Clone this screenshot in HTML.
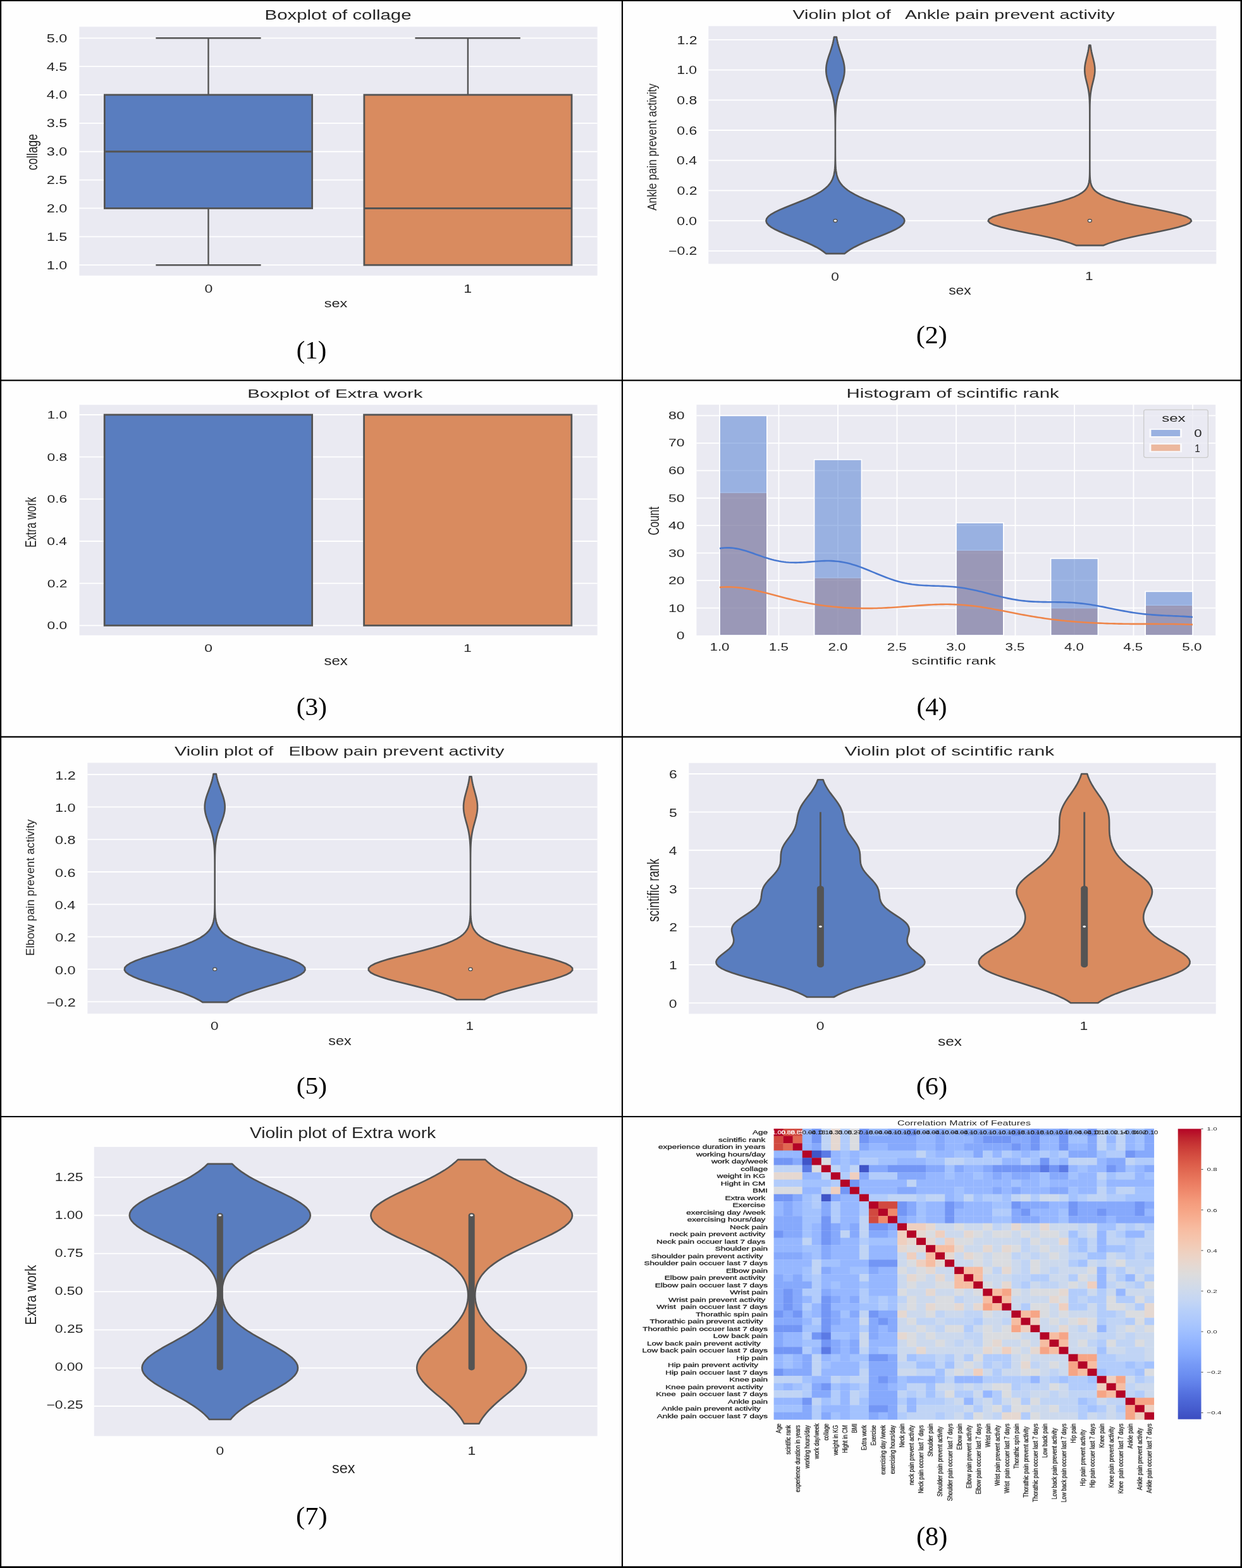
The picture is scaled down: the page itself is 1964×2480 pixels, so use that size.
<!DOCTYPE html>
<html><head><meta charset="utf-8"><title>Figures</title>
<style>html,body{margin:0;padding:0;background:#fff;overflow:hidden;width:1964px;height:2480px;}svg{display:block;}</style></head>
<body><svg width="1964" height="2480" viewBox="0 0 1964 2480">
<rect width="1964" height="2480" fill="#fefefe"/>
<rect x="125.40" y="42.30" width="819.20" height="393.60" fill="#eaeaf2" />
<line x1="125.40" y1="419.20" x2="944.60" y2="419.20" stroke="#fff" stroke-width="1.8"/>
<line x1="125.40" y1="374.34" x2="944.60" y2="374.34" stroke="#fff" stroke-width="1.8"/>
<line x1="125.40" y1="329.47" x2="944.60" y2="329.47" stroke="#fff" stroke-width="1.8"/>
<line x1="125.40" y1="284.61" x2="944.60" y2="284.61" stroke="#fff" stroke-width="1.8"/>
<line x1="125.40" y1="239.75" x2="944.60" y2="239.75" stroke="#fff" stroke-width="1.8"/>
<line x1="125.40" y1="194.89" x2="944.60" y2="194.89" stroke="#fff" stroke-width="1.8"/>
<line x1="125.40" y1="150.02" x2="944.60" y2="150.02" stroke="#fff" stroke-width="1.8"/>
<line x1="125.40" y1="105.16" x2="944.60" y2="105.16" stroke="#fff" stroke-width="1.8"/>
<line x1="125.40" y1="60.30" x2="944.60" y2="60.30" stroke="#fff" stroke-width="1.8"/>
<line x1="329.5" y1="150.02499999999998" x2="329.5" y2="60.3" stroke="#545454" stroke-width="2.4"/>
<line x1="246.4" y1="60.3" x2="412.6" y2="60.3" stroke="#545454" stroke-width="2.4"/>
<line x1="329.5" y1="329.47499999999997" x2="329.5" y2="419.2" stroke="#545454" stroke-width="2.4"/>
<line x1="246.4" y1="419.2" x2="412.6" y2="419.2" stroke="#545454" stroke-width="2.4"/>
<rect x="165.40" y="150.02" width="328.20" height="179.45" fill="#597dbf" stroke="#545454" stroke-width="2.8"/>
<line x1="165.4" y1="239.75" x2="493.6" y2="239.75" stroke="#545454" stroke-width="2.8"/>
<line x1="739.9" y1="150.02499999999998" x2="739.9" y2="60.3" stroke="#545454" stroke-width="2.4"/>
<line x1="656.4" y1="60.3" x2="822.8" y2="60.3" stroke="#545454" stroke-width="2.4"/>
<rect x="575.90" y="150.02" width="328.10" height="269.18" fill="#d98b5f" stroke="#545454" stroke-width="2.8"/>
<line x1="575.9" y1="329.47499999999997" x2="904.0" y2="329.47499999999997" stroke="#545454" stroke-width="2.8"/>
<rect x="125.50" y="640.30" width="819.10" height="364.50" fill="#eaeaf2" />
<line x1="125.50" y1="989.30" x2="944.60" y2="989.30" stroke="#fff" stroke-width="1.8"/>
<line x1="125.50" y1="922.64" x2="944.60" y2="922.64" stroke="#fff" stroke-width="1.8"/>
<line x1="125.50" y1="855.98" x2="944.60" y2="855.98" stroke="#fff" stroke-width="1.8"/>
<line x1="125.50" y1="789.32" x2="944.60" y2="789.32" stroke="#fff" stroke-width="1.8"/>
<line x1="125.50" y1="722.66" x2="944.60" y2="722.66" stroke="#fff" stroke-width="1.8"/>
<line x1="125.50" y1="656.00" x2="944.60" y2="656.00" stroke="#fff" stroke-width="1.8"/>
<rect x="165.20" y="656.00" width="328.40" height="333.30" fill="#597dbf" stroke="#545454" stroke-width="2.8"/>
<rect x="575.60" y="656.00" width="328.20" height="333.30" fill="#d98b5f" stroke="#545454" stroke-width="2.8"/>
<rect x="1120.30" y="41.30" width="803.00" height="376.00" fill="#eaeaf2" />
<line x1="1120.30" y1="396.80" x2="1923.30" y2="396.80" stroke="#fff" stroke-width="1.8"/>
<line x1="1120.30" y1="349.10" x2="1923.30" y2="349.10" stroke="#fff" stroke-width="1.8"/>
<line x1="1120.30" y1="301.40" x2="1923.30" y2="301.40" stroke="#fff" stroke-width="1.8"/>
<line x1="1120.30" y1="253.70" x2="1923.30" y2="253.70" stroke="#fff" stroke-width="1.8"/>
<line x1="1120.30" y1="206.00" x2="1923.30" y2="206.00" stroke="#fff" stroke-width="1.8"/>
<line x1="1120.30" y1="158.30" x2="1923.30" y2="158.30" stroke="#fff" stroke-width="1.8"/>
<line x1="1120.30" y1="110.60" x2="1923.30" y2="110.60" stroke="#fff" stroke-width="1.8"/>
<line x1="1120.30" y1="62.90" x2="1923.30" y2="62.90" stroke="#fff" stroke-width="1.8"/>
<path d="M1306.08,401.10 L1301.73,397.64 L1296.54,394.18 L1290.50,390.72 L1283.61,387.26 L1275.97,383.80 L1267.71,380.34 L1259.03,376.88 L1250.21,373.43 L1241.54,369.97 L1233.38,366.51 L1226.07,363.05 L1219.95,359.59 L1215.33,356.13 L1212.42,352.67 L1211.40,349.21 L1212.31,345.75 L1215.09,342.29 L1219.62,338.83 L1225.65,335.37 L1232.90,331.91 L1241.02,328.45 L1249.66,324.99 L1258.49,321.53 L1267.18,318.07 L1275.47,314.61 L1283.15,311.15 L1290.09,307.69 L1296.19,304.23 L1301.43,300.77 L1305.83,297.31 L1309.44,293.85 L1312.34,290.39 L1314.62,286.93 L1316.37,283.47 L1317.69,280.01 L1318.67,276.56 L1319.37,273.10 L1319.87,269.64 L1320.22,266.18 L1320.46,262.72 L1320.62,259.26 L1320.72,255.80 L1320.79,252.34 L1320.83,248.88 L1320.86,245.42 L1320.88,241.96 L1320.89,238.50 L1320.89,235.04 L1320.90,231.58 L1320.90,228.12 L1320.90,224.66 L1320.90,221.20 L1320.90,217.74 L1320.89,214.28 L1320.89,210.82 L1320.89,207.36 L1320.88,203.90 L1320.86,200.44 L1320.84,196.98 L1320.81,193.52 L1320.76,190.06 L1320.70,186.60 L1320.60,183.14 L1320.47,179.69 L1320.29,176.23 L1320.06,172.77 L1319.76,169.31 L1319.37,165.85 L1318.89,162.39 L1318.30,158.93 L1317.60,155.47 L1316.78,152.01 L1315.85,148.55 L1314.83,145.09 L1313.72,141.63 L1312.56,138.17 L1311.38,134.71 L1310.22,131.25 L1309.14,127.79 L1308.17,124.33 L1307.36,120.87 L1306.76,117.41 L1306.38,113.95 L1306.26,110.49 L1306.40,107.03 L1306.79,103.57 L1307.41,100.11 L1308.22,96.65 L1309.20,93.19 L1310.29,89.73 L1311.45,86.27 L1312.63,82.82 L1313.79,79.36 L1314.89,75.90 L1315.92,72.44 L1316.84,68.98 L1317.64,65.52 L1318.34,62.06 L1318.92,58.60 L1322.88,58.60 L1323.46,62.06 L1324.16,65.52 L1324.96,68.98 L1325.88,72.44 L1326.91,75.90 L1328.01,79.36 L1329.17,82.82 L1330.35,86.27 L1331.51,89.73 L1332.60,93.19 L1333.58,96.65 L1334.39,100.11 L1335.01,103.57 L1335.40,107.03 L1335.54,110.49 L1335.42,113.95 L1335.04,117.41 L1334.44,120.87 L1333.63,124.33 L1332.66,127.79 L1331.58,131.25 L1330.42,134.71 L1329.24,138.17 L1328.08,141.63 L1326.97,145.09 L1325.95,148.55 L1325.02,152.01 L1324.20,155.47 L1323.50,158.93 L1322.91,162.39 L1322.43,165.85 L1322.04,169.31 L1321.74,172.77 L1321.51,176.23 L1321.33,179.69 L1321.20,183.14 L1321.10,186.60 L1321.04,190.06 L1320.99,193.52 L1320.96,196.98 L1320.94,200.44 L1320.92,203.90 L1320.91,207.36 L1320.91,210.82 L1320.91,214.28 L1320.90,217.74 L1320.90,221.20 L1320.90,224.66 L1320.90,228.12 L1320.90,231.58 L1320.91,235.04 L1320.91,238.50 L1320.92,241.96 L1320.94,245.42 L1320.97,248.88 L1321.01,252.34 L1321.08,255.80 L1321.18,259.26 L1321.34,262.72 L1321.58,266.18 L1321.93,269.64 L1322.43,273.10 L1323.13,276.56 L1324.11,280.01 L1325.43,283.47 L1327.18,286.93 L1329.46,290.39 L1332.36,293.85 L1335.97,297.31 L1340.37,300.77 L1345.61,304.23 L1351.71,307.69 L1358.65,311.15 L1366.33,314.61 L1374.62,318.07 L1383.31,321.53 L1392.14,324.99 L1400.78,328.45 L1408.90,331.91 L1416.15,335.37 L1422.18,338.83 L1426.71,342.29 L1429.49,345.75 L1430.40,349.21 L1429.38,352.67 L1426.47,356.13 L1421.85,359.59 L1415.73,363.05 L1408.42,366.51 L1400.26,369.97 L1391.59,373.43 L1382.77,376.88 L1374.09,380.34 L1365.83,383.80 L1358.19,387.26 L1351.30,390.72 L1345.26,394.18 L1340.07,397.64 L1335.72,401.10 Z" fill="#597dbf" stroke="#545454" stroke-width="2.6" stroke-linejoin="round"/>
<ellipse cx="1320.9" cy="349.10" rx="3.0" ry="2.4" fill="#fff" stroke="#545454" stroke-width="1.4"/>
<path d="M1701.54,388.08 L1693.50,384.88 L1683.56,381.68 L1671.72,378.49 L1658.13,375.29 L1643.15,372.10 L1627.33,368.90 L1611.45,365.70 L1596.39,362.51 L1583.13,359.31 L1572.60,356.11 L1565.57,352.92 L1562.60,349.72 L1563.92,346.52 L1569.42,343.33 L1578.68,340.13 L1590.98,336.93 L1605.46,333.74 L1621.13,330.54 L1637.08,327.34 L1652.46,324.15 L1666.65,320.95 L1679.19,317.75 L1689.87,314.56 L1698.64,311.36 L1705.59,308.16 L1710.92,304.97 L1714.87,301.77 L1717.72,298.58 L1719.70,295.38 L1721.04,292.18 L1721.92,288.99 L1722.48,285.79 L1722.82,282.59 L1723.03,279.40 L1723.15,276.20 L1723.22,273.00 L1723.26,269.81 L1723.28,266.61 L1723.29,263.41 L1723.30,260.22 L1723.30,257.02 L1723.30,253.82 L1723.30,250.63 L1723.30,247.43 L1723.30,244.23 L1723.30,241.04 L1723.30,237.84 L1723.30,234.64 L1723.30,231.45 L1723.30,228.25 L1723.30,225.06 L1723.30,221.86 L1723.30,218.66 L1723.30,215.47 L1723.30,212.27 L1723.30,209.07 L1723.30,205.88 L1723.30,202.68 L1723.30,199.48 L1723.30,196.29 L1723.30,193.09 L1723.30,189.89 L1723.30,186.70 L1723.29,183.50 L1723.29,180.30 L1723.28,177.11 L1723.26,173.91 L1723.23,170.71 L1723.19,167.52 L1723.12,164.32 L1723.02,161.12 L1722.88,157.93 L1722.68,154.73 L1722.41,151.54 L1722.06,148.34 L1721.61,145.14 L1721.08,141.95 L1720.44,138.75 L1719.73,135.55 L1718.95,132.36 L1718.15,129.16 L1717.36,125.96 L1716.63,122.77 L1716.01,119.57 L1715.54,116.37 L1715.26,113.18 L1715.20,109.98 L1715.35,106.78 L1715.70,103.59 L1716.23,100.39 L1716.90,97.19 L1717.66,94.00 L1718.46,90.80 L1719.26,87.60 L1720.01,84.41 L1720.70,81.21 L1721.30,78.02 L1721.80,74.82 L1722.20,71.62 L1724.40,71.62 L1724.80,74.82 L1725.30,78.02 L1725.90,81.21 L1726.59,84.41 L1727.34,87.60 L1728.14,90.80 L1728.94,94.00 L1729.70,97.19 L1730.37,100.39 L1730.90,103.59 L1731.25,106.78 L1731.40,109.98 L1731.34,113.18 L1731.06,116.37 L1730.59,119.57 L1729.97,122.77 L1729.24,125.96 L1728.45,129.16 L1727.65,132.36 L1726.87,135.55 L1726.16,138.75 L1725.52,141.95 L1724.99,145.14 L1724.54,148.34 L1724.19,151.54 L1723.92,154.73 L1723.72,157.93 L1723.58,161.12 L1723.48,164.32 L1723.41,167.52 L1723.37,170.71 L1723.34,173.91 L1723.32,177.11 L1723.31,180.30 L1723.31,183.50 L1723.30,186.70 L1723.30,189.89 L1723.30,193.09 L1723.30,196.29 L1723.30,199.48 L1723.30,202.68 L1723.30,205.88 L1723.30,209.07 L1723.30,212.27 L1723.30,215.47 L1723.30,218.66 L1723.30,221.86 L1723.30,225.06 L1723.30,228.25 L1723.30,231.45 L1723.30,234.64 L1723.30,237.84 L1723.30,241.04 L1723.30,244.23 L1723.30,247.43 L1723.30,250.63 L1723.30,253.82 L1723.30,257.02 L1723.30,260.22 L1723.31,263.41 L1723.32,266.61 L1723.34,269.81 L1723.38,273.00 L1723.45,276.20 L1723.57,279.40 L1723.78,282.59 L1724.12,285.79 L1724.68,288.99 L1725.56,292.18 L1726.90,295.38 L1728.88,298.58 L1731.73,301.77 L1735.68,304.97 L1741.01,308.16 L1747.96,311.36 L1756.73,314.56 L1767.41,317.75 L1779.95,320.95 L1794.14,324.15 L1809.52,327.34 L1825.47,330.54 L1841.14,333.74 L1855.62,336.93 L1867.92,340.13 L1877.18,343.33 L1882.68,346.52 L1884.00,349.72 L1881.03,352.92 L1874.00,356.11 L1863.47,359.31 L1850.21,362.51 L1835.15,365.70 L1819.27,368.90 L1803.45,372.10 L1788.47,375.29 L1774.88,378.49 L1763.04,381.68 L1753.10,384.88 L1745.06,388.08 Z" fill="#d98b5f" stroke="#545454" stroke-width="2.6" stroke-linejoin="round"/>
<ellipse cx="1723.3" cy="349.10" rx="3.0" ry="2.4" fill="#fff" stroke="#545454" stroke-width="1.4"/>
<rect x="138.40" y="1206.50" width="806.20" height="396.80" fill="#eaeaf2" />
<line x1="138.40" y1="1584.30" x2="944.60" y2="1584.30" stroke="#fff" stroke-width="1.8"/>
<line x1="138.40" y1="1532.97" x2="944.60" y2="1532.97" stroke="#fff" stroke-width="1.8"/>
<line x1="138.40" y1="1481.64" x2="944.60" y2="1481.64" stroke="#fff" stroke-width="1.8"/>
<line x1="138.40" y1="1430.31" x2="944.60" y2="1430.31" stroke="#fff" stroke-width="1.8"/>
<line x1="138.40" y1="1378.99" x2="944.60" y2="1378.99" stroke="#fff" stroke-width="1.8"/>
<line x1="138.40" y1="1327.66" x2="944.60" y2="1327.66" stroke="#fff" stroke-width="1.8"/>
<line x1="138.40" y1="1276.33" x2="944.60" y2="1276.33" stroke="#fff" stroke-width="1.8"/>
<line x1="138.40" y1="1225.00" x2="944.60" y2="1225.00" stroke="#fff" stroke-width="1.8"/>
<path d="M320.35,1585.13 L314.35,1581.48 L307.14,1577.84 L298.69,1574.19 L289.05,1570.54 L278.34,1566.90 L266.82,1563.25 L254.81,1559.61 L242.73,1555.96 L231.08,1552.31 L220.38,1548.67 L211.17,1545.02 L203.93,1541.38 L199.05,1537.73 L196.82,1534.08 L197.36,1530.44 L200.65,1526.79 L206.49,1523.15 L214.55,1519.50 L224.41,1515.85 L235.54,1512.21 L247.42,1508.56 L259.53,1504.92 L271.39,1501.27 L282.63,1497.62 L292.94,1493.98 L302.13,1490.33 L310.10,1486.69 L316.83,1483.04 L322.37,1479.39 L326.82,1475.75 L330.32,1472.10 L333.00,1468.46 L335.00,1464.81 L336.47,1461.16 L337.53,1457.52 L338.26,1453.87 L338.77,1450.23 L339.11,1446.58 L339.33,1442.93 L339.47,1439.29 L339.56,1435.64 L339.62,1432.00 L339.65,1428.35 L339.67,1424.70 L339.69,1421.06 L339.69,1417.41 L339.70,1413.77 L339.70,1410.12 L339.70,1406.47 L339.70,1402.83 L339.70,1399.18 L339.70,1395.53 L339.70,1391.89 L339.70,1388.24 L339.70,1384.60 L339.69,1380.95 L339.69,1377.30 L339.68,1373.66 L339.67,1370.01 L339.66,1366.37 L339.63,1362.72 L339.60,1359.07 L339.54,1355.43 L339.46,1351.78 L339.34,1348.14 L339.18,1344.49 L338.95,1340.84 L338.65,1337.20 L338.26,1333.55 L337.77,1329.91 L337.15,1326.26 L336.40,1322.61 L335.51,1318.97 L334.48,1315.32 L333.33,1311.68 L332.07,1308.03 L330.75,1304.38 L329.40,1300.74 L328.07,1297.09 L326.83,1293.45 L325.73,1289.80 L324.83,1286.15 L324.17,1282.51 L323.81,1278.86 L323.75,1275.22 L324.00,1271.57 L324.54,1267.92 L325.35,1264.28 L326.38,1260.63 L327.57,1256.99 L328.87,1253.34 L330.22,1249.69 L331.56,1246.05 L332.85,1242.40 L334.04,1238.76 L335.12,1235.11 L336.06,1231.46 L336.87,1227.82 L337.54,1224.17 L341.86,1224.17 L342.53,1227.82 L343.34,1231.46 L344.28,1235.11 L345.36,1238.76 L346.55,1242.40 L347.84,1246.05 L349.18,1249.69 L350.53,1253.34 L351.83,1256.99 L353.02,1260.63 L354.05,1264.28 L354.86,1267.92 L355.40,1271.57 L355.65,1275.22 L355.59,1278.86 L355.23,1282.51 L354.57,1286.15 L353.67,1289.80 L352.57,1293.45 L351.33,1297.09 L350.00,1300.74 L348.65,1304.38 L347.33,1308.03 L346.07,1311.68 L344.92,1315.32 L343.89,1318.97 L343.00,1322.61 L342.25,1326.26 L341.63,1329.91 L341.14,1333.55 L340.75,1337.20 L340.45,1340.84 L340.22,1344.49 L340.06,1348.14 L339.94,1351.78 L339.86,1355.43 L339.80,1359.07 L339.77,1362.72 L339.74,1366.37 L339.73,1370.01 L339.72,1373.66 L339.71,1377.30 L339.71,1380.95 L339.70,1384.60 L339.70,1388.24 L339.70,1391.89 L339.70,1395.53 L339.70,1399.18 L339.70,1402.83 L339.70,1406.47 L339.70,1410.12 L339.70,1413.77 L339.71,1417.41 L339.71,1421.06 L339.73,1424.70 L339.75,1428.35 L339.78,1432.00 L339.84,1435.64 L339.93,1439.29 L340.07,1442.93 L340.29,1446.58 L340.63,1450.23 L341.14,1453.87 L341.87,1457.52 L342.93,1461.16 L344.40,1464.81 L346.40,1468.46 L349.08,1472.10 L352.58,1475.75 L357.03,1479.39 L362.57,1483.04 L369.30,1486.69 L377.27,1490.33 L386.46,1493.98 L396.77,1497.62 L408.01,1501.27 L419.87,1504.92 L431.98,1508.56 L443.86,1512.21 L454.99,1515.85 L464.85,1519.50 L472.91,1523.15 L478.75,1526.79 L482.04,1530.44 L482.58,1534.08 L480.35,1537.73 L475.47,1541.38 L468.23,1545.02 L459.02,1548.67 L448.32,1552.31 L436.67,1555.96 L424.59,1559.61 L412.58,1563.25 L401.06,1566.90 L390.35,1570.54 L380.71,1574.19 L372.26,1577.84 L365.05,1581.48 L359.05,1585.13 Z" fill="#597dbf" stroke="#545454" stroke-width="2.6" stroke-linejoin="round"/>
<ellipse cx="339.7" cy="1532.97" rx="3.0" ry="2.4" fill="#fff" stroke="#545454" stroke-width="1.4"/>
<path d="M722.13,1580.99 L714.89,1577.43 L706.11,1573.87 L695.75,1570.31 L683.90,1566.74 L670.76,1563.18 L656.70,1559.62 L642.20,1556.06 L627.88,1552.49 L614.42,1548.93 L602.56,1545.37 L592.97,1541.81 L586.24,1538.24 L582.80,1534.68 L582.87,1531.12 L586.45,1527.56 L593.30,1523.99 L602.99,1520.43 L614.93,1516.87 L628.44,1513.31 L642.78,1509.74 L657.27,1506.18 L671.31,1502.62 L684.40,1499.06 L696.20,1495.49 L706.49,1491.93 L715.21,1488.37 L722.39,1484.81 L728.13,1481.24 L732.59,1477.68 L735.98,1474.12 L738.49,1470.56 L740.29,1466.99 L741.56,1463.43 L742.43,1459.87 L743.01,1456.31 L743.39,1452.74 L743.63,1449.18 L743.78,1445.62 L743.88,1442.06 L743.93,1438.49 L743.96,1434.93 L743.98,1431.37 L743.99,1427.81 L743.99,1424.24 L744.00,1420.68 L744.00,1417.12 L744.00,1413.56 L744.00,1409.99 L744.00,1406.43 L744.00,1402.87 L744.00,1399.31 L744.00,1395.74 L744.00,1392.18 L744.00,1388.62 L744.00,1385.06 L744.00,1381.49 L744.00,1377.93 L744.00,1374.37 L744.00,1370.81 L743.99,1367.24 L743.99,1363.68 L743.97,1360.12 L743.96,1356.56 L743.93,1352.99 L743.89,1349.43 L743.83,1345.87 L743.75,1342.31 L743.62,1338.74 L743.45,1335.18 L743.22,1331.62 L742.91,1328.06 L742.52,1324.49 L742.03,1320.93 L741.44,1317.37 L740.73,1313.81 L739.92,1310.24 L739.03,1306.68 L738.07,1303.12 L737.08,1299.56 L736.10,1295.99 L735.17,1292.43 L734.36,1288.87 L733.70,1285.31 L733.23,1281.74 L732.98,1278.18 L732.98,1274.62 L733.21,1271.06 L733.67,1267.49 L734.33,1263.93 L735.14,1260.37 L736.06,1256.81 L737.04,1253.24 L738.03,1249.68 L738.99,1246.12 L739.89,1242.56 L740.70,1238.99 L741.41,1235.43 L742.01,1231.87 L742.50,1228.31 L745.50,1228.31 L745.99,1231.87 L746.59,1235.43 L747.30,1238.99 L748.11,1242.56 L749.01,1246.12 L749.97,1249.68 L750.96,1253.24 L751.94,1256.81 L752.86,1260.37 L753.67,1263.93 L754.33,1267.49 L754.79,1271.06 L755.02,1274.62 L755.02,1278.18 L754.77,1281.74 L754.30,1285.31 L753.64,1288.87 L752.83,1292.43 L751.90,1295.99 L750.92,1299.56 L749.93,1303.12 L748.97,1306.68 L748.08,1310.24 L747.27,1313.81 L746.56,1317.37 L745.97,1320.93 L745.48,1324.49 L745.09,1328.06 L744.78,1331.62 L744.55,1335.18 L744.38,1338.74 L744.25,1342.31 L744.17,1345.87 L744.11,1349.43 L744.07,1352.99 L744.04,1356.56 L744.03,1360.12 L744.01,1363.68 L744.01,1367.24 L744.00,1370.81 L744.00,1374.37 L744.00,1377.93 L744.00,1381.49 L744.00,1385.06 L744.00,1388.62 L744.00,1392.18 L744.00,1395.74 L744.00,1399.31 L744.00,1402.87 L744.00,1406.43 L744.00,1409.99 L744.00,1413.56 L744.00,1417.12 L744.00,1420.68 L744.01,1424.24 L744.01,1427.81 L744.02,1431.37 L744.04,1434.93 L744.07,1438.49 L744.12,1442.06 L744.22,1445.62 L744.37,1449.18 L744.61,1452.74 L744.99,1456.31 L745.57,1459.87 L746.44,1463.43 L747.71,1466.99 L749.51,1470.56 L752.02,1474.12 L755.41,1477.68 L759.87,1481.24 L765.61,1484.81 L772.79,1488.37 L781.51,1491.93 L791.80,1495.49 L803.60,1499.06 L816.69,1502.62 L830.73,1506.18 L845.22,1509.74 L859.56,1513.31 L873.07,1516.87 L885.01,1520.43 L894.70,1523.99 L901.55,1527.56 L905.13,1531.12 L905.20,1534.68 L901.76,1538.24 L895.03,1541.81 L885.44,1545.37 L873.58,1548.93 L860.12,1552.49 L845.80,1556.06 L831.30,1559.62 L817.24,1563.18 L804.10,1566.74 L792.25,1570.31 L781.89,1573.87 L773.11,1577.43 L765.87,1580.99 Z" fill="#d98b5f" stroke="#545454" stroke-width="2.6" stroke-linejoin="round"/>
<ellipse cx="744.0" cy="1532.97" rx="3.0" ry="2.4" fill="#fff" stroke="#545454" stroke-width="1.4"/>
<rect x="1089.30" y="1206.80" width="833.40" height="396.70" fill="#eaeaf2" />
<line x1="1089.30" y1="1586.30" x2="1922.70" y2="1586.30" stroke="#fff" stroke-width="1.8"/>
<line x1="1089.30" y1="1525.92" x2="1922.70" y2="1525.92" stroke="#fff" stroke-width="1.8"/>
<line x1="1089.30" y1="1465.53" x2="1922.70" y2="1465.53" stroke="#fff" stroke-width="1.8"/>
<line x1="1089.30" y1="1405.15" x2="1922.70" y2="1405.15" stroke="#fff" stroke-width="1.8"/>
<line x1="1089.30" y1="1344.77" x2="1922.70" y2="1344.77" stroke="#fff" stroke-width="1.8"/>
<line x1="1089.30" y1="1284.38" x2="1922.70" y2="1284.38" stroke="#fff" stroke-width="1.8"/>
<line x1="1089.30" y1="1224.00" x2="1922.70" y2="1224.00" stroke="#fff" stroke-width="1.8"/>
<path d="M1276.27,1577.00 L1269.92,1573.53 L1262.31,1570.06 L1253.41,1566.59 L1243.26,1563.11 L1231.98,1559.64 L1219.78,1556.17 L1206.95,1552.70 L1193.90,1549.23 L1181.06,1545.76 L1168.92,1542.28 L1157.96,1538.81 L1148.60,1535.34 L1141.21,1531.87 L1136.01,1528.40 L1133.07,1524.92 L1132.31,1521.45 L1133.50,1517.98 L1136.26,1514.51 L1140.12,1511.04 L1144.56,1507.57 L1149.05,1504.09 L1153.14,1500.62 L1156.46,1497.15 L1158.78,1493.68 L1160.04,1490.21 L1160.31,1486.74 L1159.81,1483.26 L1158.87,1479.79 L1157.84,1476.32 L1157.14,1472.85 L1157.08,1469.38 L1157.94,1465.91 L1159.87,1462.43 L1162.88,1458.96 L1166.86,1455.49 L1171.61,1452.02 L1176.82,1448.55 L1182.15,1445.07 L1187.29,1441.60 L1191.92,1438.13 L1195.84,1434.66 L1198.92,1431.19 L1201.15,1427.72 L1202.61,1424.24 L1203.48,1420.77 L1203.98,1417.30 L1204.38,1413.83 L1204.92,1410.36 L1205.80,1406.89 L1207.19,1403.41 L1209.13,1399.94 L1211.62,1396.47 L1214.56,1393.00 L1217.79,1389.53 L1221.12,1386.06 L1224.34,1382.58 L1227.26,1379.11 L1229.74,1375.64 L1231.68,1372.17 L1233.06,1368.70 L1233.92,1365.23 L1234.37,1361.75 L1234.56,1358.28 L1234.66,1354.81 L1234.84,1351.34 L1235.28,1347.87 L1236.07,1344.39 L1237.30,1340.92 L1238.97,1337.45 L1241.04,1333.98 L1243.42,1330.51 L1245.98,1327.04 L1248.58,1323.56 L1251.08,1320.09 L1253.36,1316.62 L1255.33,1313.15 L1256.95,1309.68 L1258.21,1306.21 L1259.15,1302.73 L1259.87,1299.26 L1260.45,1295.79 L1261.01,1292.32 L1261.68,1288.85 L1262.55,1285.38 L1263.69,1281.90 L1265.15,1278.43 L1266.93,1274.96 L1269.03,1271.49 L1271.38,1268.02 L1273.92,1264.54 L1276.56,1261.07 L1279.22,1257.60 L1281.82,1254.13 L1284.28,1250.66 L1286.55,1247.19 L1288.59,1243.71 L1290.37,1240.24 L1291.90,1236.77 L1293.17,1233.30 L1301.63,1233.30 L1302.90,1236.77 L1304.43,1240.24 L1306.21,1243.71 L1308.25,1247.19 L1310.52,1250.66 L1312.98,1254.13 L1315.58,1257.60 L1318.24,1261.07 L1320.88,1264.54 L1323.42,1268.02 L1325.77,1271.49 L1327.87,1274.96 L1329.65,1278.43 L1331.11,1281.90 L1332.25,1285.38 L1333.12,1288.85 L1333.79,1292.32 L1334.35,1295.79 L1334.93,1299.26 L1335.65,1302.73 L1336.59,1306.21 L1337.85,1309.68 L1339.47,1313.15 L1341.44,1316.62 L1343.72,1320.09 L1346.22,1323.56 L1348.82,1327.04 L1351.38,1330.51 L1353.76,1333.98 L1355.83,1337.45 L1357.50,1340.92 L1358.73,1344.39 L1359.52,1347.87 L1359.96,1351.34 L1360.14,1354.81 L1360.24,1358.28 L1360.43,1361.75 L1360.88,1365.23 L1361.74,1368.70 L1363.12,1372.17 L1365.06,1375.64 L1367.54,1379.11 L1370.46,1382.58 L1373.68,1386.06 L1377.01,1389.53 L1380.24,1393.00 L1383.18,1396.47 L1385.67,1399.94 L1387.61,1403.41 L1389.00,1406.89 L1389.88,1410.36 L1390.42,1413.83 L1390.82,1417.30 L1391.32,1420.77 L1392.19,1424.24 L1393.65,1427.72 L1395.88,1431.19 L1398.96,1434.66 L1402.88,1438.13 L1407.51,1441.60 L1412.65,1445.07 L1417.98,1448.55 L1423.19,1452.02 L1427.94,1455.49 L1431.92,1458.96 L1434.93,1462.43 L1436.86,1465.91 L1437.72,1469.38 L1437.66,1472.85 L1436.96,1476.32 L1435.93,1479.79 L1434.99,1483.26 L1434.49,1486.74 L1434.76,1490.21 L1436.02,1493.68 L1438.34,1497.15 L1441.66,1500.62 L1445.75,1504.09 L1450.24,1507.57 L1454.68,1511.04 L1458.54,1514.51 L1461.30,1517.98 L1462.49,1521.45 L1461.73,1524.92 L1458.79,1528.40 L1453.59,1531.87 L1446.20,1535.34 L1436.84,1538.81 L1425.88,1542.28 L1413.74,1545.76 L1400.90,1549.23 L1387.85,1552.70 L1375.02,1556.17 L1362.82,1559.64 L1351.54,1563.11 L1341.39,1566.59 L1332.49,1570.06 L1324.88,1573.53 L1318.53,1577.00 Z" fill="#597dbf" stroke="#545454" stroke-width="2.6" stroke-linejoin="round"/>
<line x1="1297.4" y1="1525.92" x2="1297.4" y2="1284.38" stroke="#545454" stroke-width="2.9"/>
<rect x="1291.90" y="1400.92" width="11.00" height="129.23" rx="5.50" ry="4.23" fill="#545454"/>
<ellipse cx="1297.4" cy="1465.53" rx="2.7" ry="1.8" fill="#fff" stroke="#545454" stroke-width="0.5"/>
<path d="M1693.40,1586.29 L1687.74,1582.63 L1681.08,1578.97 L1673.39,1575.31 L1664.66,1571.66 L1654.97,1568.00 L1644.43,1564.34 L1633.21,1560.68 L1621.56,1557.02 L1609.74,1553.36 L1598.09,1549.70 L1586.95,1546.04 L1576.68,1542.38 L1567.60,1538.72 L1560.01,1535.06 L1554.12,1531.40 L1550.11,1527.74 L1548.01,1524.08 L1547.80,1520.42 L1549.36,1516.76 L1552.48,1513.10 L1556.90,1509.44 L1562.32,1505.78 L1568.42,1502.13 L1574.88,1498.47 L1581.40,1494.81 L1587.75,1491.15 L1593.73,1487.49 L1599.20,1483.83 L1604.08,1480.17 L1608.31,1476.51 L1611.90,1472.85 L1614.86,1469.19 L1617.23,1465.53 L1619.03,1461.87 L1620.29,1458.21 L1621.03,1454.55 L1621.26,1450.89 L1621.01,1447.23 L1620.30,1443.57 L1619.16,1439.91 L1617.67,1436.26 L1615.90,1432.60 L1613.99,1428.94 L1612.06,1425.28 L1610.28,1421.62 L1608.81,1417.96 L1607.81,1414.30 L1607.42,1410.64 L1607.75,1406.98 L1608.86,1403.32 L1610.78,1399.66 L1613.47,1396.00 L1616.86,1392.34 L1620.84,1388.68 L1625.26,1385.02 L1629.97,1381.36 L1634.81,1377.70 L1639.62,1374.04 L1644.28,1370.39 L1648.68,1366.73 L1652.74,1363.07 L1656.42,1359.41 L1659.70,1355.75 L1662.59,1352.09 L1665.10,1348.43 L1667.25,1344.77 L1669.09,1341.11 L1670.65,1337.45 L1671.93,1333.79 L1672.98,1330.13 L1673.80,1326.47 L1674.42,1322.81 L1674.84,1319.15 L1675.10,1315.49 L1675.23,1311.83 L1675.27,1308.17 L1675.27,1304.52 L1675.30,1300.86 L1675.40,1297.20 L1675.66,1293.54 L1676.13,1289.88 L1676.84,1286.22 L1677.85,1282.56 L1679.17,1278.90 L1680.78,1275.24 L1682.69,1271.58 L1684.84,1267.92 L1687.20,1264.26 L1689.69,1260.60 L1692.25,1256.94 L1694.83,1253.28 L1697.35,1249.62 L1699.76,1245.96 L1702.01,1242.30 L1704.08,1238.64 L1705.94,1234.99 L1707.57,1231.33 L1708.99,1227.67 L1710.19,1224.01 L1719.21,1224.01 L1720.41,1227.67 L1721.83,1231.33 L1723.46,1234.99 L1725.32,1238.64 L1727.39,1242.30 L1729.64,1245.96 L1732.05,1249.62 L1734.57,1253.28 L1737.15,1256.94 L1739.71,1260.60 L1742.20,1264.26 L1744.56,1267.92 L1746.71,1271.58 L1748.62,1275.24 L1750.23,1278.90 L1751.55,1282.56 L1752.56,1286.22 L1753.27,1289.88 L1753.74,1293.54 L1754.00,1297.20 L1754.10,1300.86 L1754.13,1304.52 L1754.13,1308.17 L1754.17,1311.83 L1754.30,1315.49 L1754.56,1319.15 L1754.98,1322.81 L1755.60,1326.47 L1756.42,1330.13 L1757.47,1333.79 L1758.75,1337.45 L1760.31,1341.11 L1762.15,1344.77 L1764.30,1348.43 L1766.81,1352.09 L1769.70,1355.75 L1772.98,1359.41 L1776.66,1363.07 L1780.72,1366.73 L1785.12,1370.39 L1789.78,1374.04 L1794.59,1377.70 L1799.43,1381.36 L1804.14,1385.02 L1808.56,1388.68 L1812.54,1392.34 L1815.93,1396.00 L1818.62,1399.66 L1820.54,1403.32 L1821.65,1406.98 L1821.98,1410.64 L1821.59,1414.30 L1820.59,1417.96 L1819.12,1421.62 L1817.34,1425.28 L1815.41,1428.94 L1813.50,1432.60 L1811.73,1436.26 L1810.24,1439.91 L1809.10,1443.57 L1808.39,1447.23 L1808.14,1450.89 L1808.37,1454.55 L1809.11,1458.21 L1810.37,1461.87 L1812.17,1465.53 L1814.54,1469.19 L1817.50,1472.85 L1821.09,1476.51 L1825.32,1480.17 L1830.20,1483.83 L1835.67,1487.49 L1841.65,1491.15 L1848.00,1494.81 L1854.52,1498.47 L1860.98,1502.13 L1867.08,1505.78 L1872.50,1509.44 L1876.92,1513.10 L1880.04,1516.76 L1881.60,1520.42 L1881.39,1524.08 L1879.29,1527.74 L1875.28,1531.40 L1869.39,1535.06 L1861.80,1538.72 L1852.72,1542.38 L1842.45,1546.04 L1831.31,1549.70 L1819.66,1553.36 L1807.84,1557.02 L1796.19,1560.68 L1784.97,1564.34 L1774.43,1568.00 L1764.74,1571.66 L1756.01,1575.31 L1748.32,1578.97 L1741.66,1582.63 L1736.00,1586.29 Z" fill="#d98b5f" stroke="#545454" stroke-width="2.6" stroke-linejoin="round"/>
<line x1="1714.7" y1="1525.92" x2="1714.7" y2="1284.38" stroke="#545454" stroke-width="2.9"/>
<rect x="1709.20" y="1400.92" width="11.00" height="129.23" rx="5.50" ry="4.23" fill="#545454"/>
<ellipse cx="1714.7" cy="1465.53" rx="2.7" ry="1.8" fill="#fff" stroke="#545454" stroke-width="0.5"/>
<rect x="148.80" y="1814.00" width="795.80" height="457.30" fill="#eaeaf2" />
<line x1="148.80" y1="2224.00" x2="944.60" y2="2224.00" stroke="#fff" stroke-width="1.8"/>
<line x1="148.80" y1="2163.65" x2="944.60" y2="2163.65" stroke="#fff" stroke-width="1.8"/>
<line x1="148.80" y1="2103.30" x2="944.60" y2="2103.30" stroke="#fff" stroke-width="1.8"/>
<line x1="148.80" y1="2042.95" x2="944.60" y2="2042.95" stroke="#fff" stroke-width="1.8"/>
<line x1="148.80" y1="1982.60" x2="944.60" y2="1982.60" stroke="#fff" stroke-width="1.8"/>
<line x1="148.80" y1="1922.25" x2="944.60" y2="1922.25" stroke="#fff" stroke-width="1.8"/>
<line x1="148.80" y1="1861.90" x2="944.60" y2="1861.90" stroke="#fff" stroke-width="1.8"/>
<path d="M331.12,2245.03 L327.52,2240.95 L323.38,2236.87 L318.69,2232.78 L313.46,2228.70 L307.69,2224.62 L301.41,2220.54 L294.70,2216.45 L287.62,2212.37 L280.27,2208.29 L272.80,2204.21 L265.32,2200.12 L258.02,2196.04 L251.04,2191.96 L244.57,2187.88 L238.76,2183.79 L233.78,2179.71 L229.77,2175.63 L226.84,2171.55 L225.09,2167.46 L224.55,2163.38 L225.25,2159.30 L227.16,2155.22 L230.24,2151.13 L234.38,2147.05 L239.48,2142.97 L245.38,2138.89 L251.93,2134.80 L258.96,2130.72 L266.30,2126.64 L273.78,2122.56 L281.25,2118.48 L288.56,2114.39 L295.60,2110.31 L302.26,2106.23 L308.47,2102.15 L314.16,2098.06 L319.32,2093.98 L323.92,2089.90 L327.97,2085.82 L331.49,2081.73 L334.50,2077.65 L337.03,2073.57 L339.12,2069.49 L340.82,2065.40 L342.17,2061.32 L343.18,2057.24 L343.90,2053.16 L344.35,2049.07 L344.53,2044.99 L344.46,2040.91 L344.13,2036.83 L343.52,2032.74 L342.62,2028.66 L341.39,2024.58 L339.79,2020.50 L337.79,2016.41 L335.34,2012.33 L332.39,2008.25 L328.89,2004.17 L324.81,2000.08 L320.10,1996.00 L314.76,1991.92 L308.77,1987.84 L302.16,1983.75 L294.96,1979.67 L287.23,1975.59 L279.06,1971.51 L270.58,1967.42 L261.91,1963.34 L253.23,1959.26 L244.71,1955.18 L236.56,1951.10 L228.96,1947.01 L222.11,1942.93 L216.20,1938.85 L211.39,1934.77 L207.82,1930.68 L205.59,1926.60 L204.78,1922.52 L205.41,1918.44 L207.45,1914.35 L210.84,1910.27 L215.50,1906.19 L221.27,1902.11 L228.01,1898.02 L235.52,1893.94 L243.62,1889.86 L252.10,1885.78 L260.77,1881.69 L269.44,1877.61 L277.96,1873.53 L286.18,1869.45 L293.97,1865.36 L301.25,1861.28 L307.95,1857.20 L314.03,1853.12 L319.46,1849.03 L324.26,1844.95 L328.44,1840.87 L367.16,1840.87 L371.34,1844.95 L376.14,1849.03 L381.57,1853.12 L387.65,1857.20 L394.35,1861.28 L401.63,1865.36 L409.42,1869.45 L417.64,1873.53 L426.16,1877.61 L434.83,1881.69 L443.50,1885.78 L451.98,1889.86 L460.08,1893.94 L467.59,1898.02 L474.33,1902.11 L480.10,1906.19 L484.76,1910.27 L488.15,1914.35 L490.19,1918.44 L490.82,1922.52 L490.01,1926.60 L487.78,1930.68 L484.21,1934.77 L479.40,1938.85 L473.49,1942.93 L466.64,1947.01 L459.04,1951.10 L450.89,1955.18 L442.37,1959.26 L433.69,1963.34 L425.02,1967.42 L416.54,1971.51 L408.37,1975.59 L400.64,1979.67 L393.44,1983.75 L386.83,1987.84 L380.84,1991.92 L375.50,1996.00 L370.79,2000.08 L366.71,2004.17 L363.21,2008.25 L360.26,2012.33 L357.81,2016.41 L355.81,2020.50 L354.21,2024.58 L352.98,2028.66 L352.08,2032.74 L351.47,2036.83 L351.14,2040.91 L351.07,2044.99 L351.25,2049.07 L351.70,2053.16 L352.42,2057.24 L353.43,2061.32 L354.78,2065.40 L356.48,2069.49 L358.57,2073.57 L361.10,2077.65 L364.11,2081.73 L367.63,2085.82 L371.68,2089.90 L376.28,2093.98 L381.44,2098.06 L387.13,2102.15 L393.34,2106.23 L400.00,2110.31 L407.04,2114.39 L414.35,2118.48 L421.82,2122.56 L429.30,2126.64 L436.64,2130.72 L443.67,2134.80 L450.22,2138.89 L456.12,2142.97 L461.22,2147.05 L465.36,2151.13 L468.44,2155.22 L470.35,2159.30 L471.05,2163.38 L470.51,2167.46 L468.76,2171.55 L465.83,2175.63 L461.82,2179.71 L456.84,2183.79 L451.03,2187.88 L444.56,2191.96 L437.58,2196.04 L430.28,2200.12 L422.80,2204.21 L415.33,2208.29 L407.98,2212.37 L400.90,2216.45 L394.19,2220.54 L387.91,2224.62 L382.14,2228.70 L376.91,2232.78 L372.22,2236.87 L368.08,2240.95 L364.48,2245.03 Z" fill="#597dbf" stroke="#545454" stroke-width="2.6" stroke-linejoin="round"/>
<line x1="347.8" y1="2163.65" x2="347.8" y2="1922.25" stroke="#545454" stroke-width="2.9"/>
<rect x="342.80" y="1918.40" width="10.00" height="249.09" rx="5.00" ry="3.85" fill="#545454"/>
<ellipse cx="347.8" cy="1922.25" rx="2.7" ry="1.8" fill="#fff" stroke="#545454" stroke-width="0.5"/>
<path d="M733.99,2251.79 L731.58,2247.57 L728.84,2243.35 L725.74,2239.14 L722.29,2234.92 L718.50,2230.70 L714.38,2226.48 L709.96,2222.26 L705.29,2218.04 L700.43,2213.82 L695.45,2209.60 L690.43,2205.38 L685.46,2201.16 L680.65,2196.95 L676.09,2192.73 L671.89,2188.51 L668.15,2184.29 L664.96,2180.07 L662.42,2175.85 L660.57,2171.63 L659.48,2167.41 L659.17,2163.19 L659.65,2158.97 L660.91,2154.75 L662.91,2150.54 L665.60,2146.32 L668.91,2142.10 L672.76,2137.88 L677.05,2133.66 L681.67,2129.44 L686.53,2125.22 L691.51,2121.00 L696.53,2116.78 L701.48,2112.56 L706.30,2108.35 L710.91,2104.13 L715.25,2099.91 L719.28,2095.69 L722.97,2091.47 L726.30,2087.25 L729.26,2083.03 L731.84,2078.81 L734.06,2074.59 L735.92,2070.37 L737.44,2066.15 L738.62,2061.94 L739.47,2057.72 L740.00,2053.50 L740.21,2049.28 L740.10,2045.06 L739.65,2040.84 L738.85,2036.62 L737.66,2032.40 L736.07,2028.18 L734.02,2023.96 L731.49,2019.75 L728.43,2015.53 L724.80,2011.31 L720.56,2007.09 L715.69,2002.87 L710.17,1998.65 L703.98,1994.43 L697.15,1990.21 L689.70,1985.99 L681.69,1981.77 L673.20,1977.55 L664.32,1973.34 L655.19,1969.12 L645.95,1964.90 L636.77,1960.68 L627.83,1956.46 L619.32,1952.24 L611.43,1948.02 L604.35,1943.80 L598.25,1939.58 L593.29,1935.36 L589.60,1931.15 L587.29,1926.93 L586.40,1922.71 L586.97,1918.49 L588.98,1914.27 L592.38,1910.05 L597.07,1905.83 L602.94,1901.61 L609.82,1897.39 L617.55,1893.17 L625.94,1888.95 L634.81,1884.74 L643.95,1880.52 L653.20,1876.30 L662.37,1872.08 L671.31,1867.86 L679.90,1863.64 L688.03,1859.42 L695.62,1855.20 L702.61,1850.98 L708.96,1846.76 L714.65,1842.55 L719.71,1838.33 L724.14,1834.11 L767.26,1834.11 L771.69,1838.33 L776.75,1842.55 L782.44,1846.76 L788.79,1850.98 L795.78,1855.20 L803.37,1859.42 L811.50,1863.64 L820.09,1867.86 L829.03,1872.08 L838.20,1876.30 L847.45,1880.52 L856.59,1884.74 L865.46,1888.95 L873.85,1893.17 L881.58,1897.39 L888.46,1901.61 L894.33,1905.83 L899.02,1910.05 L902.42,1914.27 L904.43,1918.49 L905.00,1922.71 L904.11,1926.93 L901.80,1931.15 L898.11,1935.36 L893.15,1939.58 L887.05,1943.80 L879.97,1948.02 L872.08,1952.24 L863.57,1956.46 L854.63,1960.68 L845.45,1964.90 L836.21,1969.12 L827.08,1973.34 L818.20,1977.55 L809.71,1981.77 L801.70,1985.99 L794.25,1990.21 L787.42,1994.43 L781.23,1998.65 L775.71,2002.87 L770.84,2007.09 L766.60,2011.31 L762.97,2015.53 L759.91,2019.75 L757.38,2023.96 L755.33,2028.18 L753.74,2032.40 L752.55,2036.62 L751.75,2040.84 L751.30,2045.06 L751.19,2049.28 L751.40,2053.50 L751.93,2057.72 L752.78,2061.94 L753.96,2066.15 L755.48,2070.37 L757.34,2074.59 L759.56,2078.81 L762.14,2083.03 L765.10,2087.25 L768.43,2091.47 L772.12,2095.69 L776.15,2099.91 L780.49,2104.13 L785.10,2108.35 L789.92,2112.56 L794.87,2116.78 L799.89,2121.00 L804.87,2125.22 L809.73,2129.44 L814.35,2133.66 L818.64,2137.88 L822.49,2142.10 L825.80,2146.32 L828.49,2150.54 L830.49,2154.75 L831.75,2158.97 L832.23,2163.19 L831.92,2167.41 L830.83,2171.63 L828.98,2175.85 L826.44,2180.07 L823.25,2184.29 L819.51,2188.51 L815.31,2192.73 L810.75,2196.95 L805.94,2201.16 L800.97,2205.38 L795.95,2209.60 L790.97,2213.82 L786.11,2218.04 L781.44,2222.26 L777.02,2226.48 L772.90,2230.70 L769.11,2234.92 L765.66,2239.14 L762.56,2243.35 L759.82,2247.57 L757.41,2251.79 Z" fill="#d98b5f" stroke="#545454" stroke-width="2.6" stroke-linejoin="round"/>
<line x1="745.7" y1="2163.65" x2="745.7" y2="1922.25" stroke="#545454" stroke-width="2.9"/>
<rect x="740.70" y="1918.40" width="10.00" height="249.09" rx="5.00" ry="3.85" fill="#545454"/>
<ellipse cx="745.7" cy="1922.25" rx="2.7" ry="1.8" fill="#fff" stroke="#545454" stroke-width="0.5"/>
<rect x="1101.40" y="640.10" width="820.80" height="364.90" fill="#eaeaf2" />
<line x1="1101.40" y1="961.55" x2="1922.20" y2="961.55" stroke="#fff" stroke-width="1.8"/>
<line x1="1101.40" y1="918.10" x2="1922.20" y2="918.10" stroke="#fff" stroke-width="1.8"/>
<line x1="1101.40" y1="874.65" x2="1922.20" y2="874.65" stroke="#fff" stroke-width="1.8"/>
<line x1="1101.40" y1="831.20" x2="1922.20" y2="831.20" stroke="#fff" stroke-width="1.8"/>
<line x1="1101.40" y1="787.75" x2="1922.20" y2="787.75" stroke="#fff" stroke-width="1.8"/>
<line x1="1101.40" y1="744.30" x2="1922.20" y2="744.30" stroke="#fff" stroke-width="1.8"/>
<line x1="1101.40" y1="700.85" x2="1922.20" y2="700.85" stroke="#fff" stroke-width="1.8"/>
<line x1="1101.40" y1="657.40" x2="1922.20" y2="657.40" stroke="#fff" stroke-width="1.8"/>
<line x1="1138.00" y1="640.10" x2="1138.00" y2="1005.00" stroke="#fff" stroke-width="1.8"/>
<line x1="1231.50" y1="640.10" x2="1231.50" y2="1005.00" stroke="#fff" stroke-width="1.8"/>
<line x1="1325.00" y1="640.10" x2="1325.00" y2="1005.00" stroke="#fff" stroke-width="1.8"/>
<line x1="1418.50" y1="640.10" x2="1418.50" y2="1005.00" stroke="#fff" stroke-width="1.8"/>
<line x1="1512.00" y1="640.10" x2="1512.00" y2="1005.00" stroke="#fff" stroke-width="1.8"/>
<line x1="1605.50" y1="640.10" x2="1605.50" y2="1005.00" stroke="#fff" stroke-width="1.8"/>
<line x1="1699.00" y1="640.10" x2="1699.00" y2="1005.00" stroke="#fff" stroke-width="1.8"/>
<line x1="1792.50" y1="640.10" x2="1792.50" y2="1005.00" stroke="#fff" stroke-width="1.8"/>
<line x1="1886.00" y1="640.10" x2="1886.00" y2="1005.00" stroke="#fff" stroke-width="1.8"/>
<rect x="1138.00" y="779.06" width="74.80" height="225.94" fill="#ee854a" fill-opacity="0.5" stroke="#fff" stroke-width="1.6"/>
<rect x="1287.60" y="913.75" width="74.80" height="91.25" fill="#ee854a" fill-opacity="0.5" stroke="#fff" stroke-width="1.6"/>
<rect x="1512.00" y="870.31" width="74.80" height="134.69" fill="#ee854a" fill-opacity="0.5" stroke="#fff" stroke-width="1.6"/>
<rect x="1661.60" y="961.55" width="74.80" height="43.45" fill="#ee854a" fill-opacity="0.5" stroke="#fff" stroke-width="1.6"/>
<rect x="1811.20" y="957.21" width="74.80" height="47.79" fill="#ee854a" fill-opacity="0.5" stroke="#fff" stroke-width="1.6"/>
<rect x="1138.00" y="657.40" width="74.80" height="347.60" fill="#4878d0" fill-opacity="0.5" stroke="#fff" stroke-width="1.6"/>
<rect x="1287.60" y="726.92" width="74.80" height="278.08" fill="#4878d0" fill-opacity="0.5" stroke="#fff" stroke-width="1.6"/>
<rect x="1512.00" y="826.86" width="74.80" height="178.14" fill="#4878d0" fill-opacity="0.5" stroke="#fff" stroke-width="1.6"/>
<rect x="1661.60" y="883.34" width="74.80" height="121.66" fill="#4878d0" fill-opacity="0.5" stroke="#fff" stroke-width="1.6"/>
<rect x="1811.20" y="935.48" width="74.80" height="69.52" fill="#4878d0" fill-opacity="0.5" stroke="#fff" stroke-width="1.6"/>
<path d="M1138.00,928.93 L1141.76,928.66 L1145.52,928.48 L1149.28,928.40 L1153.04,928.42 L1156.79,928.52 L1160.55,928.71 L1164.31,928.99 L1168.07,929.35 L1171.83,929.79 L1175.59,930.29 L1179.35,930.87 L1183.11,931.51 L1186.86,932.21 L1190.62,932.96 L1194.38,933.77 L1198.14,934.61 L1201.90,935.49 L1205.66,936.40 L1209.42,937.34 L1213.18,938.30 L1216.93,939.28 L1220.69,940.27 L1224.45,941.26 L1228.21,942.25 L1231.97,943.25 L1235.73,944.23 L1239.49,945.21 L1243.25,946.17 L1247.01,947.12 L1250.76,948.04 L1254.52,948.94 L1258.28,949.82 L1262.04,950.67 L1265.80,951.49 L1269.56,952.29 L1273.32,953.05 L1277.08,953.78 L1280.83,954.48 L1284.59,955.15 L1288.35,955.78 L1292.11,956.38 L1295.87,956.95 L1299.63,957.49 L1303.39,957.99 L1307.15,958.47 L1310.90,958.91 L1314.66,959.32 L1318.42,959.70 L1322.18,960.05 L1325.94,960.38 L1329.70,960.67 L1333.46,960.94 L1337.22,961.18 L1340.97,961.39 L1344.73,961.58 L1348.49,961.74 L1352.25,961.87 L1356.01,961.97 L1359.77,962.06 L1363.53,962.11 L1367.29,962.14 L1371.05,962.15 L1374.80,962.13 L1378.56,962.09 L1382.32,962.02 L1386.08,961.93 L1389.84,961.82 L1393.60,961.68 L1397.36,961.53 L1401.12,961.35 L1404.87,961.16 L1408.63,960.94 L1412.39,960.71 L1416.15,960.47 L1419.91,960.21 L1423.67,959.94 L1427.43,959.66 L1431.19,959.37 L1434.94,959.08 L1438.70,958.78 L1442.46,958.49 L1446.22,958.19 L1449.98,957.91 L1453.74,957.62 L1457.50,957.35 L1461.26,957.10 L1465.02,956.85 L1468.77,956.63 L1472.53,956.43 L1476.29,956.25 L1480.05,956.10 L1483.81,955.98 L1487.57,955.89 L1491.33,955.83 L1495.09,955.80 L1498.84,955.81 L1502.60,955.86 L1506.36,955.95 L1510.12,956.08 L1513.88,956.25 L1517.64,956.46 L1521.40,956.71 L1525.16,957.00 L1528.91,957.33 L1532.67,957.70 L1536.43,958.11 L1540.19,958.56 L1543.95,959.04 L1547.71,959.55 L1551.47,960.10 L1555.23,960.68 L1558.98,961.28 L1562.74,961.91 L1566.50,962.56 L1570.26,963.24 L1574.02,963.93 L1577.78,964.63 L1581.54,965.35 L1585.30,966.07 L1589.06,966.80 L1592.81,967.54 L1596.57,968.28 L1600.33,969.02 L1604.09,969.75 L1607.85,970.48 L1611.61,971.20 L1615.37,971.91 L1619.13,972.61 L1622.88,973.29 L1626.64,973.96 L1630.40,974.62 L1634.16,975.26 L1637.92,975.88 L1641.68,976.48 L1645.44,977.07 L1649.20,977.63 L1652.95,978.17 L1656.71,978.70 L1660.47,979.20 L1664.23,979.68 L1667.99,980.15 L1671.75,980.59 L1675.51,981.01 L1679.27,981.42 L1683.03,981.80 L1686.78,982.17 L1690.54,982.52 L1694.30,982.85 L1698.06,983.17 L1701.82,983.46 L1705.58,983.75 L1709.34,984.02 L1713.10,984.27 L1716.85,984.51 L1720.61,984.74 L1724.37,984.95 L1728.13,985.15 L1731.89,985.34 L1735.65,985.51 L1739.41,985.67 L1743.17,985.82 L1746.92,985.96 L1750.68,986.09 L1754.44,986.21 L1758.20,986.32 L1761.96,986.41 L1765.72,986.50 L1769.48,986.58 L1773.24,986.64 L1776.99,986.70 L1780.75,986.75 L1784.51,986.79 L1788.27,986.83 L1792.03,986.86 L1795.79,986.88 L1799.55,986.89 L1803.31,986.91 L1807.07,986.91 L1810.82,986.92 L1814.58,986.92 L1818.34,986.92 L1822.10,986.92 L1825.86,986.92 L1829.62,986.92 L1833.38,986.93 L1837.14,986.93 L1840.89,986.95 L1844.65,986.97 L1848.41,987.00 L1852.17,987.03 L1855.93,987.07 L1859.69,987.13 L1863.45,987.19 L1867.21,987.27 L1870.96,987.36 L1874.72,987.46 L1878.48,987.58 L1882.24,987.71 L1886.00,987.85" fill="none" stroke="#ee854a" stroke-width="2.6"/>
<path d="M1138.00,867.45 L1141.76,866.84 L1145.52,866.46 L1149.28,866.30 L1153.04,866.34 L1156.79,866.58 L1160.55,867.00 L1164.31,867.60 L1168.07,868.34 L1171.83,869.23 L1175.59,870.24 L1179.35,871.35 L1183.11,872.54 L1186.86,873.80 L1190.62,875.10 L1194.38,876.43 L1198.14,877.77 L1201.90,879.09 L1205.66,880.39 L1209.42,881.65 L1213.18,882.85 L1216.93,883.97 L1220.69,885.02 L1224.45,885.98 L1228.21,886.83 L1231.97,887.59 L1235.73,888.23 L1239.49,888.76 L1243.25,889.18 L1247.01,889.50 L1250.76,889.71 L1254.52,889.82 L1258.28,889.84 L1262.04,889.77 L1265.80,889.64 L1269.56,889.44 L1273.32,889.19 L1277.08,888.91 L1280.83,888.61 L1284.59,888.30 L1288.35,888.00 L1292.11,887.72 L1295.87,887.47 L1299.63,887.27 L1303.39,887.12 L1307.15,887.05 L1310.90,887.06 L1314.66,887.17 L1318.42,887.36 L1322.18,887.67 L1325.94,888.08 L1329.70,888.60 L1333.46,889.24 L1337.22,889.99 L1340.97,890.85 L1344.73,891.81 L1348.49,892.88 L1352.25,894.04 L1356.01,895.30 L1359.77,896.63 L1363.53,898.03 L1367.29,899.48 L1371.05,900.99 L1374.80,902.53 L1378.56,904.09 L1382.32,905.66 L1386.08,907.23 L1389.84,908.79 L1393.60,910.32 L1397.36,911.81 L1401.12,913.25 L1404.87,914.64 L1408.63,915.97 L1412.39,917.22 L1416.15,918.39 L1419.91,919.48 L1423.67,920.49 L1427.43,921.40 L1431.19,922.23 L1434.94,922.97 L1438.70,923.62 L1442.46,924.19 L1446.22,924.67 L1449.98,925.09 L1453.74,925.44 L1457.50,925.73 L1461.26,925.97 L1465.02,926.16 L1468.77,926.32 L1472.53,926.46 L1476.29,926.58 L1480.05,926.69 L1483.81,926.81 L1487.57,926.93 L1491.33,927.08 L1495.09,927.26 L1498.84,927.47 L1502.60,927.72 L1506.36,928.02 L1510.12,928.37 L1513.88,928.78 L1517.64,929.24 L1521.40,929.76 L1525.16,930.34 L1528.91,930.98 L1532.67,931.68 L1536.43,932.42 L1540.19,933.22 L1543.95,934.06 L1547.71,934.94 L1551.47,935.85 L1555.23,936.80 L1558.98,937.76 L1562.74,938.73 L1566.50,939.71 L1570.26,940.69 L1574.02,941.66 L1577.78,942.61 L1581.54,943.53 L1585.30,944.43 L1589.06,945.29 L1592.81,946.11 L1596.57,946.89 L1600.33,947.61 L1604.09,948.28 L1607.85,948.89 L1611.61,949.44 L1615.37,949.94 L1619.13,950.38 L1622.88,950.76 L1626.64,951.09 L1630.40,951.36 L1634.16,951.59 L1637.92,951.77 L1641.68,951.91 L1645.44,952.02 L1649.20,952.10 L1652.95,952.16 L1656.71,952.20 L1660.47,952.23 L1664.23,952.26 L1667.99,952.29 L1671.75,952.33 L1675.51,952.38 L1679.27,952.46 L1683.03,952.56 L1686.78,952.69 L1690.54,952.86 L1694.30,953.07 L1698.06,953.32 L1701.82,953.61 L1705.58,953.95 L1709.34,954.34 L1713.10,954.77 L1716.85,955.24 L1720.61,955.76 L1724.37,956.32 L1728.13,956.93 L1731.89,957.56 L1735.65,958.23 L1739.41,958.93 L1743.17,959.65 L1746.92,960.39 L1750.68,961.15 L1754.44,961.91 L1758.20,962.67 L1761.96,963.44 L1765.72,964.20 L1769.48,964.94 L1773.24,965.67 L1776.99,966.38 L1780.75,967.06 L1784.51,967.72 L1788.27,968.35 L1792.03,968.94 L1795.79,969.50 L1799.55,970.02 L1803.31,970.50 L1807.07,970.94 L1810.82,971.35 L1814.58,971.73 L1818.34,972.07 L1822.10,972.37 L1825.86,972.65 L1829.62,972.90 L1833.38,973.12 L1837.14,973.33 L1840.89,973.51 L1844.65,973.69 L1848.41,973.86 L1852.17,974.02 L1855.93,974.18 L1859.69,974.35 L1863.45,974.53 L1867.21,974.72 L1870.96,974.92 L1874.72,975.15 L1878.48,975.39 L1882.24,975.67 L1886.00,975.97" fill="none" stroke="#4878d0" stroke-width="2.6"/>
<rect x="1808.7" y="648.2" width="101.6" height="75.4" rx="3" fill="#eaeaf2" fill-opacity="0.8" stroke="#cccccc" stroke-width="1.3"/>
<rect x="1820.3" y="679.8" width="45.9" height="10.3" fill="#4878d0" fill-opacity="0.5"/>
<path d="M1817.5,678.0h51.5v13.9h-51.5z M1820.3,679.8v10.3h45.9v-10.3z" fill="#fff" fill-opacity="0.75" fill-rule="evenodd"/>
<rect x="1820.3" y="703.1" width="45.9" height="10.3" fill="#ee854a" fill-opacity="0.5"/>
<path d="M1817.5,701.3000000000001h51.5v13.9h-51.5z M1820.3,703.1v10.3h45.9v-10.3z" fill="#fff" fill-opacity="0.75" fill-rule="evenodd"/>
<rect x="1223.60" y="1785.20" width="15.28" height="11.75" fill="#b40426"/>
<rect x="1238.63" y="1785.20" width="15.28" height="11.75" fill="#d1493f"/>
<rect x="1253.66" y="1785.20" width="15.28" height="11.75" fill="#d1493f"/>
<rect x="1268.69" y="1785.20" width="15.28" height="11.75" fill="#96b7ff"/>
<rect x="1283.72" y="1785.20" width="15.28" height="11.75" fill="#7396f5"/>
<rect x="1298.75" y="1785.20" width="15.28" height="11.75" fill="#c0d4f5"/>
<rect x="1313.78" y="1785.20" width="15.28" height="11.75" fill="#e5d8d1"/>
<rect x="1328.81" y="1785.20" width="15.28" height="11.75" fill="#b2ccfb"/>
<rect x="1343.84" y="1785.20" width="15.28" height="11.75" fill="#dadce0"/>
<rect x="1358.87" y="1785.20" width="15.28" height="11.75" fill="#7396f5"/>
<rect x="1373.90" y="1785.20" width="15.28" height="11.75" fill="#96b7ff"/>
<rect x="1388.93" y="1785.20" width="15.28" height="11.75" fill="#96b7ff"/>
<rect x="1403.96" y="1785.20" width="15.28" height="11.75" fill="#86a9fc"/>
<rect x="1418.99" y="1785.20" width="15.28" height="11.75" fill="#86a9fc"/>
<rect x="1434.02" y="1785.20" width="15.28" height="11.75" fill="#7396f5"/>
<rect x="1449.05" y="1785.20" width="15.28" height="11.75" fill="#96b7ff"/>
<rect x="1464.08" y="1785.20" width="15.28" height="11.75" fill="#96b7ff"/>
<rect x="1479.11" y="1785.20" width="15.28" height="11.75" fill="#86a9fc"/>
<rect x="1494.14" y="1785.20" width="15.28" height="11.75" fill="#96b7ff"/>
<rect x="1509.17" y="1785.20" width="15.28" height="11.75" fill="#96b7ff"/>
<rect x="1524.20" y="1785.20" width="15.28" height="11.75" fill="#86a9fc"/>
<rect x="1539.23" y="1785.20" width="15.28" height="11.75" fill="#86a9fc"/>
<rect x="1554.26" y="1785.20" width="15.28" height="11.75" fill="#86a9fc"/>
<rect x="1569.29" y="1785.20" width="15.28" height="11.75" fill="#86a9fc"/>
<rect x="1584.32" y="1785.20" width="15.28" height="11.75" fill="#86a9fc"/>
<rect x="1599.35" y="1785.20" width="15.28" height="11.75" fill="#7396f5"/>
<rect x="1614.38" y="1785.20" width="15.28" height="11.75" fill="#86a9fc"/>
<rect x="1629.41" y="1785.20" width="15.28" height="11.75" fill="#7396f5"/>
<rect x="1644.44" y="1785.20" width="15.28" height="11.75" fill="#86a9fc"/>
<rect x="1659.47" y="1785.20" width="15.28" height="11.75" fill="#86a9fc"/>
<rect x="1674.50" y="1785.20" width="15.28" height="11.75" fill="#7396f5"/>
<rect x="1689.53" y="1785.20" width="15.28" height="11.75" fill="#96b7ff"/>
<rect x="1704.56" y="1785.20" width="15.28" height="11.75" fill="#96b7ff"/>
<rect x="1719.59" y="1785.20" width="15.28" height="11.75" fill="#7396f5"/>
<rect x="1734.62" y="1785.20" width="15.28" height="11.75" fill="#c0d4f5"/>
<rect x="1749.65" y="1785.20" width="15.28" height="11.75" fill="#a3c2fe"/>
<rect x="1764.68" y="1785.20" width="15.28" height="11.75" fill="#c0d4f5"/>
<rect x="1779.71" y="1785.20" width="15.28" height="11.75" fill="#96b7ff"/>
<rect x="1794.74" y="1785.20" width="15.28" height="11.75" fill="#a3c2fe"/>
<rect x="1809.77" y="1785.20" width="15.28" height="11.75" fill="#86a9fc"/>
<rect x="1223.60" y="1796.70" width="15.28" height="11.75" fill="#d1493f"/>
<rect x="1238.63" y="1796.70" width="15.28" height="11.75" fill="#b40426"/>
<rect x="1253.66" y="1796.70" width="15.28" height="11.75" fill="#e16751"/>
<rect x="1268.69" y="1796.70" width="15.28" height="11.75" fill="#96b7ff"/>
<rect x="1283.72" y="1796.70" width="15.28" height="11.75" fill="#7396f5"/>
<rect x="1298.75" y="1796.70" width="15.28" height="11.75" fill="#c0d4f5"/>
<rect x="1313.78" y="1796.70" width="15.28" height="11.75" fill="#e5d8d1"/>
<rect x="1328.81" y="1796.70" width="15.28" height="11.75" fill="#b2ccfb"/>
<rect x="1343.84" y="1796.70" width="15.28" height="11.75" fill="#dadce0"/>
<rect x="1358.87" y="1796.70" width="15.28" height="11.75" fill="#7396f5"/>
<rect x="1373.90" y="1796.70" width="15.28" height="11.75" fill="#86a9fc"/>
<rect x="1388.93" y="1796.70" width="15.28" height="11.75" fill="#86a9fc"/>
<rect x="1403.96" y="1796.70" width="15.28" height="11.75" fill="#86a9fc"/>
<rect x="1418.99" y="1796.70" width="15.28" height="11.75" fill="#86a9fc"/>
<rect x="1434.02" y="1796.70" width="15.28" height="11.75" fill="#86a9fc"/>
<rect x="1449.05" y="1796.70" width="15.28" height="11.75" fill="#96b7ff"/>
<rect x="1464.08" y="1796.70" width="15.28" height="11.75" fill="#96b7ff"/>
<rect x="1479.11" y="1796.70" width="15.28" height="11.75" fill="#86a9fc"/>
<rect x="1494.14" y="1796.70" width="15.28" height="11.75" fill="#96b7ff"/>
<rect x="1509.17" y="1796.70" width="15.28" height="11.75" fill="#96b7ff"/>
<rect x="1524.20" y="1796.70" width="15.28" height="11.75" fill="#96b7ff"/>
<rect x="1539.23" y="1796.70" width="15.28" height="11.75" fill="#86a9fc"/>
<rect x="1554.26" y="1796.70" width="15.28" height="11.75" fill="#7396f5"/>
<rect x="1569.29" y="1796.70" width="15.28" height="11.75" fill="#7396f5"/>
<rect x="1584.32" y="1796.70" width="15.28" height="11.75" fill="#7396f5"/>
<rect x="1599.35" y="1796.70" width="15.28" height="11.75" fill="#86a9fc"/>
<rect x="1614.38" y="1796.70" width="15.28" height="11.75" fill="#86a9fc"/>
<rect x="1629.41" y="1796.70" width="15.28" height="11.75" fill="#7396f5"/>
<rect x="1644.44" y="1796.70" width="15.28" height="11.75" fill="#96b7ff"/>
<rect x="1659.47" y="1796.70" width="15.28" height="11.75" fill="#96b7ff"/>
<rect x="1674.50" y="1796.70" width="15.28" height="11.75" fill="#7396f5"/>
<rect x="1689.53" y="1796.70" width="15.28" height="11.75" fill="#a3c2fe"/>
<rect x="1704.56" y="1796.70" width="15.28" height="11.75" fill="#a3c2fe"/>
<rect x="1719.59" y="1796.70" width="15.28" height="11.75" fill="#86a9fc"/>
<rect x="1734.62" y="1796.70" width="15.28" height="11.75" fill="#c0d4f5"/>
<rect x="1749.65" y="1796.70" width="15.28" height="11.75" fill="#96b7ff"/>
<rect x="1764.68" y="1796.70" width="15.28" height="11.75" fill="#c0d4f5"/>
<rect x="1779.71" y="1796.70" width="15.28" height="11.75" fill="#96b7ff"/>
<rect x="1794.74" y="1796.70" width="15.28" height="11.75" fill="#a3c2fe"/>
<rect x="1809.77" y="1796.70" width="15.28" height="11.75" fill="#86a9fc"/>
<rect x="1223.60" y="1808.20" width="15.28" height="11.75" fill="#d1493f"/>
<rect x="1238.63" y="1808.20" width="15.28" height="11.75" fill="#e16751"/>
<rect x="1253.66" y="1808.20" width="15.28" height="11.75" fill="#b40426"/>
<rect x="1268.69" y="1808.20" width="15.28" height="11.75" fill="#96b7ff"/>
<rect x="1283.72" y="1808.20" width="15.28" height="11.75" fill="#86a9fc"/>
<rect x="1298.75" y="1808.20" width="15.28" height="11.75" fill="#c0d4f5"/>
<rect x="1313.78" y="1808.20" width="15.28" height="11.75" fill="#e5d8d1"/>
<rect x="1328.81" y="1808.20" width="15.28" height="11.75" fill="#b2ccfb"/>
<rect x="1343.84" y="1808.20" width="15.28" height="11.75" fill="#dadce0"/>
<rect x="1358.87" y="1808.20" width="15.28" height="11.75" fill="#86a9fc"/>
<rect x="1373.90" y="1808.20" width="15.28" height="11.75" fill="#96b7ff"/>
<rect x="1388.93" y="1808.20" width="15.28" height="11.75" fill="#96b7ff"/>
<rect x="1403.96" y="1808.20" width="15.28" height="11.75" fill="#86a9fc"/>
<rect x="1418.99" y="1808.20" width="15.28" height="11.75" fill="#86a9fc"/>
<rect x="1434.02" y="1808.20" width="15.28" height="11.75" fill="#86a9fc"/>
<rect x="1449.05" y="1808.20" width="15.28" height="11.75" fill="#96b7ff"/>
<rect x="1464.08" y="1808.20" width="15.28" height="11.75" fill="#96b7ff"/>
<rect x="1479.11" y="1808.20" width="15.28" height="11.75" fill="#86a9fc"/>
<rect x="1494.14" y="1808.20" width="15.28" height="11.75" fill="#96b7ff"/>
<rect x="1509.17" y="1808.20" width="15.28" height="11.75" fill="#96b7ff"/>
<rect x="1524.20" y="1808.20" width="15.28" height="11.75" fill="#86a9fc"/>
<rect x="1539.23" y="1808.20" width="15.28" height="11.75" fill="#86a9fc"/>
<rect x="1554.26" y="1808.20" width="15.28" height="11.75" fill="#86a9fc"/>
<rect x="1569.29" y="1808.20" width="15.28" height="11.75" fill="#86a9fc"/>
<rect x="1584.32" y="1808.20" width="15.28" height="11.75" fill="#86a9fc"/>
<rect x="1599.35" y="1808.20" width="15.28" height="11.75" fill="#7396f5"/>
<rect x="1614.38" y="1808.20" width="15.28" height="11.75" fill="#86a9fc"/>
<rect x="1629.41" y="1808.20" width="15.28" height="11.75" fill="#7396f5"/>
<rect x="1644.44" y="1808.20" width="15.28" height="11.75" fill="#96b7ff"/>
<rect x="1659.47" y="1808.20" width="15.28" height="11.75" fill="#96b7ff"/>
<rect x="1674.50" y="1808.20" width="15.28" height="11.75" fill="#7396f5"/>
<rect x="1689.53" y="1808.20" width="15.28" height="11.75" fill="#96b7ff"/>
<rect x="1704.56" y="1808.20" width="15.28" height="11.75" fill="#96b7ff"/>
<rect x="1719.59" y="1808.20" width="15.28" height="11.75" fill="#86a9fc"/>
<rect x="1734.62" y="1808.20" width="15.28" height="11.75" fill="#c0d4f5"/>
<rect x="1749.65" y="1808.20" width="15.28" height="11.75" fill="#a3c2fe"/>
<rect x="1764.68" y="1808.20" width="15.28" height="11.75" fill="#c0d4f5"/>
<rect x="1779.71" y="1808.20" width="15.28" height="11.75" fill="#96b7ff"/>
<rect x="1794.74" y="1808.20" width="15.28" height="11.75" fill="#a3c2fe"/>
<rect x="1809.77" y="1808.20" width="15.28" height="11.75" fill="#86a9fc"/>
<rect x="1223.60" y="1819.70" width="15.28" height="11.75" fill="#96b7ff"/>
<rect x="1238.63" y="1819.70" width="15.28" height="11.75" fill="#96b7ff"/>
<rect x="1253.66" y="1819.70" width="15.28" height="11.75" fill="#96b7ff"/>
<rect x="1268.69" y="1819.70" width="15.28" height="11.75" fill="#b40426"/>
<rect x="1283.72" y="1819.70" width="15.28" height="11.75" fill="#4055c8"/>
<rect x="1298.75" y="1819.70" width="15.28" height="11.75" fill="#5b7ae5"/>
<rect x="1313.78" y="1819.70" width="15.28" height="11.75" fill="#96b7ff"/>
<rect x="1328.81" y="1819.70" width="15.28" height="11.75" fill="#a3c2fe"/>
<rect x="1343.84" y="1819.70" width="15.28" height="11.75" fill="#96b7ff"/>
<rect x="1358.87" y="1819.70" width="15.28" height="11.75" fill="#a3c2fe"/>
<rect x="1373.90" y="1819.70" width="15.28" height="11.75" fill="#a3c2fe"/>
<rect x="1388.93" y="1819.70" width="15.28" height="11.75" fill="#a3c2fe"/>
<rect x="1403.96" y="1819.70" width="15.28" height="11.75" fill="#a3c2fe"/>
<rect x="1418.99" y="1819.70" width="15.28" height="11.75" fill="#a3c2fe"/>
<rect x="1434.02" y="1819.70" width="15.28" height="11.75" fill="#a3c2fe"/>
<rect x="1449.05" y="1819.70" width="15.28" height="11.75" fill="#c0d4f5"/>
<rect x="1464.08" y="1819.70" width="15.28" height="11.75" fill="#a3c2fe"/>
<rect x="1479.11" y="1819.70" width="15.28" height="11.75" fill="#96b7ff"/>
<rect x="1494.14" y="1819.70" width="15.28" height="11.75" fill="#96b7ff"/>
<rect x="1509.17" y="1819.70" width="15.28" height="11.75" fill="#a3c2fe"/>
<rect x="1524.20" y="1819.70" width="15.28" height="11.75" fill="#a3c2fe"/>
<rect x="1539.23" y="1819.70" width="15.28" height="11.75" fill="#86a9fc"/>
<rect x="1554.26" y="1819.70" width="15.28" height="11.75" fill="#b2ccfb"/>
<rect x="1569.29" y="1819.70" width="15.28" height="11.75" fill="#96b7ff"/>
<rect x="1584.32" y="1819.70" width="15.28" height="11.75" fill="#b2ccfb"/>
<rect x="1599.35" y="1819.70" width="15.28" height="11.75" fill="#a3c2fe"/>
<rect x="1614.38" y="1819.70" width="15.28" height="11.75" fill="#96b7ff"/>
<rect x="1629.41" y="1819.70" width="15.28" height="11.75" fill="#a3c2fe"/>
<rect x="1644.44" y="1819.70" width="15.28" height="11.75" fill="#b2ccfb"/>
<rect x="1659.47" y="1819.70" width="15.28" height="11.75" fill="#a3c2fe"/>
<rect x="1674.50" y="1819.70" width="15.28" height="11.75" fill="#b2ccfb"/>
<rect x="1689.53" y="1819.70" width="15.28" height="11.75" fill="#86a9fc"/>
<rect x="1704.56" y="1819.70" width="15.28" height="11.75" fill="#86a9fc"/>
<rect x="1719.59" y="1819.70" width="15.28" height="11.75" fill="#86a9fc"/>
<rect x="1734.62" y="1819.70" width="15.28" height="11.75" fill="#a3c2fe"/>
<rect x="1749.65" y="1819.70" width="15.28" height="11.75" fill="#b2ccfb"/>
<rect x="1764.68" y="1819.70" width="15.28" height="11.75" fill="#b2ccfb"/>
<rect x="1779.71" y="1819.70" width="15.28" height="11.75" fill="#7396f5"/>
<rect x="1794.74" y="1819.70" width="15.28" height="11.75" fill="#86a9fc"/>
<rect x="1809.77" y="1819.70" width="15.28" height="11.75" fill="#86a9fc"/>
<rect x="1223.60" y="1831.20" width="15.28" height="11.75" fill="#7396f5"/>
<rect x="1238.63" y="1831.20" width="15.28" height="11.75" fill="#7396f5"/>
<rect x="1253.66" y="1831.20" width="15.28" height="11.75" fill="#86a9fc"/>
<rect x="1268.69" y="1831.20" width="15.28" height="11.75" fill="#4055c8"/>
<rect x="1283.72" y="1831.20" width="15.28" height="11.75" fill="#b40426"/>
<rect x="1298.75" y="1831.20" width="15.28" height="11.75" fill="#dadce0"/>
<rect x="1313.78" y="1831.20" width="15.28" height="11.75" fill="#96b7ff"/>
<rect x="1328.81" y="1831.20" width="15.28" height="11.75" fill="#a3c2fe"/>
<rect x="1343.84" y="1831.20" width="15.28" height="11.75" fill="#96b7ff"/>
<rect x="1358.87" y="1831.20" width="15.28" height="11.75" fill="#b2ccfb"/>
<rect x="1373.90" y="1831.20" width="15.28" height="11.75" fill="#b2ccfb"/>
<rect x="1388.93" y="1831.20" width="15.28" height="11.75" fill="#a3c2fe"/>
<rect x="1403.96" y="1831.20" width="15.28" height="11.75" fill="#a3c2fe"/>
<rect x="1418.99" y="1831.20" width="15.28" height="11.75" fill="#96b7ff"/>
<rect x="1434.02" y="1831.20" width="15.28" height="11.75" fill="#96b7ff"/>
<rect x="1449.05" y="1831.20" width="15.28" height="11.75" fill="#96b7ff"/>
<rect x="1464.08" y="1831.20" width="15.28" height="11.75" fill="#a3c2fe"/>
<rect x="1479.11" y="1831.20" width="15.28" height="11.75" fill="#a3c2fe"/>
<rect x="1494.14" y="1831.20" width="15.28" height="11.75" fill="#c0d4f5"/>
<rect x="1509.17" y="1831.20" width="15.28" height="11.75" fill="#c0d4f5"/>
<rect x="1524.20" y="1831.20" width="15.28" height="11.75" fill="#b2ccfb"/>
<rect x="1539.23" y="1831.20" width="15.28" height="11.75" fill="#b2ccfb"/>
<rect x="1554.26" y="1831.20" width="15.28" height="11.75" fill="#b2ccfb"/>
<rect x="1569.29" y="1831.20" width="15.28" height="11.75" fill="#b2ccfb"/>
<rect x="1584.32" y="1831.20" width="15.28" height="11.75" fill="#96b7ff"/>
<rect x="1599.35" y="1831.20" width="15.28" height="11.75" fill="#96b7ff"/>
<rect x="1614.38" y="1831.20" width="15.28" height="11.75" fill="#b2ccfb"/>
<rect x="1629.41" y="1831.20" width="15.28" height="11.75" fill="#a3c2fe"/>
<rect x="1644.44" y="1831.20" width="15.28" height="11.75" fill="#7396f5"/>
<rect x="1659.47" y="1831.20" width="15.28" height="11.75" fill="#a3c2fe"/>
<rect x="1674.50" y="1831.20" width="15.28" height="11.75" fill="#96b7ff"/>
<rect x="1689.53" y="1831.20" width="15.28" height="11.75" fill="#c0d4f5"/>
<rect x="1704.56" y="1831.20" width="15.28" height="11.75" fill="#c0d4f5"/>
<rect x="1719.59" y="1831.20" width="15.28" height="11.75" fill="#c0d4f5"/>
<rect x="1734.62" y="1831.20" width="15.28" height="11.75" fill="#96b7ff"/>
<rect x="1749.65" y="1831.20" width="15.28" height="11.75" fill="#86a9fc"/>
<rect x="1764.68" y="1831.20" width="15.28" height="11.75" fill="#86a9fc"/>
<rect x="1779.71" y="1831.20" width="15.28" height="11.75" fill="#c0d4f5"/>
<rect x="1794.74" y="1831.20" width="15.28" height="11.75" fill="#b2ccfb"/>
<rect x="1809.77" y="1831.20" width="15.28" height="11.75" fill="#b2ccfb"/>
<rect x="1223.60" y="1842.70" width="15.28" height="11.75" fill="#c0d4f5"/>
<rect x="1238.63" y="1842.70" width="15.28" height="11.75" fill="#c0d4f5"/>
<rect x="1253.66" y="1842.70" width="15.28" height="11.75" fill="#c0d4f5"/>
<rect x="1268.69" y="1842.70" width="15.28" height="11.75" fill="#5b7ae5"/>
<rect x="1283.72" y="1842.70" width="15.28" height="11.75" fill="#dadce0"/>
<rect x="1298.75" y="1842.70" width="15.28" height="11.75" fill="#b40426"/>
<rect x="1313.78" y="1842.70" width="15.28" height="11.75" fill="#c0d4f5"/>
<rect x="1328.81" y="1842.70" width="15.28" height="11.75" fill="#a3c2fe"/>
<rect x="1343.84" y="1842.70" width="15.28" height="11.75" fill="#c0d4f5"/>
<rect x="1358.87" y="1842.70" width="15.28" height="11.75" fill="#4055c8"/>
<rect x="1373.90" y="1842.70" width="15.28" height="11.75" fill="#86a9fc"/>
<rect x="1388.93" y="1842.70" width="15.28" height="11.75" fill="#86a9fc"/>
<rect x="1403.96" y="1842.70" width="15.28" height="11.75" fill="#7396f5"/>
<rect x="1418.99" y="1842.70" width="15.28" height="11.75" fill="#7396f5"/>
<rect x="1434.02" y="1842.70" width="15.28" height="11.75" fill="#7396f5"/>
<rect x="1449.05" y="1842.70" width="15.28" height="11.75" fill="#7396f5"/>
<rect x="1464.08" y="1842.70" width="15.28" height="11.75" fill="#86a9fc"/>
<rect x="1479.11" y="1842.70" width="15.28" height="11.75" fill="#86a9fc"/>
<rect x="1494.14" y="1842.70" width="15.28" height="11.75" fill="#a3c2fe"/>
<rect x="1509.17" y="1842.70" width="15.28" height="11.75" fill="#86a9fc"/>
<rect x="1524.20" y="1842.70" width="15.28" height="11.75" fill="#96b7ff"/>
<rect x="1539.23" y="1842.70" width="15.28" height="11.75" fill="#96b7ff"/>
<rect x="1554.26" y="1842.70" width="15.28" height="11.75" fill="#86a9fc"/>
<rect x="1569.29" y="1842.70" width="15.28" height="11.75" fill="#7396f5"/>
<rect x="1584.32" y="1842.70" width="15.28" height="11.75" fill="#7396f5"/>
<rect x="1599.35" y="1842.70" width="15.28" height="11.75" fill="#7396f5"/>
<rect x="1614.38" y="1842.70" width="15.28" height="11.75" fill="#7396f5"/>
<rect x="1629.41" y="1842.70" width="15.28" height="11.75" fill="#7396f5"/>
<rect x="1644.44" y="1842.70" width="15.28" height="11.75" fill="#5b7ae5"/>
<rect x="1659.47" y="1842.70" width="15.28" height="11.75" fill="#7396f5"/>
<rect x="1674.50" y="1842.70" width="15.28" height="11.75" fill="#5b7ae5"/>
<rect x="1689.53" y="1842.70" width="15.28" height="11.75" fill="#96b7ff"/>
<rect x="1704.56" y="1842.70" width="15.28" height="11.75" fill="#a3c2fe"/>
<rect x="1719.59" y="1842.70" width="15.28" height="11.75" fill="#96b7ff"/>
<rect x="1734.62" y="1842.70" width="15.28" height="11.75" fill="#96b7ff"/>
<rect x="1749.65" y="1842.70" width="15.28" height="11.75" fill="#7396f5"/>
<rect x="1764.68" y="1842.70" width="15.28" height="11.75" fill="#86a9fc"/>
<rect x="1779.71" y="1842.70" width="15.28" height="11.75" fill="#a3c2fe"/>
<rect x="1794.74" y="1842.70" width="15.28" height="11.75" fill="#96b7ff"/>
<rect x="1809.77" y="1842.70" width="15.28" height="11.75" fill="#86a9fc"/>
<rect x="1223.60" y="1854.20" width="15.28" height="11.75" fill="#e5d8d1"/>
<rect x="1238.63" y="1854.20" width="15.28" height="11.75" fill="#e5d8d1"/>
<rect x="1253.66" y="1854.20" width="15.28" height="11.75" fill="#e5d8d1"/>
<rect x="1268.69" y="1854.20" width="15.28" height="11.75" fill="#96b7ff"/>
<rect x="1283.72" y="1854.20" width="15.28" height="11.75" fill="#96b7ff"/>
<rect x="1298.75" y="1854.20" width="15.28" height="11.75" fill="#c0d4f5"/>
<rect x="1313.78" y="1854.20" width="15.28" height="11.75" fill="#b40426"/>
<rect x="1328.81" y="1854.20" width="15.28" height="11.75" fill="#b2ccfb"/>
<rect x="1343.84" y="1854.20" width="15.28" height="11.75" fill="#efcfbf"/>
<rect x="1358.87" y="1854.20" width="15.28" height="11.75" fill="#86a9fc"/>
<rect x="1373.90" y="1854.20" width="15.28" height="11.75" fill="#b2ccfb"/>
<rect x="1388.93" y="1854.20" width="15.28" height="11.75" fill="#b2ccfb"/>
<rect x="1403.96" y="1854.20" width="15.28" height="11.75" fill="#b2ccfb"/>
<rect x="1418.99" y="1854.20" width="15.28" height="11.75" fill="#86a9fc"/>
<rect x="1434.02" y="1854.20" width="15.28" height="11.75" fill="#86a9fc"/>
<rect x="1449.05" y="1854.20" width="15.28" height="11.75" fill="#86a9fc"/>
<rect x="1464.08" y="1854.20" width="15.28" height="11.75" fill="#96b7ff"/>
<rect x="1479.11" y="1854.20" width="15.28" height="11.75" fill="#96b7ff"/>
<rect x="1494.14" y="1854.20" width="15.28" height="11.75" fill="#a3c2fe"/>
<rect x="1509.17" y="1854.20" width="15.28" height="11.75" fill="#96b7ff"/>
<rect x="1524.20" y="1854.20" width="15.28" height="11.75" fill="#96b7ff"/>
<rect x="1539.23" y="1854.20" width="15.28" height="11.75" fill="#a3c2fe"/>
<rect x="1554.26" y="1854.20" width="15.28" height="11.75" fill="#96b7ff"/>
<rect x="1569.29" y="1854.20" width="15.28" height="11.75" fill="#86a9fc"/>
<rect x="1584.32" y="1854.20" width="15.28" height="11.75" fill="#96b7ff"/>
<rect x="1599.35" y="1854.20" width="15.28" height="11.75" fill="#86a9fc"/>
<rect x="1614.38" y="1854.20" width="15.28" height="11.75" fill="#86a9fc"/>
<rect x="1629.41" y="1854.20" width="15.28" height="11.75" fill="#96b7ff"/>
<rect x="1644.44" y="1854.20" width="15.28" height="11.75" fill="#a3c2fe"/>
<rect x="1659.47" y="1854.20" width="15.28" height="11.75" fill="#86a9fc"/>
<rect x="1674.50" y="1854.20" width="15.28" height="11.75" fill="#86a9fc"/>
<rect x="1689.53" y="1854.20" width="15.28" height="11.75" fill="#a3c2fe"/>
<rect x="1704.56" y="1854.20" width="15.28" height="11.75" fill="#96b7ff"/>
<rect x="1719.59" y="1854.20" width="15.28" height="11.75" fill="#96b7ff"/>
<rect x="1734.62" y="1854.20" width="15.28" height="11.75" fill="#c0d4f5"/>
<rect x="1749.65" y="1854.20" width="15.28" height="11.75" fill="#a3c2fe"/>
<rect x="1764.68" y="1854.20" width="15.28" height="11.75" fill="#b2ccfb"/>
<rect x="1779.71" y="1854.20" width="15.28" height="11.75" fill="#b2ccfb"/>
<rect x="1794.74" y="1854.20" width="15.28" height="11.75" fill="#96b7ff"/>
<rect x="1809.77" y="1854.20" width="15.28" height="11.75" fill="#a3c2fe"/>
<rect x="1223.60" y="1865.70" width="15.28" height="11.75" fill="#b2ccfb"/>
<rect x="1238.63" y="1865.70" width="15.28" height="11.75" fill="#b2ccfb"/>
<rect x="1253.66" y="1865.70" width="15.28" height="11.75" fill="#b2ccfb"/>
<rect x="1268.69" y="1865.70" width="15.28" height="11.75" fill="#a3c2fe"/>
<rect x="1283.72" y="1865.70" width="15.28" height="11.75" fill="#a3c2fe"/>
<rect x="1298.75" y="1865.70" width="15.28" height="11.75" fill="#a3c2fe"/>
<rect x="1313.78" y="1865.70" width="15.28" height="11.75" fill="#b2ccfb"/>
<rect x="1328.81" y="1865.70" width="15.28" height="11.75" fill="#b40426"/>
<rect x="1343.84" y="1865.70" width="15.28" height="11.75" fill="#7396f5"/>
<rect x="1358.87" y="1865.70" width="15.28" height="11.75" fill="#96b7ff"/>
<rect x="1373.90" y="1865.70" width="15.28" height="11.75" fill="#96b7ff"/>
<rect x="1388.93" y="1865.70" width="15.28" height="11.75" fill="#96b7ff"/>
<rect x="1403.96" y="1865.70" width="15.28" height="11.75" fill="#96b7ff"/>
<rect x="1418.99" y="1865.70" width="15.28" height="11.75" fill="#96b7ff"/>
<rect x="1434.02" y="1865.70" width="15.28" height="11.75" fill="#c0d4f5"/>
<rect x="1449.05" y="1865.70" width="15.28" height="11.75" fill="#96b7ff"/>
<rect x="1464.08" y="1865.70" width="15.28" height="11.75" fill="#96b7ff"/>
<rect x="1479.11" y="1865.70" width="15.28" height="11.75" fill="#96b7ff"/>
<rect x="1494.14" y="1865.70" width="15.28" height="11.75" fill="#96b7ff"/>
<rect x="1509.17" y="1865.70" width="15.28" height="11.75" fill="#96b7ff"/>
<rect x="1524.20" y="1865.70" width="15.28" height="11.75" fill="#96b7ff"/>
<rect x="1539.23" y="1865.70" width="15.28" height="11.75" fill="#96b7ff"/>
<rect x="1554.26" y="1865.70" width="15.28" height="11.75" fill="#96b7ff"/>
<rect x="1569.29" y="1865.70" width="15.28" height="11.75" fill="#96b7ff"/>
<rect x="1584.32" y="1865.70" width="15.28" height="11.75" fill="#96b7ff"/>
<rect x="1599.35" y="1865.70" width="15.28" height="11.75" fill="#a3c2fe"/>
<rect x="1614.38" y="1865.70" width="15.28" height="11.75" fill="#96b7ff"/>
<rect x="1629.41" y="1865.70" width="15.28" height="11.75" fill="#96b7ff"/>
<rect x="1644.44" y="1865.70" width="15.28" height="11.75" fill="#a3c2fe"/>
<rect x="1659.47" y="1865.70" width="15.28" height="11.75" fill="#96b7ff"/>
<rect x="1674.50" y="1865.70" width="15.28" height="11.75" fill="#96b7ff"/>
<rect x="1689.53" y="1865.70" width="15.28" height="11.75" fill="#96b7ff"/>
<rect x="1704.56" y="1865.70" width="15.28" height="11.75" fill="#96b7ff"/>
<rect x="1719.59" y="1865.70" width="15.28" height="11.75" fill="#96b7ff"/>
<rect x="1734.62" y="1865.70" width="15.28" height="11.75" fill="#b2ccfb"/>
<rect x="1749.65" y="1865.70" width="15.28" height="11.75" fill="#96b7ff"/>
<rect x="1764.68" y="1865.70" width="15.28" height="11.75" fill="#96b7ff"/>
<rect x="1779.71" y="1865.70" width="15.28" height="11.75" fill="#96b7ff"/>
<rect x="1794.74" y="1865.70" width="15.28" height="11.75" fill="#96b7ff"/>
<rect x="1809.77" y="1865.70" width="15.28" height="11.75" fill="#96b7ff"/>
<rect x="1223.60" y="1877.20" width="15.28" height="11.75" fill="#dadce0"/>
<rect x="1238.63" y="1877.20" width="15.28" height="11.75" fill="#dadce0"/>
<rect x="1253.66" y="1877.20" width="15.28" height="11.75" fill="#dadce0"/>
<rect x="1268.69" y="1877.20" width="15.28" height="11.75" fill="#96b7ff"/>
<rect x="1283.72" y="1877.20" width="15.28" height="11.75" fill="#96b7ff"/>
<rect x="1298.75" y="1877.20" width="15.28" height="11.75" fill="#c0d4f5"/>
<rect x="1313.78" y="1877.20" width="15.28" height="11.75" fill="#efcfbf"/>
<rect x="1328.81" y="1877.20" width="15.28" height="11.75" fill="#7396f5"/>
<rect x="1343.84" y="1877.20" width="15.28" height="11.75" fill="#b40426"/>
<rect x="1358.87" y="1877.20" width="15.28" height="11.75" fill="#96b7ff"/>
<rect x="1373.90" y="1877.20" width="15.28" height="11.75" fill="#96b7ff"/>
<rect x="1388.93" y="1877.20" width="15.28" height="11.75" fill="#96b7ff"/>
<rect x="1403.96" y="1877.20" width="15.28" height="11.75" fill="#96b7ff"/>
<rect x="1418.99" y="1877.20" width="15.28" height="11.75" fill="#86a9fc"/>
<rect x="1434.02" y="1877.20" width="15.28" height="11.75" fill="#86a9fc"/>
<rect x="1449.05" y="1877.20" width="15.28" height="11.75" fill="#96b7ff"/>
<rect x="1464.08" y="1877.20" width="15.28" height="11.75" fill="#96b7ff"/>
<rect x="1479.11" y="1877.20" width="15.28" height="11.75" fill="#96b7ff"/>
<rect x="1494.14" y="1877.20" width="15.28" height="11.75" fill="#96b7ff"/>
<rect x="1509.17" y="1877.20" width="15.28" height="11.75" fill="#a3c2fe"/>
<rect x="1524.20" y="1877.20" width="15.28" height="11.75" fill="#96b7ff"/>
<rect x="1539.23" y="1877.20" width="15.28" height="11.75" fill="#96b7ff"/>
<rect x="1554.26" y="1877.20" width="15.28" height="11.75" fill="#96b7ff"/>
<rect x="1569.29" y="1877.20" width="15.28" height="11.75" fill="#86a9fc"/>
<rect x="1584.32" y="1877.20" width="15.28" height="11.75" fill="#96b7ff"/>
<rect x="1599.35" y="1877.20" width="15.28" height="11.75" fill="#86a9fc"/>
<rect x="1614.38" y="1877.20" width="15.28" height="11.75" fill="#96b7ff"/>
<rect x="1629.41" y="1877.20" width="15.28" height="11.75" fill="#96b7ff"/>
<rect x="1644.44" y="1877.20" width="15.28" height="11.75" fill="#96b7ff"/>
<rect x="1659.47" y="1877.20" width="15.28" height="11.75" fill="#86a9fc"/>
<rect x="1674.50" y="1877.20" width="15.28" height="11.75" fill="#86a9fc"/>
<rect x="1689.53" y="1877.20" width="15.28" height="11.75" fill="#a3c2fe"/>
<rect x="1704.56" y="1877.20" width="15.28" height="11.75" fill="#96b7ff"/>
<rect x="1719.59" y="1877.20" width="15.28" height="11.75" fill="#96b7ff"/>
<rect x="1734.62" y="1877.20" width="15.28" height="11.75" fill="#c0d4f5"/>
<rect x="1749.65" y="1877.20" width="15.28" height="11.75" fill="#a3c2fe"/>
<rect x="1764.68" y="1877.20" width="15.28" height="11.75" fill="#c0d4f5"/>
<rect x="1779.71" y="1877.20" width="15.28" height="11.75" fill="#c0d4f5"/>
<rect x="1794.74" y="1877.20" width="15.28" height="11.75" fill="#a3c2fe"/>
<rect x="1809.77" y="1877.20" width="15.28" height="11.75" fill="#a3c2fe"/>
<rect x="1223.60" y="1888.70" width="15.28" height="11.75" fill="#7396f5"/>
<rect x="1238.63" y="1888.70" width="15.28" height="11.75" fill="#7396f5"/>
<rect x="1253.66" y="1888.70" width="15.28" height="11.75" fill="#86a9fc"/>
<rect x="1268.69" y="1888.70" width="15.28" height="11.75" fill="#a3c2fe"/>
<rect x="1283.72" y="1888.70" width="15.28" height="11.75" fill="#b2ccfb"/>
<rect x="1298.75" y="1888.70" width="15.28" height="11.75" fill="#4055c8"/>
<rect x="1313.78" y="1888.70" width="15.28" height="11.75" fill="#86a9fc"/>
<rect x="1328.81" y="1888.70" width="15.28" height="11.75" fill="#96b7ff"/>
<rect x="1343.84" y="1888.70" width="15.28" height="11.75" fill="#96b7ff"/>
<rect x="1358.87" y="1888.70" width="15.28" height="11.75" fill="#b40426"/>
<rect x="1373.90" y="1888.70" width="15.28" height="11.75" fill="#b2ccfb"/>
<rect x="1388.93" y="1888.70" width="15.28" height="11.75" fill="#b2ccfb"/>
<rect x="1403.96" y="1888.70" width="15.28" height="11.75" fill="#c0d4f5"/>
<rect x="1418.99" y="1888.70" width="15.28" height="11.75" fill="#c0d4f5"/>
<rect x="1434.02" y="1888.70" width="15.28" height="11.75" fill="#c0d4f5"/>
<rect x="1449.05" y="1888.70" width="15.28" height="11.75" fill="#b2ccfb"/>
<rect x="1464.08" y="1888.70" width="15.28" height="11.75" fill="#c0d4f5"/>
<rect x="1479.11" y="1888.70" width="15.28" height="11.75" fill="#c0d4f5"/>
<rect x="1494.14" y="1888.70" width="15.28" height="11.75" fill="#96b7ff"/>
<rect x="1509.17" y="1888.70" width="15.28" height="11.75" fill="#a3c2fe"/>
<rect x="1524.20" y="1888.70" width="15.28" height="11.75" fill="#c0d4f5"/>
<rect x="1539.23" y="1888.70" width="15.28" height="11.75" fill="#a3c2fe"/>
<rect x="1554.26" y="1888.70" width="15.28" height="11.75" fill="#b2ccfb"/>
<rect x="1569.29" y="1888.70" width="15.28" height="11.75" fill="#b2ccfb"/>
<rect x="1584.32" y="1888.70" width="15.28" height="11.75" fill="#a3c2fe"/>
<rect x="1599.35" y="1888.70" width="15.28" height="11.75" fill="#c0d4f5"/>
<rect x="1614.38" y="1888.70" width="15.28" height="11.75" fill="#ccd9ed"/>
<rect x="1629.41" y="1888.70" width="15.28" height="11.75" fill="#b2ccfb"/>
<rect x="1644.44" y="1888.70" width="15.28" height="11.75" fill="#ccd9ed"/>
<rect x="1659.47" y="1888.70" width="15.28" height="11.75" fill="#ccd9ed"/>
<rect x="1674.50" y="1888.70" width="15.28" height="11.75" fill="#c0d4f5"/>
<rect x="1689.53" y="1888.70" width="15.28" height="11.75" fill="#a3c2fe"/>
<rect x="1704.56" y="1888.70" width="15.28" height="11.75" fill="#b2ccfb"/>
<rect x="1719.59" y="1888.70" width="15.28" height="11.75" fill="#c0d4f5"/>
<rect x="1734.62" y="1888.70" width="15.28" height="11.75" fill="#c0d4f5"/>
<rect x="1749.65" y="1888.70" width="15.28" height="11.75" fill="#b2ccfb"/>
<rect x="1764.68" y="1888.70" width="15.28" height="11.75" fill="#b2ccfb"/>
<rect x="1779.71" y="1888.70" width="15.28" height="11.75" fill="#a3c2fe"/>
<rect x="1794.74" y="1888.70" width="15.28" height="11.75" fill="#a3c2fe"/>
<rect x="1809.77" y="1888.70" width="15.28" height="11.75" fill="#a3c2fe"/>
<rect x="1223.60" y="1900.20" width="15.28" height="11.75" fill="#96b7ff"/>
<rect x="1238.63" y="1900.20" width="15.28" height="11.75" fill="#86a9fc"/>
<rect x="1253.66" y="1900.20" width="15.28" height="11.75" fill="#96b7ff"/>
<rect x="1268.69" y="1900.20" width="15.28" height="11.75" fill="#a3c2fe"/>
<rect x="1283.72" y="1900.20" width="15.28" height="11.75" fill="#b2ccfb"/>
<rect x="1298.75" y="1900.20" width="15.28" height="11.75" fill="#86a9fc"/>
<rect x="1313.78" y="1900.20" width="15.28" height="11.75" fill="#b2ccfb"/>
<rect x="1328.81" y="1900.20" width="15.28" height="11.75" fill="#96b7ff"/>
<rect x="1343.84" y="1900.20" width="15.28" height="11.75" fill="#96b7ff"/>
<rect x="1358.87" y="1900.20" width="15.28" height="11.75" fill="#b2ccfb"/>
<rect x="1373.90" y="1900.20" width="15.28" height="11.75" fill="#b40426"/>
<rect x="1388.93" y="1900.20" width="15.28" height="11.75" fill="#d1493f"/>
<rect x="1403.96" y="1900.20" width="15.28" height="11.75" fill="#d1493f"/>
<rect x="1418.99" y="1900.20" width="15.28" height="11.75" fill="#7396f5"/>
<rect x="1434.02" y="1900.20" width="15.28" height="11.75" fill="#86a9fc"/>
<rect x="1449.05" y="1900.20" width="15.28" height="11.75" fill="#a3c2fe"/>
<rect x="1464.08" y="1900.20" width="15.28" height="11.75" fill="#96b7ff"/>
<rect x="1479.11" y="1900.20" width="15.28" height="11.75" fill="#96b7ff"/>
<rect x="1494.14" y="1900.20" width="15.28" height="11.75" fill="#7396f5"/>
<rect x="1509.17" y="1900.20" width="15.28" height="11.75" fill="#86a9fc"/>
<rect x="1524.20" y="1900.20" width="15.28" height="11.75" fill="#96b7ff"/>
<rect x="1539.23" y="1900.20" width="15.28" height="11.75" fill="#96b7ff"/>
<rect x="1554.26" y="1900.20" width="15.28" height="11.75" fill="#96b7ff"/>
<rect x="1569.29" y="1900.20" width="15.28" height="11.75" fill="#a3c2fe"/>
<rect x="1584.32" y="1900.20" width="15.28" height="11.75" fill="#a3c2fe"/>
<rect x="1599.35" y="1900.20" width="15.28" height="11.75" fill="#7396f5"/>
<rect x="1614.38" y="1900.20" width="15.28" height="11.75" fill="#86a9fc"/>
<rect x="1629.41" y="1900.20" width="15.28" height="11.75" fill="#86a9fc"/>
<rect x="1644.44" y="1900.20" width="15.28" height="11.75" fill="#86a9fc"/>
<rect x="1659.47" y="1900.20" width="15.28" height="11.75" fill="#96b7ff"/>
<rect x="1674.50" y="1900.20" width="15.28" height="11.75" fill="#96b7ff"/>
<rect x="1689.53" y="1900.20" width="15.28" height="11.75" fill="#7396f5"/>
<rect x="1704.56" y="1900.20" width="15.28" height="11.75" fill="#86a9fc"/>
<rect x="1719.59" y="1900.20" width="15.28" height="11.75" fill="#86a9fc"/>
<rect x="1734.62" y="1900.20" width="15.28" height="11.75" fill="#86a9fc"/>
<rect x="1749.65" y="1900.20" width="15.28" height="11.75" fill="#86a9fc"/>
<rect x="1764.68" y="1900.20" width="15.28" height="11.75" fill="#86a9fc"/>
<rect x="1779.71" y="1900.20" width="15.28" height="11.75" fill="#86a9fc"/>
<rect x="1794.74" y="1900.20" width="15.28" height="11.75" fill="#7396f5"/>
<rect x="1809.77" y="1900.20" width="15.28" height="11.75" fill="#86a9fc"/>
<rect x="1223.60" y="1911.70" width="15.28" height="11.75" fill="#96b7ff"/>
<rect x="1238.63" y="1911.70" width="15.28" height="11.75" fill="#86a9fc"/>
<rect x="1253.66" y="1911.70" width="15.28" height="11.75" fill="#96b7ff"/>
<rect x="1268.69" y="1911.70" width="15.28" height="11.75" fill="#a3c2fe"/>
<rect x="1283.72" y="1911.70" width="15.28" height="11.75" fill="#a3c2fe"/>
<rect x="1298.75" y="1911.70" width="15.28" height="11.75" fill="#86a9fc"/>
<rect x="1313.78" y="1911.70" width="15.28" height="11.75" fill="#b2ccfb"/>
<rect x="1328.81" y="1911.70" width="15.28" height="11.75" fill="#96b7ff"/>
<rect x="1343.84" y="1911.70" width="15.28" height="11.75" fill="#96b7ff"/>
<rect x="1358.87" y="1911.70" width="15.28" height="11.75" fill="#b2ccfb"/>
<rect x="1373.90" y="1911.70" width="15.28" height="11.75" fill="#d1493f"/>
<rect x="1388.93" y="1911.70" width="15.28" height="11.75" fill="#b40426"/>
<rect x="1403.96" y="1911.70" width="15.28" height="11.75" fill="#ef886b"/>
<rect x="1418.99" y="1911.70" width="15.28" height="11.75" fill="#7396f5"/>
<rect x="1434.02" y="1911.70" width="15.28" height="11.75" fill="#86a9fc"/>
<rect x="1449.05" y="1911.70" width="15.28" height="11.75" fill="#a3c2fe"/>
<rect x="1464.08" y="1911.70" width="15.28" height="11.75" fill="#96b7ff"/>
<rect x="1479.11" y="1911.70" width="15.28" height="11.75" fill="#96b7ff"/>
<rect x="1494.14" y="1911.70" width="15.28" height="11.75" fill="#7396f5"/>
<rect x="1509.17" y="1911.70" width="15.28" height="11.75" fill="#96b7ff"/>
<rect x="1524.20" y="1911.70" width="15.28" height="11.75" fill="#96b7ff"/>
<rect x="1539.23" y="1911.70" width="15.28" height="11.75" fill="#96b7ff"/>
<rect x="1554.26" y="1911.70" width="15.28" height="11.75" fill="#96b7ff"/>
<rect x="1569.29" y="1911.70" width="15.28" height="11.75" fill="#b2ccfb"/>
<rect x="1584.32" y="1911.70" width="15.28" height="11.75" fill="#b2ccfb"/>
<rect x="1599.35" y="1911.70" width="15.28" height="11.75" fill="#86a9fc"/>
<rect x="1614.38" y="1911.70" width="15.28" height="11.75" fill="#7396f5"/>
<rect x="1629.41" y="1911.70" width="15.28" height="11.75" fill="#96b7ff"/>
<rect x="1644.44" y="1911.70" width="15.28" height="11.75" fill="#96b7ff"/>
<rect x="1659.47" y="1911.70" width="15.28" height="11.75" fill="#96b7ff"/>
<rect x="1674.50" y="1911.70" width="15.28" height="11.75" fill="#a3c2fe"/>
<rect x="1689.53" y="1911.70" width="15.28" height="11.75" fill="#7396f5"/>
<rect x="1704.56" y="1911.70" width="15.28" height="11.75" fill="#86a9fc"/>
<rect x="1719.59" y="1911.70" width="15.28" height="11.75" fill="#86a9fc"/>
<rect x="1734.62" y="1911.70" width="15.28" height="11.75" fill="#7396f5"/>
<rect x="1749.65" y="1911.70" width="15.28" height="11.75" fill="#86a9fc"/>
<rect x="1764.68" y="1911.70" width="15.28" height="11.75" fill="#86a9fc"/>
<rect x="1779.71" y="1911.70" width="15.28" height="11.75" fill="#86a9fc"/>
<rect x="1794.74" y="1911.70" width="15.28" height="11.75" fill="#7396f5"/>
<rect x="1809.77" y="1911.70" width="15.28" height="11.75" fill="#96b7ff"/>
<rect x="1223.60" y="1923.20" width="15.28" height="11.75" fill="#86a9fc"/>
<rect x="1238.63" y="1923.20" width="15.28" height="11.75" fill="#86a9fc"/>
<rect x="1253.66" y="1923.20" width="15.28" height="11.75" fill="#86a9fc"/>
<rect x="1268.69" y="1923.20" width="15.28" height="11.75" fill="#a3c2fe"/>
<rect x="1283.72" y="1923.20" width="15.28" height="11.75" fill="#a3c2fe"/>
<rect x="1298.75" y="1923.20" width="15.28" height="11.75" fill="#7396f5"/>
<rect x="1313.78" y="1923.20" width="15.28" height="11.75" fill="#b2ccfb"/>
<rect x="1328.81" y="1923.20" width="15.28" height="11.75" fill="#96b7ff"/>
<rect x="1343.84" y="1923.20" width="15.28" height="11.75" fill="#96b7ff"/>
<rect x="1358.87" y="1923.20" width="15.28" height="11.75" fill="#c0d4f5"/>
<rect x="1373.90" y="1923.20" width="15.28" height="11.75" fill="#d1493f"/>
<rect x="1388.93" y="1923.20" width="15.28" height="11.75" fill="#ef886b"/>
<rect x="1403.96" y="1923.20" width="15.28" height="11.75" fill="#b40426"/>
<rect x="1418.99" y="1923.20" width="15.28" height="11.75" fill="#86a9fc"/>
<rect x="1434.02" y="1923.20" width="15.28" height="11.75" fill="#96b7ff"/>
<rect x="1449.05" y="1923.20" width="15.28" height="11.75" fill="#a3c2fe"/>
<rect x="1464.08" y="1923.20" width="15.28" height="11.75" fill="#96b7ff"/>
<rect x="1479.11" y="1923.20" width="15.28" height="11.75" fill="#96b7ff"/>
<rect x="1494.14" y="1923.20" width="15.28" height="11.75" fill="#7396f5"/>
<rect x="1509.17" y="1923.20" width="15.28" height="11.75" fill="#96b7ff"/>
<rect x="1524.20" y="1923.20" width="15.28" height="11.75" fill="#96b7ff"/>
<rect x="1539.23" y="1923.20" width="15.28" height="11.75" fill="#96b7ff"/>
<rect x="1554.26" y="1923.20" width="15.28" height="11.75" fill="#96b7ff"/>
<rect x="1569.29" y="1923.20" width="15.28" height="11.75" fill="#a3c2fe"/>
<rect x="1584.32" y="1923.20" width="15.28" height="11.75" fill="#a3c2fe"/>
<rect x="1599.35" y="1923.20" width="15.28" height="11.75" fill="#86a9fc"/>
<rect x="1614.38" y="1923.20" width="15.28" height="11.75" fill="#86a9fc"/>
<rect x="1629.41" y="1923.20" width="15.28" height="11.75" fill="#86a9fc"/>
<rect x="1644.44" y="1923.20" width="15.28" height="11.75" fill="#96b7ff"/>
<rect x="1659.47" y="1923.20" width="15.28" height="11.75" fill="#96b7ff"/>
<rect x="1674.50" y="1923.20" width="15.28" height="11.75" fill="#a3c2fe"/>
<rect x="1689.53" y="1923.20" width="15.28" height="11.75" fill="#86a9fc"/>
<rect x="1704.56" y="1923.20" width="15.28" height="11.75" fill="#86a9fc"/>
<rect x="1719.59" y="1923.20" width="15.28" height="11.75" fill="#86a9fc"/>
<rect x="1734.62" y="1923.20" width="15.28" height="11.75" fill="#86a9fc"/>
<rect x="1749.65" y="1923.20" width="15.28" height="11.75" fill="#96b7ff"/>
<rect x="1764.68" y="1923.20" width="15.28" height="11.75" fill="#86a9fc"/>
<rect x="1779.71" y="1923.20" width="15.28" height="11.75" fill="#86a9fc"/>
<rect x="1794.74" y="1923.20" width="15.28" height="11.75" fill="#86a9fc"/>
<rect x="1809.77" y="1923.20" width="15.28" height="11.75" fill="#86a9fc"/>
<rect x="1223.60" y="1934.70" width="15.28" height="11.75" fill="#86a9fc"/>
<rect x="1238.63" y="1934.70" width="15.28" height="11.75" fill="#86a9fc"/>
<rect x="1253.66" y="1934.70" width="15.28" height="11.75" fill="#86a9fc"/>
<rect x="1268.69" y="1934.70" width="15.28" height="11.75" fill="#a3c2fe"/>
<rect x="1283.72" y="1934.70" width="15.28" height="11.75" fill="#96b7ff"/>
<rect x="1298.75" y="1934.70" width="15.28" height="11.75" fill="#7396f5"/>
<rect x="1313.78" y="1934.70" width="15.28" height="11.75" fill="#86a9fc"/>
<rect x="1328.81" y="1934.70" width="15.28" height="11.75" fill="#96b7ff"/>
<rect x="1343.84" y="1934.70" width="15.28" height="11.75" fill="#86a9fc"/>
<rect x="1358.87" y="1934.70" width="15.28" height="11.75" fill="#c0d4f5"/>
<rect x="1373.90" y="1934.70" width="15.28" height="11.75" fill="#7396f5"/>
<rect x="1388.93" y="1934.70" width="15.28" height="11.75" fill="#7396f5"/>
<rect x="1403.96" y="1934.70" width="15.28" height="11.75" fill="#86a9fc"/>
<rect x="1418.99" y="1934.70" width="15.28" height="11.75" fill="#b40426"/>
<rect x="1434.02" y="1934.70" width="15.28" height="11.75" fill="#efcfbf"/>
<rect x="1449.05" y="1934.70" width="15.28" height="11.75" fill="#efcfbf"/>
<rect x="1464.08" y="1934.70" width="15.28" height="11.75" fill="#e5d8d1"/>
<rect x="1479.11" y="1934.70" width="15.28" height="11.75" fill="#ccd9ed"/>
<rect x="1494.14" y="1934.70" width="15.28" height="11.75" fill="#ccd9ed"/>
<rect x="1509.17" y="1934.70" width="15.28" height="11.75" fill="#dadce0"/>
<rect x="1524.20" y="1934.70" width="15.28" height="11.75" fill="#ccd9ed"/>
<rect x="1539.23" y="1934.70" width="15.28" height="11.75" fill="#ccd9ed"/>
<rect x="1554.26" y="1934.70" width="15.28" height="11.75" fill="#dadce0"/>
<rect x="1569.29" y="1934.70" width="15.28" height="11.75" fill="#c0d4f5"/>
<rect x="1584.32" y="1934.70" width="15.28" height="11.75" fill="#ccd9ed"/>
<rect x="1599.35" y="1934.70" width="15.28" height="11.75" fill="#e5d8d1"/>
<rect x="1614.38" y="1934.70" width="15.28" height="11.75" fill="#ccd9ed"/>
<rect x="1629.41" y="1934.70" width="15.28" height="11.75" fill="#ccd9ed"/>
<rect x="1644.44" y="1934.70" width="15.28" height="11.75" fill="#e5d8d1"/>
<rect x="1659.47" y="1934.70" width="15.28" height="11.75" fill="#ccd9ed"/>
<rect x="1674.50" y="1934.70" width="15.28" height="11.75" fill="#ccd9ed"/>
<rect x="1689.53" y="1934.70" width="15.28" height="11.75" fill="#ccd9ed"/>
<rect x="1704.56" y="1934.70" width="15.28" height="11.75" fill="#c0d4f5"/>
<rect x="1719.59" y="1934.70" width="15.28" height="11.75" fill="#ccd9ed"/>
<rect x="1734.62" y="1934.70" width="15.28" height="11.75" fill="#a3c2fe"/>
<rect x="1749.65" y="1934.70" width="15.28" height="11.75" fill="#a3c2fe"/>
<rect x="1764.68" y="1934.70" width="15.28" height="11.75" fill="#c0d4f5"/>
<rect x="1779.71" y="1934.70" width="15.28" height="11.75" fill="#b2ccfb"/>
<rect x="1794.74" y="1934.70" width="15.28" height="11.75" fill="#c0d4f5"/>
<rect x="1809.77" y="1934.70" width="15.28" height="11.75" fill="#b2ccfb"/>
<rect x="1223.60" y="1946.20" width="15.28" height="11.75" fill="#7396f5"/>
<rect x="1238.63" y="1946.20" width="15.28" height="11.75" fill="#86a9fc"/>
<rect x="1253.66" y="1946.20" width="15.28" height="11.75" fill="#86a9fc"/>
<rect x="1268.69" y="1946.20" width="15.28" height="11.75" fill="#a3c2fe"/>
<rect x="1283.72" y="1946.20" width="15.28" height="11.75" fill="#96b7ff"/>
<rect x="1298.75" y="1946.20" width="15.28" height="11.75" fill="#7396f5"/>
<rect x="1313.78" y="1946.20" width="15.28" height="11.75" fill="#86a9fc"/>
<rect x="1328.81" y="1946.20" width="15.28" height="11.75" fill="#c0d4f5"/>
<rect x="1343.84" y="1946.20" width="15.28" height="11.75" fill="#86a9fc"/>
<rect x="1358.87" y="1946.20" width="15.28" height="11.75" fill="#c0d4f5"/>
<rect x="1373.90" y="1946.20" width="15.28" height="11.75" fill="#86a9fc"/>
<rect x="1388.93" y="1946.20" width="15.28" height="11.75" fill="#86a9fc"/>
<rect x="1403.96" y="1946.20" width="15.28" height="11.75" fill="#96b7ff"/>
<rect x="1418.99" y="1946.20" width="15.28" height="11.75" fill="#efcfbf"/>
<rect x="1434.02" y="1946.20" width="15.28" height="11.75" fill="#b40426"/>
<rect x="1449.05" y="1946.20" width="15.28" height="11.75" fill="#e5d8d1"/>
<rect x="1464.08" y="1946.20" width="15.28" height="11.75" fill="#dadce0"/>
<rect x="1479.11" y="1946.20" width="15.28" height="11.75" fill="#efcfbf"/>
<rect x="1494.14" y="1946.20" width="15.28" height="11.75" fill="#ccd9ed"/>
<rect x="1509.17" y="1946.20" width="15.28" height="11.75" fill="#ccd9ed"/>
<rect x="1524.20" y="1946.20" width="15.28" height="11.75" fill="#e5d8d1"/>
<rect x="1539.23" y="1946.20" width="15.28" height="11.75" fill="#dadce0"/>
<rect x="1554.26" y="1946.20" width="15.28" height="11.75" fill="#ccd9ed"/>
<rect x="1569.29" y="1946.20" width="15.28" height="11.75" fill="#dadce0"/>
<rect x="1584.32" y="1946.20" width="15.28" height="11.75" fill="#dadce0"/>
<rect x="1599.35" y="1946.20" width="15.28" height="11.75" fill="#ccd9ed"/>
<rect x="1614.38" y="1946.20" width="15.28" height="11.75" fill="#dadce0"/>
<rect x="1629.41" y="1946.20" width="15.28" height="11.75" fill="#ccd9ed"/>
<rect x="1644.44" y="1946.20" width="15.28" height="11.75" fill="#dadce0"/>
<rect x="1659.47" y="1946.20" width="15.28" height="11.75" fill="#dadce0"/>
<rect x="1674.50" y="1946.20" width="15.28" height="11.75" fill="#ccd9ed"/>
<rect x="1689.53" y="1946.20" width="15.28" height="11.75" fill="#a3c2fe"/>
<rect x="1704.56" y="1946.20" width="15.28" height="11.75" fill="#c0d4f5"/>
<rect x="1719.59" y="1946.20" width="15.28" height="11.75" fill="#ccd9ed"/>
<rect x="1734.62" y="1946.20" width="15.28" height="11.75" fill="#96b7ff"/>
<rect x="1749.65" y="1946.20" width="15.28" height="11.75" fill="#c0d4f5"/>
<rect x="1764.68" y="1946.20" width="15.28" height="11.75" fill="#b2ccfb"/>
<rect x="1779.71" y="1946.20" width="15.28" height="11.75" fill="#96b7ff"/>
<rect x="1794.74" y="1946.20" width="15.28" height="11.75" fill="#96b7ff"/>
<rect x="1809.77" y="1946.20" width="15.28" height="11.75" fill="#c0d4f5"/>
<rect x="1223.60" y="1957.70" width="15.28" height="11.75" fill="#96b7ff"/>
<rect x="1238.63" y="1957.70" width="15.28" height="11.75" fill="#96b7ff"/>
<rect x="1253.66" y="1957.70" width="15.28" height="11.75" fill="#96b7ff"/>
<rect x="1268.69" y="1957.70" width="15.28" height="11.75" fill="#c0d4f5"/>
<rect x="1283.72" y="1957.70" width="15.28" height="11.75" fill="#96b7ff"/>
<rect x="1298.75" y="1957.70" width="15.28" height="11.75" fill="#7396f5"/>
<rect x="1313.78" y="1957.70" width="15.28" height="11.75" fill="#86a9fc"/>
<rect x="1328.81" y="1957.70" width="15.28" height="11.75" fill="#96b7ff"/>
<rect x="1343.84" y="1957.70" width="15.28" height="11.75" fill="#96b7ff"/>
<rect x="1358.87" y="1957.70" width="15.28" height="11.75" fill="#b2ccfb"/>
<rect x="1373.90" y="1957.70" width="15.28" height="11.75" fill="#a3c2fe"/>
<rect x="1388.93" y="1957.70" width="15.28" height="11.75" fill="#a3c2fe"/>
<rect x="1403.96" y="1957.70" width="15.28" height="11.75" fill="#a3c2fe"/>
<rect x="1418.99" y="1957.70" width="15.28" height="11.75" fill="#efcfbf"/>
<rect x="1434.02" y="1957.70" width="15.28" height="11.75" fill="#e5d8d1"/>
<rect x="1449.05" y="1957.70" width="15.28" height="11.75" fill="#b40426"/>
<rect x="1464.08" y="1957.70" width="15.28" height="11.75" fill="#e5d8d1"/>
<rect x="1479.11" y="1957.70" width="15.28" height="11.75" fill="#ccd9ed"/>
<rect x="1494.14" y="1957.70" width="15.28" height="11.75" fill="#efcfbf"/>
<rect x="1509.17" y="1957.70" width="15.28" height="11.75" fill="#dadce0"/>
<rect x="1524.20" y="1957.70" width="15.28" height="11.75" fill="#dadce0"/>
<rect x="1539.23" y="1957.70" width="15.28" height="11.75" fill="#ccd9ed"/>
<rect x="1554.26" y="1957.70" width="15.28" height="11.75" fill="#ccd9ed"/>
<rect x="1569.29" y="1957.70" width="15.28" height="11.75" fill="#ccd9ed"/>
<rect x="1584.32" y="1957.70" width="15.28" height="11.75" fill="#ccd9ed"/>
<rect x="1599.35" y="1957.70" width="15.28" height="11.75" fill="#ccd9ed"/>
<rect x="1614.38" y="1957.70" width="15.28" height="11.75" fill="#c0d4f5"/>
<rect x="1629.41" y="1957.70" width="15.28" height="11.75" fill="#dadce0"/>
<rect x="1644.44" y="1957.70" width="15.28" height="11.75" fill="#ccd9ed"/>
<rect x="1659.47" y="1957.70" width="15.28" height="11.75" fill="#ccd9ed"/>
<rect x="1674.50" y="1957.70" width="15.28" height="11.75" fill="#e5d8d1"/>
<rect x="1689.53" y="1957.70" width="15.28" height="11.75" fill="#b2ccfb"/>
<rect x="1704.56" y="1957.70" width="15.28" height="11.75" fill="#a3c2fe"/>
<rect x="1719.59" y="1957.70" width="15.28" height="11.75" fill="#c0d4f5"/>
<rect x="1734.62" y="1957.70" width="15.28" height="11.75" fill="#96b7ff"/>
<rect x="1749.65" y="1957.70" width="15.28" height="11.75" fill="#c0d4f5"/>
<rect x="1764.68" y="1957.70" width="15.28" height="11.75" fill="#c0d4f5"/>
<rect x="1779.71" y="1957.70" width="15.28" height="11.75" fill="#b2ccfb"/>
<rect x="1794.74" y="1957.70" width="15.28" height="11.75" fill="#c0d4f5"/>
<rect x="1809.77" y="1957.70" width="15.28" height="11.75" fill="#c0d4f5"/>
<rect x="1223.60" y="1969.20" width="15.28" height="11.75" fill="#96b7ff"/>
<rect x="1238.63" y="1969.20" width="15.28" height="11.75" fill="#96b7ff"/>
<rect x="1253.66" y="1969.20" width="15.28" height="11.75" fill="#96b7ff"/>
<rect x="1268.69" y="1969.20" width="15.28" height="11.75" fill="#a3c2fe"/>
<rect x="1283.72" y="1969.20" width="15.28" height="11.75" fill="#a3c2fe"/>
<rect x="1298.75" y="1969.20" width="15.28" height="11.75" fill="#86a9fc"/>
<rect x="1313.78" y="1969.20" width="15.28" height="11.75" fill="#96b7ff"/>
<rect x="1328.81" y="1969.20" width="15.28" height="11.75" fill="#96b7ff"/>
<rect x="1343.84" y="1969.20" width="15.28" height="11.75" fill="#96b7ff"/>
<rect x="1358.87" y="1969.20" width="15.28" height="11.75" fill="#c0d4f5"/>
<rect x="1373.90" y="1969.20" width="15.28" height="11.75" fill="#96b7ff"/>
<rect x="1388.93" y="1969.20" width="15.28" height="11.75" fill="#96b7ff"/>
<rect x="1403.96" y="1969.20" width="15.28" height="11.75" fill="#96b7ff"/>
<rect x="1418.99" y="1969.20" width="15.28" height="11.75" fill="#e5d8d1"/>
<rect x="1434.02" y="1969.20" width="15.28" height="11.75" fill="#dadce0"/>
<rect x="1449.05" y="1969.20" width="15.28" height="11.75" fill="#e5d8d1"/>
<rect x="1464.08" y="1969.20" width="15.28" height="11.75" fill="#b40426"/>
<rect x="1479.11" y="1969.20" width="15.28" height="11.75" fill="#f6bda2"/>
<rect x="1494.14" y="1969.20" width="15.28" height="11.75" fill="#f6bda2"/>
<rect x="1509.17" y="1969.20" width="15.28" height="11.75" fill="#e5d8d1"/>
<rect x="1524.20" y="1969.20" width="15.28" height="11.75" fill="#ccd9ed"/>
<rect x="1539.23" y="1969.20" width="15.28" height="11.75" fill="#ccd9ed"/>
<rect x="1554.26" y="1969.20" width="15.28" height="11.75" fill="#e5d8d1"/>
<rect x="1569.29" y="1969.20" width="15.28" height="11.75" fill="#ccd9ed"/>
<rect x="1584.32" y="1969.20" width="15.28" height="11.75" fill="#e5d8d1"/>
<rect x="1599.35" y="1969.20" width="15.28" height="11.75" fill="#dadce0"/>
<rect x="1614.38" y="1969.20" width="15.28" height="11.75" fill="#c0d4f5"/>
<rect x="1629.41" y="1969.20" width="15.28" height="11.75" fill="#ccd9ed"/>
<rect x="1644.44" y="1969.20" width="15.28" height="11.75" fill="#dadce0"/>
<rect x="1659.47" y="1969.20" width="15.28" height="11.75" fill="#ccd9ed"/>
<rect x="1674.50" y="1969.20" width="15.28" height="11.75" fill="#ccd9ed"/>
<rect x="1689.53" y="1969.20" width="15.28" height="11.75" fill="#b2ccfb"/>
<rect x="1704.56" y="1969.20" width="15.28" height="11.75" fill="#a3c2fe"/>
<rect x="1719.59" y="1969.20" width="15.28" height="11.75" fill="#c0d4f5"/>
<rect x="1734.62" y="1969.20" width="15.28" height="11.75" fill="#96b7ff"/>
<rect x="1749.65" y="1969.20" width="15.28" height="11.75" fill="#a3c2fe"/>
<rect x="1764.68" y="1969.20" width="15.28" height="11.75" fill="#a3c2fe"/>
<rect x="1779.71" y="1969.20" width="15.28" height="11.75" fill="#b2ccfb"/>
<rect x="1794.74" y="1969.20" width="15.28" height="11.75" fill="#c0d4f5"/>
<rect x="1809.77" y="1969.20" width="15.28" height="11.75" fill="#c0d4f5"/>
<rect x="1223.60" y="1980.70" width="15.28" height="11.75" fill="#86a9fc"/>
<rect x="1238.63" y="1980.70" width="15.28" height="11.75" fill="#86a9fc"/>
<rect x="1253.66" y="1980.70" width="15.28" height="11.75" fill="#86a9fc"/>
<rect x="1268.69" y="1980.70" width="15.28" height="11.75" fill="#96b7ff"/>
<rect x="1283.72" y="1980.70" width="15.28" height="11.75" fill="#a3c2fe"/>
<rect x="1298.75" y="1980.70" width="15.28" height="11.75" fill="#86a9fc"/>
<rect x="1313.78" y="1980.70" width="15.28" height="11.75" fill="#96b7ff"/>
<rect x="1328.81" y="1980.70" width="15.28" height="11.75" fill="#96b7ff"/>
<rect x="1343.84" y="1980.70" width="15.28" height="11.75" fill="#96b7ff"/>
<rect x="1358.87" y="1980.70" width="15.28" height="11.75" fill="#c0d4f5"/>
<rect x="1373.90" y="1980.70" width="15.28" height="11.75" fill="#96b7ff"/>
<rect x="1388.93" y="1980.70" width="15.28" height="11.75" fill="#96b7ff"/>
<rect x="1403.96" y="1980.70" width="15.28" height="11.75" fill="#96b7ff"/>
<rect x="1418.99" y="1980.70" width="15.28" height="11.75" fill="#ccd9ed"/>
<rect x="1434.02" y="1980.70" width="15.28" height="11.75" fill="#efcfbf"/>
<rect x="1449.05" y="1980.70" width="15.28" height="11.75" fill="#ccd9ed"/>
<rect x="1464.08" y="1980.70" width="15.28" height="11.75" fill="#f6bda2"/>
<rect x="1479.11" y="1980.70" width="15.28" height="11.75" fill="#b40426"/>
<rect x="1494.14" y="1980.70" width="15.28" height="11.75" fill="#e5d8d1"/>
<rect x="1509.17" y="1980.70" width="15.28" height="11.75" fill="#ccd9ed"/>
<rect x="1524.20" y="1980.70" width="15.28" height="11.75" fill="#e5d8d1"/>
<rect x="1539.23" y="1980.70" width="15.28" height="11.75" fill="#dadce0"/>
<rect x="1554.26" y="1980.70" width="15.28" height="11.75" fill="#ccd9ed"/>
<rect x="1569.29" y="1980.70" width="15.28" height="11.75" fill="#dadce0"/>
<rect x="1584.32" y="1980.70" width="15.28" height="11.75" fill="#dadce0"/>
<rect x="1599.35" y="1980.70" width="15.28" height="11.75" fill="#c0d4f5"/>
<rect x="1614.38" y="1980.70" width="15.28" height="11.75" fill="#ccd9ed"/>
<rect x="1629.41" y="1980.70" width="15.28" height="11.75" fill="#c0d4f5"/>
<rect x="1644.44" y="1980.70" width="15.28" height="11.75" fill="#ccd9ed"/>
<rect x="1659.47" y="1980.70" width="15.28" height="11.75" fill="#dadce0"/>
<rect x="1674.50" y="1980.70" width="15.28" height="11.75" fill="#ccd9ed"/>
<rect x="1689.53" y="1980.70" width="15.28" height="11.75" fill="#c0d4f5"/>
<rect x="1704.56" y="1980.70" width="15.28" height="11.75" fill="#c0d4f5"/>
<rect x="1719.59" y="1980.70" width="15.28" height="11.75" fill="#a3c2fe"/>
<rect x="1734.62" y="1980.70" width="15.28" height="11.75" fill="#a3c2fe"/>
<rect x="1749.65" y="1980.70" width="15.28" height="11.75" fill="#ccd9ed"/>
<rect x="1764.68" y="1980.70" width="15.28" height="11.75" fill="#c0d4f5"/>
<rect x="1779.71" y="1980.70" width="15.28" height="11.75" fill="#b2ccfb"/>
<rect x="1794.74" y="1980.70" width="15.28" height="11.75" fill="#c0d4f5"/>
<rect x="1809.77" y="1980.70" width="15.28" height="11.75" fill="#b2ccfb"/>
<rect x="1223.60" y="1992.20" width="15.28" height="11.75" fill="#96b7ff"/>
<rect x="1238.63" y="1992.20" width="15.28" height="11.75" fill="#96b7ff"/>
<rect x="1253.66" y="1992.20" width="15.28" height="11.75" fill="#96b7ff"/>
<rect x="1268.69" y="1992.20" width="15.28" height="11.75" fill="#96b7ff"/>
<rect x="1283.72" y="1992.20" width="15.28" height="11.75" fill="#c0d4f5"/>
<rect x="1298.75" y="1992.20" width="15.28" height="11.75" fill="#a3c2fe"/>
<rect x="1313.78" y="1992.20" width="15.28" height="11.75" fill="#a3c2fe"/>
<rect x="1328.81" y="1992.20" width="15.28" height="11.75" fill="#96b7ff"/>
<rect x="1343.84" y="1992.20" width="15.28" height="11.75" fill="#96b7ff"/>
<rect x="1358.87" y="1992.20" width="15.28" height="11.75" fill="#96b7ff"/>
<rect x="1373.90" y="1992.20" width="15.28" height="11.75" fill="#7396f5"/>
<rect x="1388.93" y="1992.20" width="15.28" height="11.75" fill="#7396f5"/>
<rect x="1403.96" y="1992.20" width="15.28" height="11.75" fill="#7396f5"/>
<rect x="1418.99" y="1992.20" width="15.28" height="11.75" fill="#ccd9ed"/>
<rect x="1434.02" y="1992.20" width="15.28" height="11.75" fill="#dadce0"/>
<rect x="1449.05" y="1992.20" width="15.28" height="11.75" fill="#efcfbf"/>
<rect x="1464.08" y="1992.20" width="15.28" height="11.75" fill="#f6bda2"/>
<rect x="1479.11" y="1992.20" width="15.28" height="11.75" fill="#e5d8d1"/>
<rect x="1494.14" y="1992.20" width="15.28" height="11.75" fill="#b40426"/>
<rect x="1509.17" y="1992.20" width="15.28" height="11.75" fill="#ccd9ed"/>
<rect x="1524.20" y="1992.20" width="15.28" height="11.75" fill="#ccd9ed"/>
<rect x="1539.23" y="1992.20" width="15.28" height="11.75" fill="#dadce0"/>
<rect x="1554.26" y="1992.20" width="15.28" height="11.75" fill="#ccd9ed"/>
<rect x="1569.29" y="1992.20" width="15.28" height="11.75" fill="#dadce0"/>
<rect x="1584.32" y="1992.20" width="15.28" height="11.75" fill="#dadce0"/>
<rect x="1599.35" y="1992.20" width="15.28" height="11.75" fill="#ccd9ed"/>
<rect x="1614.38" y="1992.20" width="15.28" height="11.75" fill="#c0d4f5"/>
<rect x="1629.41" y="1992.20" width="15.28" height="11.75" fill="#dadce0"/>
<rect x="1644.44" y="1992.20" width="15.28" height="11.75" fill="#ccd9ed"/>
<rect x="1659.47" y="1992.20" width="15.28" height="11.75" fill="#ccd9ed"/>
<rect x="1674.50" y="1992.20" width="15.28" height="11.75" fill="#ccd9ed"/>
<rect x="1689.53" y="1992.20" width="15.28" height="11.75" fill="#b2ccfb"/>
<rect x="1704.56" y="1992.20" width="15.28" height="11.75" fill="#a3c2fe"/>
<rect x="1719.59" y="1992.20" width="15.28" height="11.75" fill="#ccd9ed"/>
<rect x="1734.62" y="1992.20" width="15.28" height="11.75" fill="#c0d4f5"/>
<rect x="1749.65" y="1992.20" width="15.28" height="11.75" fill="#ccd9ed"/>
<rect x="1764.68" y="1992.20" width="15.28" height="11.75" fill="#dadce0"/>
<rect x="1779.71" y="1992.20" width="15.28" height="11.75" fill="#c0d4f5"/>
<rect x="1794.74" y="1992.20" width="15.28" height="11.75" fill="#c0d4f5"/>
<rect x="1809.77" y="1992.20" width="15.28" height="11.75" fill="#c0d4f5"/>
<rect x="1223.60" y="2003.70" width="15.28" height="11.75" fill="#96b7ff"/>
<rect x="1238.63" y="2003.70" width="15.28" height="11.75" fill="#96b7ff"/>
<rect x="1253.66" y="2003.70" width="15.28" height="11.75" fill="#96b7ff"/>
<rect x="1268.69" y="2003.70" width="15.28" height="11.75" fill="#a3c2fe"/>
<rect x="1283.72" y="2003.70" width="15.28" height="11.75" fill="#c0d4f5"/>
<rect x="1298.75" y="2003.70" width="15.28" height="11.75" fill="#86a9fc"/>
<rect x="1313.78" y="2003.70" width="15.28" height="11.75" fill="#96b7ff"/>
<rect x="1328.81" y="2003.70" width="15.28" height="11.75" fill="#96b7ff"/>
<rect x="1343.84" y="2003.70" width="15.28" height="11.75" fill="#a3c2fe"/>
<rect x="1358.87" y="2003.70" width="15.28" height="11.75" fill="#a3c2fe"/>
<rect x="1373.90" y="2003.70" width="15.28" height="11.75" fill="#86a9fc"/>
<rect x="1388.93" y="2003.70" width="15.28" height="11.75" fill="#96b7ff"/>
<rect x="1403.96" y="2003.70" width="15.28" height="11.75" fill="#96b7ff"/>
<rect x="1418.99" y="2003.70" width="15.28" height="11.75" fill="#dadce0"/>
<rect x="1434.02" y="2003.70" width="15.28" height="11.75" fill="#ccd9ed"/>
<rect x="1449.05" y="2003.70" width="15.28" height="11.75" fill="#dadce0"/>
<rect x="1464.08" y="2003.70" width="15.28" height="11.75" fill="#e5d8d1"/>
<rect x="1479.11" y="2003.70" width="15.28" height="11.75" fill="#ccd9ed"/>
<rect x="1494.14" y="2003.70" width="15.28" height="11.75" fill="#ccd9ed"/>
<rect x="1509.17" y="2003.70" width="15.28" height="11.75" fill="#b40426"/>
<rect x="1524.20" y="2003.70" width="15.28" height="11.75" fill="#f6bda2"/>
<rect x="1539.23" y="2003.70" width="15.28" height="11.75" fill="#f6bda2"/>
<rect x="1554.26" y="2003.70" width="15.28" height="11.75" fill="#dadce0"/>
<rect x="1569.29" y="2003.70" width="15.28" height="11.75" fill="#c0d4f5"/>
<rect x="1584.32" y="2003.70" width="15.28" height="11.75" fill="#e5d8d1"/>
<rect x="1599.35" y="2003.70" width="15.28" height="11.75" fill="#ccd9ed"/>
<rect x="1614.38" y="2003.70" width="15.28" height="11.75" fill="#c0d4f5"/>
<rect x="1629.41" y="2003.70" width="15.28" height="11.75" fill="#dadce0"/>
<rect x="1644.44" y="2003.70" width="15.28" height="11.75" fill="#ccd9ed"/>
<rect x="1659.47" y="2003.70" width="15.28" height="11.75" fill="#c0d4f5"/>
<rect x="1674.50" y="2003.70" width="15.28" height="11.75" fill="#ccd9ed"/>
<rect x="1689.53" y="2003.70" width="15.28" height="11.75" fill="#ccd9ed"/>
<rect x="1704.56" y="2003.70" width="15.28" height="11.75" fill="#ccd9ed"/>
<rect x="1719.59" y="2003.70" width="15.28" height="11.75" fill="#dadce0"/>
<rect x="1734.62" y="2003.70" width="15.28" height="11.75" fill="#96b7ff"/>
<rect x="1749.65" y="2003.70" width="15.28" height="11.75" fill="#c0d4f5"/>
<rect x="1764.68" y="2003.70" width="15.28" height="11.75" fill="#b2ccfb"/>
<rect x="1779.71" y="2003.70" width="15.28" height="11.75" fill="#ccd9ed"/>
<rect x="1794.74" y="2003.70" width="15.28" height="11.75" fill="#c0d4f5"/>
<rect x="1809.77" y="2003.70" width="15.28" height="11.75" fill="#ccd9ed"/>
<rect x="1223.60" y="2015.20" width="15.28" height="11.75" fill="#86a9fc"/>
<rect x="1238.63" y="2015.20" width="15.28" height="11.75" fill="#96b7ff"/>
<rect x="1253.66" y="2015.20" width="15.28" height="11.75" fill="#86a9fc"/>
<rect x="1268.69" y="2015.20" width="15.28" height="11.75" fill="#a3c2fe"/>
<rect x="1283.72" y="2015.20" width="15.28" height="11.75" fill="#b2ccfb"/>
<rect x="1298.75" y="2015.20" width="15.28" height="11.75" fill="#96b7ff"/>
<rect x="1313.78" y="2015.20" width="15.28" height="11.75" fill="#96b7ff"/>
<rect x="1328.81" y="2015.20" width="15.28" height="11.75" fill="#96b7ff"/>
<rect x="1343.84" y="2015.20" width="15.28" height="11.75" fill="#96b7ff"/>
<rect x="1358.87" y="2015.20" width="15.28" height="11.75" fill="#c0d4f5"/>
<rect x="1373.90" y="2015.20" width="15.28" height="11.75" fill="#96b7ff"/>
<rect x="1388.93" y="2015.20" width="15.28" height="11.75" fill="#96b7ff"/>
<rect x="1403.96" y="2015.20" width="15.28" height="11.75" fill="#96b7ff"/>
<rect x="1418.99" y="2015.20" width="15.28" height="11.75" fill="#ccd9ed"/>
<rect x="1434.02" y="2015.20" width="15.28" height="11.75" fill="#e5d8d1"/>
<rect x="1449.05" y="2015.20" width="15.28" height="11.75" fill="#dadce0"/>
<rect x="1464.08" y="2015.20" width="15.28" height="11.75" fill="#ccd9ed"/>
<rect x="1479.11" y="2015.20" width="15.28" height="11.75" fill="#e5d8d1"/>
<rect x="1494.14" y="2015.20" width="15.28" height="11.75" fill="#ccd9ed"/>
<rect x="1509.17" y="2015.20" width="15.28" height="11.75" fill="#f6bda2"/>
<rect x="1524.20" y="2015.20" width="15.28" height="11.75" fill="#b40426"/>
<rect x="1539.23" y="2015.20" width="15.28" height="11.75" fill="#f6bda2"/>
<rect x="1554.26" y="2015.20" width="15.28" height="11.75" fill="#ccd9ed"/>
<rect x="1569.29" y="2015.20" width="15.28" height="11.75" fill="#ccd9ed"/>
<rect x="1584.32" y="2015.20" width="15.28" height="11.75" fill="#ccd9ed"/>
<rect x="1599.35" y="2015.20" width="15.28" height="11.75" fill="#c0d4f5"/>
<rect x="1614.38" y="2015.20" width="15.28" height="11.75" fill="#c0d4f5"/>
<rect x="1629.41" y="2015.20" width="15.28" height="11.75" fill="#b2ccfb"/>
<rect x="1644.44" y="2015.20" width="15.28" height="11.75" fill="#b2ccfb"/>
<rect x="1659.47" y="2015.20" width="15.28" height="11.75" fill="#ccd9ed"/>
<rect x="1674.50" y="2015.20" width="15.28" height="11.75" fill="#ccd9ed"/>
<rect x="1689.53" y="2015.20" width="15.28" height="11.75" fill="#b2ccfb"/>
<rect x="1704.56" y="2015.20" width="15.28" height="11.75" fill="#dadce0"/>
<rect x="1719.59" y="2015.20" width="15.28" height="11.75" fill="#ccd9ed"/>
<rect x="1734.62" y="2015.20" width="15.28" height="11.75" fill="#96b7ff"/>
<rect x="1749.65" y="2015.20" width="15.28" height="11.75" fill="#ccd9ed"/>
<rect x="1764.68" y="2015.20" width="15.28" height="11.75" fill="#b2ccfb"/>
<rect x="1779.71" y="2015.20" width="15.28" height="11.75" fill="#96b7ff"/>
<rect x="1794.74" y="2015.20" width="15.28" height="11.75" fill="#ccd9ed"/>
<rect x="1809.77" y="2015.20" width="15.28" height="11.75" fill="#b2ccfb"/>
<rect x="1223.60" y="2026.70" width="15.28" height="11.75" fill="#86a9fc"/>
<rect x="1238.63" y="2026.70" width="15.28" height="11.75" fill="#86a9fc"/>
<rect x="1253.66" y="2026.70" width="15.28" height="11.75" fill="#86a9fc"/>
<rect x="1268.69" y="2026.70" width="15.28" height="11.75" fill="#86a9fc"/>
<rect x="1283.72" y="2026.70" width="15.28" height="11.75" fill="#b2ccfb"/>
<rect x="1298.75" y="2026.70" width="15.28" height="11.75" fill="#96b7ff"/>
<rect x="1313.78" y="2026.70" width="15.28" height="11.75" fill="#a3c2fe"/>
<rect x="1328.81" y="2026.70" width="15.28" height="11.75" fill="#96b7ff"/>
<rect x="1343.84" y="2026.70" width="15.28" height="11.75" fill="#96b7ff"/>
<rect x="1358.87" y="2026.70" width="15.28" height="11.75" fill="#a3c2fe"/>
<rect x="1373.90" y="2026.70" width="15.28" height="11.75" fill="#96b7ff"/>
<rect x="1388.93" y="2026.70" width="15.28" height="11.75" fill="#96b7ff"/>
<rect x="1403.96" y="2026.70" width="15.28" height="11.75" fill="#96b7ff"/>
<rect x="1418.99" y="2026.70" width="15.28" height="11.75" fill="#ccd9ed"/>
<rect x="1434.02" y="2026.70" width="15.28" height="11.75" fill="#dadce0"/>
<rect x="1449.05" y="2026.70" width="15.28" height="11.75" fill="#ccd9ed"/>
<rect x="1464.08" y="2026.70" width="15.28" height="11.75" fill="#ccd9ed"/>
<rect x="1479.11" y="2026.70" width="15.28" height="11.75" fill="#dadce0"/>
<rect x="1494.14" y="2026.70" width="15.28" height="11.75" fill="#dadce0"/>
<rect x="1509.17" y="2026.70" width="15.28" height="11.75" fill="#f6bda2"/>
<rect x="1524.20" y="2026.70" width="15.28" height="11.75" fill="#f6bda2"/>
<rect x="1539.23" y="2026.70" width="15.28" height="11.75" fill="#b40426"/>
<rect x="1554.26" y="2026.70" width="15.28" height="11.75" fill="#dadce0"/>
<rect x="1569.29" y="2026.70" width="15.28" height="11.75" fill="#ccd9ed"/>
<rect x="1584.32" y="2026.70" width="15.28" height="11.75" fill="#e5d8d1"/>
<rect x="1599.35" y="2026.70" width="15.28" height="11.75" fill="#c0d4f5"/>
<rect x="1614.38" y="2026.70" width="15.28" height="11.75" fill="#b2ccfb"/>
<rect x="1629.41" y="2026.70" width="15.28" height="11.75" fill="#ccd9ed"/>
<rect x="1644.44" y="2026.70" width="15.28" height="11.75" fill="#c0d4f5"/>
<rect x="1659.47" y="2026.70" width="15.28" height="11.75" fill="#c0d4f5"/>
<rect x="1674.50" y="2026.70" width="15.28" height="11.75" fill="#ccd9ed"/>
<rect x="1689.53" y="2026.70" width="15.28" height="11.75" fill="#dadce0"/>
<rect x="1704.56" y="2026.70" width="15.28" height="11.75" fill="#ccd9ed"/>
<rect x="1719.59" y="2026.70" width="15.28" height="11.75" fill="#efcfbf"/>
<rect x="1734.62" y="2026.70" width="15.28" height="11.75" fill="#96b7ff"/>
<rect x="1749.65" y="2026.70" width="15.28" height="11.75" fill="#c0d4f5"/>
<rect x="1764.68" y="2026.70" width="15.28" height="11.75" fill="#ccd9ed"/>
<rect x="1779.71" y="2026.70" width="15.28" height="11.75" fill="#c0d4f5"/>
<rect x="1794.74" y="2026.70" width="15.28" height="11.75" fill="#b2ccfb"/>
<rect x="1809.77" y="2026.70" width="15.28" height="11.75" fill="#dadce0"/>
<rect x="1223.60" y="2038.20" width="15.28" height="11.75" fill="#86a9fc"/>
<rect x="1238.63" y="2038.20" width="15.28" height="11.75" fill="#7396f5"/>
<rect x="1253.66" y="2038.20" width="15.28" height="11.75" fill="#86a9fc"/>
<rect x="1268.69" y="2038.20" width="15.28" height="11.75" fill="#b2ccfb"/>
<rect x="1283.72" y="2038.20" width="15.28" height="11.75" fill="#b2ccfb"/>
<rect x="1298.75" y="2038.20" width="15.28" height="11.75" fill="#86a9fc"/>
<rect x="1313.78" y="2038.20" width="15.28" height="11.75" fill="#96b7ff"/>
<rect x="1328.81" y="2038.20" width="15.28" height="11.75" fill="#96b7ff"/>
<rect x="1343.84" y="2038.20" width="15.28" height="11.75" fill="#96b7ff"/>
<rect x="1358.87" y="2038.20" width="15.28" height="11.75" fill="#b2ccfb"/>
<rect x="1373.90" y="2038.20" width="15.28" height="11.75" fill="#96b7ff"/>
<rect x="1388.93" y="2038.20" width="15.28" height="11.75" fill="#96b7ff"/>
<rect x="1403.96" y="2038.20" width="15.28" height="11.75" fill="#96b7ff"/>
<rect x="1418.99" y="2038.20" width="15.28" height="11.75" fill="#dadce0"/>
<rect x="1434.02" y="2038.20" width="15.28" height="11.75" fill="#ccd9ed"/>
<rect x="1449.05" y="2038.20" width="15.28" height="11.75" fill="#ccd9ed"/>
<rect x="1464.08" y="2038.20" width="15.28" height="11.75" fill="#e5d8d1"/>
<rect x="1479.11" y="2038.20" width="15.28" height="11.75" fill="#ccd9ed"/>
<rect x="1494.14" y="2038.20" width="15.28" height="11.75" fill="#ccd9ed"/>
<rect x="1509.17" y="2038.20" width="15.28" height="11.75" fill="#dadce0"/>
<rect x="1524.20" y="2038.20" width="15.28" height="11.75" fill="#ccd9ed"/>
<rect x="1539.23" y="2038.20" width="15.28" height="11.75" fill="#dadce0"/>
<rect x="1554.26" y="2038.20" width="15.28" height="11.75" fill="#b40426"/>
<rect x="1569.29" y="2038.20" width="15.28" height="11.75" fill="#f6bda2"/>
<rect x="1584.32" y="2038.20" width="15.28" height="11.75" fill="#f6a586"/>
<rect x="1599.35" y="2038.20" width="15.28" height="11.75" fill="#dadce0"/>
<rect x="1614.38" y="2038.20" width="15.28" height="11.75" fill="#ccd9ed"/>
<rect x="1629.41" y="2038.20" width="15.28" height="11.75" fill="#dadce0"/>
<rect x="1644.44" y="2038.20" width="15.28" height="11.75" fill="#dadce0"/>
<rect x="1659.47" y="2038.20" width="15.28" height="11.75" fill="#dadce0"/>
<rect x="1674.50" y="2038.20" width="15.28" height="11.75" fill="#e5d8d1"/>
<rect x="1689.53" y="2038.20" width="15.28" height="11.75" fill="#b2ccfb"/>
<rect x="1704.56" y="2038.20" width="15.28" height="11.75" fill="#b2ccfb"/>
<rect x="1719.59" y="2038.20" width="15.28" height="11.75" fill="#ccd9ed"/>
<rect x="1734.62" y="2038.20" width="15.28" height="11.75" fill="#b2ccfb"/>
<rect x="1749.65" y="2038.20" width="15.28" height="11.75" fill="#ccd9ed"/>
<rect x="1764.68" y="2038.20" width="15.28" height="11.75" fill="#96b7ff"/>
<rect x="1779.71" y="2038.20" width="15.28" height="11.75" fill="#ccd9ed"/>
<rect x="1794.74" y="2038.20" width="15.28" height="11.75" fill="#ccd9ed"/>
<rect x="1809.77" y="2038.20" width="15.28" height="11.75" fill="#ccd9ed"/>
<rect x="1223.60" y="2049.70" width="15.28" height="11.75" fill="#86a9fc"/>
<rect x="1238.63" y="2049.70" width="15.28" height="11.75" fill="#7396f5"/>
<rect x="1253.66" y="2049.70" width="15.28" height="11.75" fill="#86a9fc"/>
<rect x="1268.69" y="2049.70" width="15.28" height="11.75" fill="#96b7ff"/>
<rect x="1283.72" y="2049.70" width="15.28" height="11.75" fill="#b2ccfb"/>
<rect x="1298.75" y="2049.70" width="15.28" height="11.75" fill="#7396f5"/>
<rect x="1313.78" y="2049.70" width="15.28" height="11.75" fill="#86a9fc"/>
<rect x="1328.81" y="2049.70" width="15.28" height="11.75" fill="#96b7ff"/>
<rect x="1343.84" y="2049.70" width="15.28" height="11.75" fill="#86a9fc"/>
<rect x="1358.87" y="2049.70" width="15.28" height="11.75" fill="#b2ccfb"/>
<rect x="1373.90" y="2049.70" width="15.28" height="11.75" fill="#a3c2fe"/>
<rect x="1388.93" y="2049.70" width="15.28" height="11.75" fill="#b2ccfb"/>
<rect x="1403.96" y="2049.70" width="15.28" height="11.75" fill="#a3c2fe"/>
<rect x="1418.99" y="2049.70" width="15.28" height="11.75" fill="#c0d4f5"/>
<rect x="1434.02" y="2049.70" width="15.28" height="11.75" fill="#dadce0"/>
<rect x="1449.05" y="2049.70" width="15.28" height="11.75" fill="#ccd9ed"/>
<rect x="1464.08" y="2049.70" width="15.28" height="11.75" fill="#ccd9ed"/>
<rect x="1479.11" y="2049.70" width="15.28" height="11.75" fill="#dadce0"/>
<rect x="1494.14" y="2049.70" width="15.28" height="11.75" fill="#dadce0"/>
<rect x="1509.17" y="2049.70" width="15.28" height="11.75" fill="#c0d4f5"/>
<rect x="1524.20" y="2049.70" width="15.28" height="11.75" fill="#ccd9ed"/>
<rect x="1539.23" y="2049.70" width="15.28" height="11.75" fill="#ccd9ed"/>
<rect x="1554.26" y="2049.70" width="15.28" height="11.75" fill="#f6bda2"/>
<rect x="1569.29" y="2049.70" width="15.28" height="11.75" fill="#b40426"/>
<rect x="1584.32" y="2049.70" width="15.28" height="11.75" fill="#f6bda2"/>
<rect x="1599.35" y="2049.70" width="15.28" height="11.75" fill="#ccd9ed"/>
<rect x="1614.38" y="2049.70" width="15.28" height="11.75" fill="#ccd9ed"/>
<rect x="1629.41" y="2049.70" width="15.28" height="11.75" fill="#ccd9ed"/>
<rect x="1644.44" y="2049.70" width="15.28" height="11.75" fill="#ccd9ed"/>
<rect x="1659.47" y="2049.70" width="15.28" height="11.75" fill="#e5d8d1"/>
<rect x="1674.50" y="2049.70" width="15.28" height="11.75" fill="#dadce0"/>
<rect x="1689.53" y="2049.70" width="15.28" height="11.75" fill="#b2ccfb"/>
<rect x="1704.56" y="2049.70" width="15.28" height="11.75" fill="#c0d4f5"/>
<rect x="1719.59" y="2049.70" width="15.28" height="11.75" fill="#b2ccfb"/>
<rect x="1734.62" y="2049.70" width="15.28" height="11.75" fill="#b2ccfb"/>
<rect x="1749.65" y="2049.70" width="15.28" height="11.75" fill="#dadce0"/>
<rect x="1764.68" y="2049.70" width="15.28" height="11.75" fill="#b2ccfb"/>
<rect x="1779.71" y="2049.70" width="15.28" height="11.75" fill="#b2ccfb"/>
<rect x="1794.74" y="2049.70" width="15.28" height="11.75" fill="#dadce0"/>
<rect x="1809.77" y="2049.70" width="15.28" height="11.75" fill="#c0d4f5"/>
<rect x="1223.60" y="2061.20" width="15.28" height="11.75" fill="#86a9fc"/>
<rect x="1238.63" y="2061.20" width="15.28" height="11.75" fill="#7396f5"/>
<rect x="1253.66" y="2061.20" width="15.28" height="11.75" fill="#86a9fc"/>
<rect x="1268.69" y="2061.20" width="15.28" height="11.75" fill="#b2ccfb"/>
<rect x="1283.72" y="2061.20" width="15.28" height="11.75" fill="#96b7ff"/>
<rect x="1298.75" y="2061.20" width="15.28" height="11.75" fill="#7396f5"/>
<rect x="1313.78" y="2061.20" width="15.28" height="11.75" fill="#96b7ff"/>
<rect x="1328.81" y="2061.20" width="15.28" height="11.75" fill="#96b7ff"/>
<rect x="1343.84" y="2061.20" width="15.28" height="11.75" fill="#96b7ff"/>
<rect x="1358.87" y="2061.20" width="15.28" height="11.75" fill="#a3c2fe"/>
<rect x="1373.90" y="2061.20" width="15.28" height="11.75" fill="#a3c2fe"/>
<rect x="1388.93" y="2061.20" width="15.28" height="11.75" fill="#b2ccfb"/>
<rect x="1403.96" y="2061.20" width="15.28" height="11.75" fill="#a3c2fe"/>
<rect x="1418.99" y="2061.20" width="15.28" height="11.75" fill="#ccd9ed"/>
<rect x="1434.02" y="2061.20" width="15.28" height="11.75" fill="#dadce0"/>
<rect x="1449.05" y="2061.20" width="15.28" height="11.75" fill="#ccd9ed"/>
<rect x="1464.08" y="2061.20" width="15.28" height="11.75" fill="#e5d8d1"/>
<rect x="1479.11" y="2061.20" width="15.28" height="11.75" fill="#dadce0"/>
<rect x="1494.14" y="2061.20" width="15.28" height="11.75" fill="#dadce0"/>
<rect x="1509.17" y="2061.20" width="15.28" height="11.75" fill="#e5d8d1"/>
<rect x="1524.20" y="2061.20" width="15.28" height="11.75" fill="#ccd9ed"/>
<rect x="1539.23" y="2061.20" width="15.28" height="11.75" fill="#e5d8d1"/>
<rect x="1554.26" y="2061.20" width="15.28" height="11.75" fill="#f6a586"/>
<rect x="1569.29" y="2061.20" width="15.28" height="11.75" fill="#f6bda2"/>
<rect x="1584.32" y="2061.20" width="15.28" height="11.75" fill="#b40426"/>
<rect x="1599.35" y="2061.20" width="15.28" height="11.75" fill="#ccd9ed"/>
<rect x="1614.38" y="2061.20" width="15.28" height="11.75" fill="#b2ccfb"/>
<rect x="1629.41" y="2061.20" width="15.28" height="11.75" fill="#dadce0"/>
<rect x="1644.44" y="2061.20" width="15.28" height="11.75" fill="#dadce0"/>
<rect x="1659.47" y="2061.20" width="15.28" height="11.75" fill="#ccd9ed"/>
<rect x="1674.50" y="2061.20" width="15.28" height="11.75" fill="#efcfbf"/>
<rect x="1689.53" y="2061.20" width="15.28" height="11.75" fill="#b2ccfb"/>
<rect x="1704.56" y="2061.20" width="15.28" height="11.75" fill="#b2ccfb"/>
<rect x="1719.59" y="2061.20" width="15.28" height="11.75" fill="#ccd9ed"/>
<rect x="1734.62" y="2061.20" width="15.28" height="11.75" fill="#b2ccfb"/>
<rect x="1749.65" y="2061.20" width="15.28" height="11.75" fill="#dadce0"/>
<rect x="1764.68" y="2061.20" width="15.28" height="11.75" fill="#dadce0"/>
<rect x="1779.71" y="2061.20" width="15.28" height="11.75" fill="#ccd9ed"/>
<rect x="1794.74" y="2061.20" width="15.28" height="11.75" fill="#b2ccfb"/>
<rect x="1809.77" y="2061.20" width="15.28" height="11.75" fill="#e5d8d1"/>
<rect x="1223.60" y="2072.70" width="15.28" height="11.75" fill="#7396f5"/>
<rect x="1238.63" y="2072.70" width="15.28" height="11.75" fill="#86a9fc"/>
<rect x="1253.66" y="2072.70" width="15.28" height="11.75" fill="#7396f5"/>
<rect x="1268.69" y="2072.70" width="15.28" height="11.75" fill="#a3c2fe"/>
<rect x="1283.72" y="2072.70" width="15.28" height="11.75" fill="#96b7ff"/>
<rect x="1298.75" y="2072.70" width="15.28" height="11.75" fill="#7396f5"/>
<rect x="1313.78" y="2072.70" width="15.28" height="11.75" fill="#86a9fc"/>
<rect x="1328.81" y="2072.70" width="15.28" height="11.75" fill="#a3c2fe"/>
<rect x="1343.84" y="2072.70" width="15.28" height="11.75" fill="#86a9fc"/>
<rect x="1358.87" y="2072.70" width="15.28" height="11.75" fill="#c0d4f5"/>
<rect x="1373.90" y="2072.70" width="15.28" height="11.75" fill="#7396f5"/>
<rect x="1388.93" y="2072.70" width="15.28" height="11.75" fill="#86a9fc"/>
<rect x="1403.96" y="2072.70" width="15.28" height="11.75" fill="#86a9fc"/>
<rect x="1418.99" y="2072.70" width="15.28" height="11.75" fill="#e5d8d1"/>
<rect x="1434.02" y="2072.70" width="15.28" height="11.75" fill="#ccd9ed"/>
<rect x="1449.05" y="2072.70" width="15.28" height="11.75" fill="#ccd9ed"/>
<rect x="1464.08" y="2072.70" width="15.28" height="11.75" fill="#dadce0"/>
<rect x="1479.11" y="2072.70" width="15.28" height="11.75" fill="#c0d4f5"/>
<rect x="1494.14" y="2072.70" width="15.28" height="11.75" fill="#ccd9ed"/>
<rect x="1509.17" y="2072.70" width="15.28" height="11.75" fill="#ccd9ed"/>
<rect x="1524.20" y="2072.70" width="15.28" height="11.75" fill="#c0d4f5"/>
<rect x="1539.23" y="2072.70" width="15.28" height="11.75" fill="#c0d4f5"/>
<rect x="1554.26" y="2072.70" width="15.28" height="11.75" fill="#dadce0"/>
<rect x="1569.29" y="2072.70" width="15.28" height="11.75" fill="#ccd9ed"/>
<rect x="1584.32" y="2072.70" width="15.28" height="11.75" fill="#ccd9ed"/>
<rect x="1599.35" y="2072.70" width="15.28" height="11.75" fill="#b40426"/>
<rect x="1614.38" y="2072.70" width="15.28" height="11.75" fill="#f6bda2"/>
<rect x="1629.41" y="2072.70" width="15.28" height="11.75" fill="#f6a586"/>
<rect x="1644.44" y="2072.70" width="15.28" height="11.75" fill="#dadce0"/>
<rect x="1659.47" y="2072.70" width="15.28" height="11.75" fill="#ccd9ed"/>
<rect x="1674.50" y="2072.70" width="15.28" height="11.75" fill="#dadce0"/>
<rect x="1689.53" y="2072.70" width="15.28" height="11.75" fill="#ccd9ed"/>
<rect x="1704.56" y="2072.70" width="15.28" height="11.75" fill="#ccd9ed"/>
<rect x="1719.59" y="2072.70" width="15.28" height="11.75" fill="#ccd9ed"/>
<rect x="1734.62" y="2072.70" width="15.28" height="11.75" fill="#b2ccfb"/>
<rect x="1749.65" y="2072.70" width="15.28" height="11.75" fill="#b2ccfb"/>
<rect x="1764.68" y="2072.70" width="15.28" height="11.75" fill="#c0d4f5"/>
<rect x="1779.71" y="2072.70" width="15.28" height="11.75" fill="#dadce0"/>
<rect x="1794.74" y="2072.70" width="15.28" height="11.75" fill="#dadce0"/>
<rect x="1809.77" y="2072.70" width="15.28" height="11.75" fill="#e5d8d1"/>
<rect x="1223.60" y="2084.20" width="15.28" height="11.75" fill="#86a9fc"/>
<rect x="1238.63" y="2084.20" width="15.28" height="11.75" fill="#86a9fc"/>
<rect x="1253.66" y="2084.20" width="15.28" height="11.75" fill="#86a9fc"/>
<rect x="1268.69" y="2084.20" width="15.28" height="11.75" fill="#96b7ff"/>
<rect x="1283.72" y="2084.20" width="15.28" height="11.75" fill="#b2ccfb"/>
<rect x="1298.75" y="2084.20" width="15.28" height="11.75" fill="#7396f5"/>
<rect x="1313.78" y="2084.20" width="15.28" height="11.75" fill="#86a9fc"/>
<rect x="1328.81" y="2084.20" width="15.28" height="11.75" fill="#96b7ff"/>
<rect x="1343.84" y="2084.20" width="15.28" height="11.75" fill="#96b7ff"/>
<rect x="1358.87" y="2084.20" width="15.28" height="11.75" fill="#ccd9ed"/>
<rect x="1373.90" y="2084.20" width="15.28" height="11.75" fill="#86a9fc"/>
<rect x="1388.93" y="2084.20" width="15.28" height="11.75" fill="#7396f5"/>
<rect x="1403.96" y="2084.20" width="15.28" height="11.75" fill="#86a9fc"/>
<rect x="1418.99" y="2084.20" width="15.28" height="11.75" fill="#ccd9ed"/>
<rect x="1434.02" y="2084.20" width="15.28" height="11.75" fill="#dadce0"/>
<rect x="1449.05" y="2084.20" width="15.28" height="11.75" fill="#c0d4f5"/>
<rect x="1464.08" y="2084.20" width="15.28" height="11.75" fill="#c0d4f5"/>
<rect x="1479.11" y="2084.20" width="15.28" height="11.75" fill="#ccd9ed"/>
<rect x="1494.14" y="2084.20" width="15.28" height="11.75" fill="#c0d4f5"/>
<rect x="1509.17" y="2084.20" width="15.28" height="11.75" fill="#c0d4f5"/>
<rect x="1524.20" y="2084.20" width="15.28" height="11.75" fill="#c0d4f5"/>
<rect x="1539.23" y="2084.20" width="15.28" height="11.75" fill="#b2ccfb"/>
<rect x="1554.26" y="2084.20" width="15.28" height="11.75" fill="#ccd9ed"/>
<rect x="1569.29" y="2084.20" width="15.28" height="11.75" fill="#ccd9ed"/>
<rect x="1584.32" y="2084.20" width="15.28" height="11.75" fill="#c0d4f5"/>
<rect x="1599.35" y="2084.20" width="15.28" height="11.75" fill="#f6bda2"/>
<rect x="1614.38" y="2084.20" width="15.28" height="11.75" fill="#b40426"/>
<rect x="1629.41" y="2084.20" width="15.28" height="11.75" fill="#efcfbf"/>
<rect x="1644.44" y="2084.20" width="15.28" height="11.75" fill="#ccd9ed"/>
<rect x="1659.47" y="2084.20" width="15.28" height="11.75" fill="#dadce0"/>
<rect x="1674.50" y="2084.20" width="15.28" height="11.75" fill="#ccd9ed"/>
<rect x="1689.53" y="2084.20" width="15.28" height="11.75" fill="#dadce0"/>
<rect x="1704.56" y="2084.20" width="15.28" height="11.75" fill="#e5d8d1"/>
<rect x="1719.59" y="2084.20" width="15.28" height="11.75" fill="#dadce0"/>
<rect x="1734.62" y="2084.20" width="15.28" height="11.75" fill="#b2ccfb"/>
<rect x="1749.65" y="2084.20" width="15.28" height="11.75" fill="#c0d4f5"/>
<rect x="1764.68" y="2084.20" width="15.28" height="11.75" fill="#c0d4f5"/>
<rect x="1779.71" y="2084.20" width="15.28" height="11.75" fill="#b2ccfb"/>
<rect x="1794.74" y="2084.20" width="15.28" height="11.75" fill="#dadce0"/>
<rect x="1809.77" y="2084.20" width="15.28" height="11.75" fill="#b2ccfb"/>
<rect x="1223.60" y="2095.70" width="15.28" height="11.75" fill="#7396f5"/>
<rect x="1238.63" y="2095.70" width="15.28" height="11.75" fill="#7396f5"/>
<rect x="1253.66" y="2095.70" width="15.28" height="11.75" fill="#7396f5"/>
<rect x="1268.69" y="2095.70" width="15.28" height="11.75" fill="#a3c2fe"/>
<rect x="1283.72" y="2095.70" width="15.28" height="11.75" fill="#a3c2fe"/>
<rect x="1298.75" y="2095.70" width="15.28" height="11.75" fill="#7396f5"/>
<rect x="1313.78" y="2095.70" width="15.28" height="11.75" fill="#96b7ff"/>
<rect x="1328.81" y="2095.70" width="15.28" height="11.75" fill="#96b7ff"/>
<rect x="1343.84" y="2095.70" width="15.28" height="11.75" fill="#96b7ff"/>
<rect x="1358.87" y="2095.70" width="15.28" height="11.75" fill="#b2ccfb"/>
<rect x="1373.90" y="2095.70" width="15.28" height="11.75" fill="#86a9fc"/>
<rect x="1388.93" y="2095.70" width="15.28" height="11.75" fill="#96b7ff"/>
<rect x="1403.96" y="2095.70" width="15.28" height="11.75" fill="#86a9fc"/>
<rect x="1418.99" y="2095.70" width="15.28" height="11.75" fill="#ccd9ed"/>
<rect x="1434.02" y="2095.70" width="15.28" height="11.75" fill="#ccd9ed"/>
<rect x="1449.05" y="2095.70" width="15.28" height="11.75" fill="#dadce0"/>
<rect x="1464.08" y="2095.70" width="15.28" height="11.75" fill="#ccd9ed"/>
<rect x="1479.11" y="2095.70" width="15.28" height="11.75" fill="#c0d4f5"/>
<rect x="1494.14" y="2095.70" width="15.28" height="11.75" fill="#dadce0"/>
<rect x="1509.17" y="2095.70" width="15.28" height="11.75" fill="#dadce0"/>
<rect x="1524.20" y="2095.70" width="15.28" height="11.75" fill="#b2ccfb"/>
<rect x="1539.23" y="2095.70" width="15.28" height="11.75" fill="#ccd9ed"/>
<rect x="1554.26" y="2095.70" width="15.28" height="11.75" fill="#dadce0"/>
<rect x="1569.29" y="2095.70" width="15.28" height="11.75" fill="#ccd9ed"/>
<rect x="1584.32" y="2095.70" width="15.28" height="11.75" fill="#dadce0"/>
<rect x="1599.35" y="2095.70" width="15.28" height="11.75" fill="#f6a586"/>
<rect x="1614.38" y="2095.70" width="15.28" height="11.75" fill="#efcfbf"/>
<rect x="1629.41" y="2095.70" width="15.28" height="11.75" fill="#b40426"/>
<rect x="1644.44" y="2095.70" width="15.28" height="11.75" fill="#ccd9ed"/>
<rect x="1659.47" y="2095.70" width="15.28" height="11.75" fill="#ccd9ed"/>
<rect x="1674.50" y="2095.70" width="15.28" height="11.75" fill="#e5d8d1"/>
<rect x="1689.53" y="2095.70" width="15.28" height="11.75" fill="#ccd9ed"/>
<rect x="1704.56" y="2095.70" width="15.28" height="11.75" fill="#c0d4f5"/>
<rect x="1719.59" y="2095.70" width="15.28" height="11.75" fill="#dadce0"/>
<rect x="1734.62" y="2095.70" width="15.28" height="11.75" fill="#96b7ff"/>
<rect x="1749.65" y="2095.70" width="15.28" height="11.75" fill="#c0d4f5"/>
<rect x="1764.68" y="2095.70" width="15.28" height="11.75" fill="#ccd9ed"/>
<rect x="1779.71" y="2095.70" width="15.28" height="11.75" fill="#dadce0"/>
<rect x="1794.74" y="2095.70" width="15.28" height="11.75" fill="#ccd9ed"/>
<rect x="1809.77" y="2095.70" width="15.28" height="11.75" fill="#dadce0"/>
<rect x="1223.60" y="2107.20" width="15.28" height="11.75" fill="#86a9fc"/>
<rect x="1238.63" y="2107.20" width="15.28" height="11.75" fill="#96b7ff"/>
<rect x="1253.66" y="2107.20" width="15.28" height="11.75" fill="#96b7ff"/>
<rect x="1268.69" y="2107.20" width="15.28" height="11.75" fill="#b2ccfb"/>
<rect x="1283.72" y="2107.20" width="15.28" height="11.75" fill="#7396f5"/>
<rect x="1298.75" y="2107.20" width="15.28" height="11.75" fill="#5b7ae5"/>
<rect x="1313.78" y="2107.20" width="15.28" height="11.75" fill="#a3c2fe"/>
<rect x="1328.81" y="2107.20" width="15.28" height="11.75" fill="#a3c2fe"/>
<rect x="1343.84" y="2107.20" width="15.28" height="11.75" fill="#96b7ff"/>
<rect x="1358.87" y="2107.20" width="15.28" height="11.75" fill="#ccd9ed"/>
<rect x="1373.90" y="2107.20" width="15.28" height="11.75" fill="#86a9fc"/>
<rect x="1388.93" y="2107.20" width="15.28" height="11.75" fill="#96b7ff"/>
<rect x="1403.96" y="2107.20" width="15.28" height="11.75" fill="#96b7ff"/>
<rect x="1418.99" y="2107.20" width="15.28" height="11.75" fill="#e5d8d1"/>
<rect x="1434.02" y="2107.20" width="15.28" height="11.75" fill="#dadce0"/>
<rect x="1449.05" y="2107.20" width="15.28" height="11.75" fill="#ccd9ed"/>
<rect x="1464.08" y="2107.20" width="15.28" height="11.75" fill="#dadce0"/>
<rect x="1479.11" y="2107.20" width="15.28" height="11.75" fill="#ccd9ed"/>
<rect x="1494.14" y="2107.20" width="15.28" height="11.75" fill="#ccd9ed"/>
<rect x="1509.17" y="2107.20" width="15.28" height="11.75" fill="#ccd9ed"/>
<rect x="1524.20" y="2107.20" width="15.28" height="11.75" fill="#c0d4f5"/>
<rect x="1539.23" y="2107.20" width="15.28" height="11.75" fill="#c0d4f5"/>
<rect x="1554.26" y="2107.20" width="15.28" height="11.75" fill="#dadce0"/>
<rect x="1569.29" y="2107.20" width="15.28" height="11.75" fill="#dadce0"/>
<rect x="1584.32" y="2107.20" width="15.28" height="11.75" fill="#dadce0"/>
<rect x="1599.35" y="2107.20" width="15.28" height="11.75" fill="#dadce0"/>
<rect x="1614.38" y="2107.20" width="15.28" height="11.75" fill="#ccd9ed"/>
<rect x="1629.41" y="2107.20" width="15.28" height="11.75" fill="#ccd9ed"/>
<rect x="1644.44" y="2107.20" width="15.28" height="11.75" fill="#b40426"/>
<rect x="1659.47" y="2107.20" width="15.28" height="11.75" fill="#f6bda2"/>
<rect x="1674.50" y="2107.20" width="15.28" height="11.75" fill="#f6a586"/>
<rect x="1689.53" y="2107.20" width="15.28" height="11.75" fill="#ccd9ed"/>
<rect x="1704.56" y="2107.20" width="15.28" height="11.75" fill="#ccd9ed"/>
<rect x="1719.59" y="2107.20" width="15.28" height="11.75" fill="#ccd9ed"/>
<rect x="1734.62" y="2107.20" width="15.28" height="11.75" fill="#c0d4f5"/>
<rect x="1749.65" y="2107.20" width="15.28" height="11.75" fill="#c0d4f5"/>
<rect x="1764.68" y="2107.20" width="15.28" height="11.75" fill="#ccd9ed"/>
<rect x="1779.71" y="2107.20" width="15.28" height="11.75" fill="#c0d4f5"/>
<rect x="1794.74" y="2107.20" width="15.28" height="11.75" fill="#ccd9ed"/>
<rect x="1809.77" y="2107.20" width="15.28" height="11.75" fill="#ccd9ed"/>
<rect x="1223.60" y="2118.70" width="15.28" height="11.75" fill="#86a9fc"/>
<rect x="1238.63" y="2118.70" width="15.28" height="11.75" fill="#96b7ff"/>
<rect x="1253.66" y="2118.70" width="15.28" height="11.75" fill="#96b7ff"/>
<rect x="1268.69" y="2118.70" width="15.28" height="11.75" fill="#a3c2fe"/>
<rect x="1283.72" y="2118.70" width="15.28" height="11.75" fill="#a3c2fe"/>
<rect x="1298.75" y="2118.70" width="15.28" height="11.75" fill="#7396f5"/>
<rect x="1313.78" y="2118.70" width="15.28" height="11.75" fill="#86a9fc"/>
<rect x="1328.81" y="2118.70" width="15.28" height="11.75" fill="#96b7ff"/>
<rect x="1343.84" y="2118.70" width="15.28" height="11.75" fill="#86a9fc"/>
<rect x="1358.87" y="2118.70" width="15.28" height="11.75" fill="#ccd9ed"/>
<rect x="1373.90" y="2118.70" width="15.28" height="11.75" fill="#96b7ff"/>
<rect x="1388.93" y="2118.70" width="15.28" height="11.75" fill="#96b7ff"/>
<rect x="1403.96" y="2118.70" width="15.28" height="11.75" fill="#96b7ff"/>
<rect x="1418.99" y="2118.70" width="15.28" height="11.75" fill="#ccd9ed"/>
<rect x="1434.02" y="2118.70" width="15.28" height="11.75" fill="#dadce0"/>
<rect x="1449.05" y="2118.70" width="15.28" height="11.75" fill="#ccd9ed"/>
<rect x="1464.08" y="2118.70" width="15.28" height="11.75" fill="#ccd9ed"/>
<rect x="1479.11" y="2118.70" width="15.28" height="11.75" fill="#dadce0"/>
<rect x="1494.14" y="2118.70" width="15.28" height="11.75" fill="#ccd9ed"/>
<rect x="1509.17" y="2118.70" width="15.28" height="11.75" fill="#c0d4f5"/>
<rect x="1524.20" y="2118.70" width="15.28" height="11.75" fill="#ccd9ed"/>
<rect x="1539.23" y="2118.70" width="15.28" height="11.75" fill="#c0d4f5"/>
<rect x="1554.26" y="2118.70" width="15.28" height="11.75" fill="#dadce0"/>
<rect x="1569.29" y="2118.70" width="15.28" height="11.75" fill="#e5d8d1"/>
<rect x="1584.32" y="2118.70" width="15.28" height="11.75" fill="#ccd9ed"/>
<rect x="1599.35" y="2118.70" width="15.28" height="11.75" fill="#ccd9ed"/>
<rect x="1614.38" y="2118.70" width="15.28" height="11.75" fill="#dadce0"/>
<rect x="1629.41" y="2118.70" width="15.28" height="11.75" fill="#ccd9ed"/>
<rect x="1644.44" y="2118.70" width="15.28" height="11.75" fill="#f6bda2"/>
<rect x="1659.47" y="2118.70" width="15.28" height="11.75" fill="#b40426"/>
<rect x="1674.50" y="2118.70" width="15.28" height="11.75" fill="#f6bda2"/>
<rect x="1689.53" y="2118.70" width="15.28" height="11.75" fill="#ccd9ed"/>
<rect x="1704.56" y="2118.70" width="15.28" height="11.75" fill="#dadce0"/>
<rect x="1719.59" y="2118.70" width="15.28" height="11.75" fill="#c0d4f5"/>
<rect x="1734.62" y="2118.70" width="15.28" height="11.75" fill="#b2ccfb"/>
<rect x="1749.65" y="2118.70" width="15.28" height="11.75" fill="#dadce0"/>
<rect x="1764.68" y="2118.70" width="15.28" height="11.75" fill="#c0d4f5"/>
<rect x="1779.71" y="2118.70" width="15.28" height="11.75" fill="#c0d4f5"/>
<rect x="1794.74" y="2118.70" width="15.28" height="11.75" fill="#dadce0"/>
<rect x="1809.77" y="2118.70" width="15.28" height="11.75" fill="#ccd9ed"/>
<rect x="1223.60" y="2130.20" width="15.28" height="11.75" fill="#7396f5"/>
<rect x="1238.63" y="2130.20" width="15.28" height="11.75" fill="#7396f5"/>
<rect x="1253.66" y="2130.20" width="15.28" height="11.75" fill="#7396f5"/>
<rect x="1268.69" y="2130.20" width="15.28" height="11.75" fill="#b2ccfb"/>
<rect x="1283.72" y="2130.20" width="15.28" height="11.75" fill="#96b7ff"/>
<rect x="1298.75" y="2130.20" width="15.28" height="11.75" fill="#5b7ae5"/>
<rect x="1313.78" y="2130.20" width="15.28" height="11.75" fill="#86a9fc"/>
<rect x="1328.81" y="2130.20" width="15.28" height="11.75" fill="#96b7ff"/>
<rect x="1343.84" y="2130.20" width="15.28" height="11.75" fill="#86a9fc"/>
<rect x="1358.87" y="2130.20" width="15.28" height="11.75" fill="#c0d4f5"/>
<rect x="1373.90" y="2130.20" width="15.28" height="11.75" fill="#96b7ff"/>
<rect x="1388.93" y="2130.20" width="15.28" height="11.75" fill="#a3c2fe"/>
<rect x="1403.96" y="2130.20" width="15.28" height="11.75" fill="#a3c2fe"/>
<rect x="1418.99" y="2130.20" width="15.28" height="11.75" fill="#ccd9ed"/>
<rect x="1434.02" y="2130.20" width="15.28" height="11.75" fill="#ccd9ed"/>
<rect x="1449.05" y="2130.20" width="15.28" height="11.75" fill="#e5d8d1"/>
<rect x="1464.08" y="2130.20" width="15.28" height="11.75" fill="#ccd9ed"/>
<rect x="1479.11" y="2130.20" width="15.28" height="11.75" fill="#ccd9ed"/>
<rect x="1494.14" y="2130.20" width="15.28" height="11.75" fill="#ccd9ed"/>
<rect x="1509.17" y="2130.20" width="15.28" height="11.75" fill="#ccd9ed"/>
<rect x="1524.20" y="2130.20" width="15.28" height="11.75" fill="#ccd9ed"/>
<rect x="1539.23" y="2130.20" width="15.28" height="11.75" fill="#ccd9ed"/>
<rect x="1554.26" y="2130.20" width="15.28" height="11.75" fill="#e5d8d1"/>
<rect x="1569.29" y="2130.20" width="15.28" height="11.75" fill="#dadce0"/>
<rect x="1584.32" y="2130.20" width="15.28" height="11.75" fill="#efcfbf"/>
<rect x="1599.35" y="2130.20" width="15.28" height="11.75" fill="#dadce0"/>
<rect x="1614.38" y="2130.20" width="15.28" height="11.75" fill="#ccd9ed"/>
<rect x="1629.41" y="2130.20" width="15.28" height="11.75" fill="#e5d8d1"/>
<rect x="1644.44" y="2130.20" width="15.28" height="11.75" fill="#f6a586"/>
<rect x="1659.47" y="2130.20" width="15.28" height="11.75" fill="#f6bda2"/>
<rect x="1674.50" y="2130.20" width="15.28" height="11.75" fill="#b40426"/>
<rect x="1689.53" y="2130.20" width="15.28" height="11.75" fill="#ccd9ed"/>
<rect x="1704.56" y="2130.20" width="15.28" height="11.75" fill="#ccd9ed"/>
<rect x="1719.59" y="2130.20" width="15.28" height="11.75" fill="#ccd9ed"/>
<rect x="1734.62" y="2130.20" width="15.28" height="11.75" fill="#a3c2fe"/>
<rect x="1749.65" y="2130.20" width="15.28" height="11.75" fill="#ccd9ed"/>
<rect x="1764.68" y="2130.20" width="15.28" height="11.75" fill="#ccd9ed"/>
<rect x="1779.71" y="2130.20" width="15.28" height="11.75" fill="#c0d4f5"/>
<rect x="1794.74" y="2130.20" width="15.28" height="11.75" fill="#c0d4f5"/>
<rect x="1809.77" y="2130.20" width="15.28" height="11.75" fill="#ccd9ed"/>
<rect x="1223.60" y="2141.70" width="15.28" height="11.75" fill="#96b7ff"/>
<rect x="1238.63" y="2141.70" width="15.28" height="11.75" fill="#a3c2fe"/>
<rect x="1253.66" y="2141.70" width="15.28" height="11.75" fill="#96b7ff"/>
<rect x="1268.69" y="2141.70" width="15.28" height="11.75" fill="#86a9fc"/>
<rect x="1283.72" y="2141.70" width="15.28" height="11.75" fill="#c0d4f5"/>
<rect x="1298.75" y="2141.70" width="15.28" height="11.75" fill="#96b7ff"/>
<rect x="1313.78" y="2141.70" width="15.28" height="11.75" fill="#a3c2fe"/>
<rect x="1328.81" y="2141.70" width="15.28" height="11.75" fill="#96b7ff"/>
<rect x="1343.84" y="2141.70" width="15.28" height="11.75" fill="#a3c2fe"/>
<rect x="1358.87" y="2141.70" width="15.28" height="11.75" fill="#a3c2fe"/>
<rect x="1373.90" y="2141.70" width="15.28" height="11.75" fill="#7396f5"/>
<rect x="1388.93" y="2141.70" width="15.28" height="11.75" fill="#7396f5"/>
<rect x="1403.96" y="2141.70" width="15.28" height="11.75" fill="#86a9fc"/>
<rect x="1418.99" y="2141.70" width="15.28" height="11.75" fill="#ccd9ed"/>
<rect x="1434.02" y="2141.70" width="15.28" height="11.75" fill="#a3c2fe"/>
<rect x="1449.05" y="2141.70" width="15.28" height="11.75" fill="#b2ccfb"/>
<rect x="1464.08" y="2141.70" width="15.28" height="11.75" fill="#b2ccfb"/>
<rect x="1479.11" y="2141.70" width="15.28" height="11.75" fill="#c0d4f5"/>
<rect x="1494.14" y="2141.70" width="15.28" height="11.75" fill="#b2ccfb"/>
<rect x="1509.17" y="2141.70" width="15.28" height="11.75" fill="#ccd9ed"/>
<rect x="1524.20" y="2141.70" width="15.28" height="11.75" fill="#b2ccfb"/>
<rect x="1539.23" y="2141.70" width="15.28" height="11.75" fill="#dadce0"/>
<rect x="1554.26" y="2141.70" width="15.28" height="11.75" fill="#b2ccfb"/>
<rect x="1569.29" y="2141.70" width="15.28" height="11.75" fill="#b2ccfb"/>
<rect x="1584.32" y="2141.70" width="15.28" height="11.75" fill="#b2ccfb"/>
<rect x="1599.35" y="2141.70" width="15.28" height="11.75" fill="#ccd9ed"/>
<rect x="1614.38" y="2141.70" width="15.28" height="11.75" fill="#dadce0"/>
<rect x="1629.41" y="2141.70" width="15.28" height="11.75" fill="#ccd9ed"/>
<rect x="1644.44" y="2141.70" width="15.28" height="11.75" fill="#ccd9ed"/>
<rect x="1659.47" y="2141.70" width="15.28" height="11.75" fill="#ccd9ed"/>
<rect x="1674.50" y="2141.70" width="15.28" height="11.75" fill="#ccd9ed"/>
<rect x="1689.53" y="2141.70" width="15.28" height="11.75" fill="#b40426"/>
<rect x="1704.56" y="2141.70" width="15.28" height="11.75" fill="#f6a586"/>
<rect x="1719.59" y="2141.70" width="15.28" height="11.75" fill="#f6a586"/>
<rect x="1734.62" y="2141.70" width="15.28" height="11.75" fill="#b2ccfb"/>
<rect x="1749.65" y="2141.70" width="15.28" height="11.75" fill="#b2ccfb"/>
<rect x="1764.68" y="2141.70" width="15.28" height="11.75" fill="#c0d4f5"/>
<rect x="1779.71" y="2141.70" width="15.28" height="11.75" fill="#c0d4f5"/>
<rect x="1794.74" y="2141.70" width="15.28" height="11.75" fill="#c0d4f5"/>
<rect x="1809.77" y="2141.70" width="15.28" height="11.75" fill="#ccd9ed"/>
<rect x="1223.60" y="2153.20" width="15.28" height="11.75" fill="#96b7ff"/>
<rect x="1238.63" y="2153.20" width="15.28" height="11.75" fill="#a3c2fe"/>
<rect x="1253.66" y="2153.20" width="15.28" height="11.75" fill="#96b7ff"/>
<rect x="1268.69" y="2153.20" width="15.28" height="11.75" fill="#86a9fc"/>
<rect x="1283.72" y="2153.20" width="15.28" height="11.75" fill="#c0d4f5"/>
<rect x="1298.75" y="2153.20" width="15.28" height="11.75" fill="#a3c2fe"/>
<rect x="1313.78" y="2153.20" width="15.28" height="11.75" fill="#96b7ff"/>
<rect x="1328.81" y="2153.20" width="15.28" height="11.75" fill="#96b7ff"/>
<rect x="1343.84" y="2153.20" width="15.28" height="11.75" fill="#96b7ff"/>
<rect x="1358.87" y="2153.20" width="15.28" height="11.75" fill="#b2ccfb"/>
<rect x="1373.90" y="2153.20" width="15.28" height="11.75" fill="#86a9fc"/>
<rect x="1388.93" y="2153.20" width="15.28" height="11.75" fill="#86a9fc"/>
<rect x="1403.96" y="2153.20" width="15.28" height="11.75" fill="#86a9fc"/>
<rect x="1418.99" y="2153.20" width="15.28" height="11.75" fill="#c0d4f5"/>
<rect x="1434.02" y="2153.20" width="15.28" height="11.75" fill="#c0d4f5"/>
<rect x="1449.05" y="2153.20" width="15.28" height="11.75" fill="#a3c2fe"/>
<rect x="1464.08" y="2153.20" width="15.28" height="11.75" fill="#a3c2fe"/>
<rect x="1479.11" y="2153.20" width="15.28" height="11.75" fill="#c0d4f5"/>
<rect x="1494.14" y="2153.20" width="15.28" height="11.75" fill="#a3c2fe"/>
<rect x="1509.17" y="2153.20" width="15.28" height="11.75" fill="#ccd9ed"/>
<rect x="1524.20" y="2153.20" width="15.28" height="11.75" fill="#dadce0"/>
<rect x="1539.23" y="2153.20" width="15.28" height="11.75" fill="#ccd9ed"/>
<rect x="1554.26" y="2153.20" width="15.28" height="11.75" fill="#b2ccfb"/>
<rect x="1569.29" y="2153.20" width="15.28" height="11.75" fill="#c0d4f5"/>
<rect x="1584.32" y="2153.20" width="15.28" height="11.75" fill="#b2ccfb"/>
<rect x="1599.35" y="2153.20" width="15.28" height="11.75" fill="#ccd9ed"/>
<rect x="1614.38" y="2153.20" width="15.28" height="11.75" fill="#e5d8d1"/>
<rect x="1629.41" y="2153.20" width="15.28" height="11.75" fill="#c0d4f5"/>
<rect x="1644.44" y="2153.20" width="15.28" height="11.75" fill="#ccd9ed"/>
<rect x="1659.47" y="2153.20" width="15.28" height="11.75" fill="#dadce0"/>
<rect x="1674.50" y="2153.20" width="15.28" height="11.75" fill="#ccd9ed"/>
<rect x="1689.53" y="2153.20" width="15.28" height="11.75" fill="#f6a586"/>
<rect x="1704.56" y="2153.20" width="15.28" height="11.75" fill="#b40426"/>
<rect x="1719.59" y="2153.20" width="15.28" height="11.75" fill="#f6bda2"/>
<rect x="1734.62" y="2153.20" width="15.28" height="11.75" fill="#b2ccfb"/>
<rect x="1749.65" y="2153.20" width="15.28" height="11.75" fill="#b2ccfb"/>
<rect x="1764.68" y="2153.20" width="15.28" height="11.75" fill="#b2ccfb"/>
<rect x="1779.71" y="2153.20" width="15.28" height="11.75" fill="#a3c2fe"/>
<rect x="1794.74" y="2153.20" width="15.28" height="11.75" fill="#b2ccfb"/>
<rect x="1809.77" y="2153.20" width="15.28" height="11.75" fill="#a3c2fe"/>
<rect x="1223.60" y="2164.70" width="15.28" height="11.75" fill="#7396f5"/>
<rect x="1238.63" y="2164.70" width="15.28" height="11.75" fill="#86a9fc"/>
<rect x="1253.66" y="2164.70" width="15.28" height="11.75" fill="#86a9fc"/>
<rect x="1268.69" y="2164.70" width="15.28" height="11.75" fill="#86a9fc"/>
<rect x="1283.72" y="2164.70" width="15.28" height="11.75" fill="#c0d4f5"/>
<rect x="1298.75" y="2164.70" width="15.28" height="11.75" fill="#96b7ff"/>
<rect x="1313.78" y="2164.70" width="15.28" height="11.75" fill="#96b7ff"/>
<rect x="1328.81" y="2164.70" width="15.28" height="11.75" fill="#96b7ff"/>
<rect x="1343.84" y="2164.70" width="15.28" height="11.75" fill="#96b7ff"/>
<rect x="1358.87" y="2164.70" width="15.28" height="11.75" fill="#c0d4f5"/>
<rect x="1373.90" y="2164.70" width="15.28" height="11.75" fill="#86a9fc"/>
<rect x="1388.93" y="2164.70" width="15.28" height="11.75" fill="#86a9fc"/>
<rect x="1403.96" y="2164.70" width="15.28" height="11.75" fill="#86a9fc"/>
<rect x="1418.99" y="2164.70" width="15.28" height="11.75" fill="#ccd9ed"/>
<rect x="1434.02" y="2164.70" width="15.28" height="11.75" fill="#ccd9ed"/>
<rect x="1449.05" y="2164.70" width="15.28" height="11.75" fill="#c0d4f5"/>
<rect x="1464.08" y="2164.70" width="15.28" height="11.75" fill="#c0d4f5"/>
<rect x="1479.11" y="2164.70" width="15.28" height="11.75" fill="#a3c2fe"/>
<rect x="1494.14" y="2164.70" width="15.28" height="11.75" fill="#ccd9ed"/>
<rect x="1509.17" y="2164.70" width="15.28" height="11.75" fill="#dadce0"/>
<rect x="1524.20" y="2164.70" width="15.28" height="11.75" fill="#ccd9ed"/>
<rect x="1539.23" y="2164.70" width="15.28" height="11.75" fill="#efcfbf"/>
<rect x="1554.26" y="2164.70" width="15.28" height="11.75" fill="#ccd9ed"/>
<rect x="1569.29" y="2164.70" width="15.28" height="11.75" fill="#b2ccfb"/>
<rect x="1584.32" y="2164.70" width="15.28" height="11.75" fill="#ccd9ed"/>
<rect x="1599.35" y="2164.70" width="15.28" height="11.75" fill="#ccd9ed"/>
<rect x="1614.38" y="2164.70" width="15.28" height="11.75" fill="#dadce0"/>
<rect x="1629.41" y="2164.70" width="15.28" height="11.75" fill="#dadce0"/>
<rect x="1644.44" y="2164.70" width="15.28" height="11.75" fill="#ccd9ed"/>
<rect x="1659.47" y="2164.70" width="15.28" height="11.75" fill="#c0d4f5"/>
<rect x="1674.50" y="2164.70" width="15.28" height="11.75" fill="#ccd9ed"/>
<rect x="1689.53" y="2164.70" width="15.28" height="11.75" fill="#f6a586"/>
<rect x="1704.56" y="2164.70" width="15.28" height="11.75" fill="#f6bda2"/>
<rect x="1719.59" y="2164.70" width="15.28" height="11.75" fill="#b40426"/>
<rect x="1734.62" y="2164.70" width="15.28" height="11.75" fill="#a3c2fe"/>
<rect x="1749.65" y="2164.70" width="15.28" height="11.75" fill="#b2ccfb"/>
<rect x="1764.68" y="2164.70" width="15.28" height="11.75" fill="#b2ccfb"/>
<rect x="1779.71" y="2164.70" width="15.28" height="11.75" fill="#b2ccfb"/>
<rect x="1794.74" y="2164.70" width="15.28" height="11.75" fill="#a3c2fe"/>
<rect x="1809.77" y="2164.70" width="15.28" height="11.75" fill="#dadce0"/>
<rect x="1223.60" y="2176.20" width="15.28" height="11.75" fill="#c0d4f5"/>
<rect x="1238.63" y="2176.20" width="15.28" height="11.75" fill="#c0d4f5"/>
<rect x="1253.66" y="2176.20" width="15.28" height="11.75" fill="#c0d4f5"/>
<rect x="1268.69" y="2176.20" width="15.28" height="11.75" fill="#a3c2fe"/>
<rect x="1283.72" y="2176.20" width="15.28" height="11.75" fill="#96b7ff"/>
<rect x="1298.75" y="2176.20" width="15.28" height="11.75" fill="#96b7ff"/>
<rect x="1313.78" y="2176.20" width="15.28" height="11.75" fill="#c0d4f5"/>
<rect x="1328.81" y="2176.20" width="15.28" height="11.75" fill="#b2ccfb"/>
<rect x="1343.84" y="2176.20" width="15.28" height="11.75" fill="#c0d4f5"/>
<rect x="1358.87" y="2176.20" width="15.28" height="11.75" fill="#c0d4f5"/>
<rect x="1373.90" y="2176.20" width="15.28" height="11.75" fill="#86a9fc"/>
<rect x="1388.93" y="2176.20" width="15.28" height="11.75" fill="#7396f5"/>
<rect x="1403.96" y="2176.20" width="15.28" height="11.75" fill="#86a9fc"/>
<rect x="1418.99" y="2176.20" width="15.28" height="11.75" fill="#a3c2fe"/>
<rect x="1434.02" y="2176.20" width="15.28" height="11.75" fill="#96b7ff"/>
<rect x="1449.05" y="2176.20" width="15.28" height="11.75" fill="#96b7ff"/>
<rect x="1464.08" y="2176.20" width="15.28" height="11.75" fill="#96b7ff"/>
<rect x="1479.11" y="2176.20" width="15.28" height="11.75" fill="#a3c2fe"/>
<rect x="1494.14" y="2176.20" width="15.28" height="11.75" fill="#c0d4f5"/>
<rect x="1509.17" y="2176.20" width="15.28" height="11.75" fill="#96b7ff"/>
<rect x="1524.20" y="2176.20" width="15.28" height="11.75" fill="#96b7ff"/>
<rect x="1539.23" y="2176.20" width="15.28" height="11.75" fill="#96b7ff"/>
<rect x="1554.26" y="2176.20" width="15.28" height="11.75" fill="#b2ccfb"/>
<rect x="1569.29" y="2176.20" width="15.28" height="11.75" fill="#b2ccfb"/>
<rect x="1584.32" y="2176.20" width="15.28" height="11.75" fill="#b2ccfb"/>
<rect x="1599.35" y="2176.20" width="15.28" height="11.75" fill="#b2ccfb"/>
<rect x="1614.38" y="2176.20" width="15.28" height="11.75" fill="#b2ccfb"/>
<rect x="1629.41" y="2176.20" width="15.28" height="11.75" fill="#96b7ff"/>
<rect x="1644.44" y="2176.20" width="15.28" height="11.75" fill="#c0d4f5"/>
<rect x="1659.47" y="2176.20" width="15.28" height="11.75" fill="#b2ccfb"/>
<rect x="1674.50" y="2176.20" width="15.28" height="11.75" fill="#a3c2fe"/>
<rect x="1689.53" y="2176.20" width="15.28" height="11.75" fill="#b2ccfb"/>
<rect x="1704.56" y="2176.20" width="15.28" height="11.75" fill="#b2ccfb"/>
<rect x="1719.59" y="2176.20" width="15.28" height="11.75" fill="#a3c2fe"/>
<rect x="1734.62" y="2176.20" width="15.28" height="11.75" fill="#b40426"/>
<rect x="1749.65" y="2176.20" width="15.28" height="11.75" fill="#efcfbf"/>
<rect x="1764.68" y="2176.20" width="15.28" height="11.75" fill="#f6a586"/>
<rect x="1779.71" y="2176.20" width="15.28" height="11.75" fill="#ccd9ed"/>
<rect x="1794.74" y="2176.20" width="15.28" height="11.75" fill="#b2ccfb"/>
<rect x="1809.77" y="2176.20" width="15.28" height="11.75" fill="#c0d4f5"/>
<rect x="1223.60" y="2187.70" width="15.28" height="11.75" fill="#a3c2fe"/>
<rect x="1238.63" y="2187.70" width="15.28" height="11.75" fill="#96b7ff"/>
<rect x="1253.66" y="2187.70" width="15.28" height="11.75" fill="#a3c2fe"/>
<rect x="1268.69" y="2187.70" width="15.28" height="11.75" fill="#b2ccfb"/>
<rect x="1283.72" y="2187.70" width="15.28" height="11.75" fill="#86a9fc"/>
<rect x="1298.75" y="2187.70" width="15.28" height="11.75" fill="#7396f5"/>
<rect x="1313.78" y="2187.70" width="15.28" height="11.75" fill="#a3c2fe"/>
<rect x="1328.81" y="2187.70" width="15.28" height="11.75" fill="#96b7ff"/>
<rect x="1343.84" y="2187.70" width="15.28" height="11.75" fill="#a3c2fe"/>
<rect x="1358.87" y="2187.70" width="15.28" height="11.75" fill="#b2ccfb"/>
<rect x="1373.90" y="2187.70" width="15.28" height="11.75" fill="#86a9fc"/>
<rect x="1388.93" y="2187.70" width="15.28" height="11.75" fill="#86a9fc"/>
<rect x="1403.96" y="2187.70" width="15.28" height="11.75" fill="#96b7ff"/>
<rect x="1418.99" y="2187.70" width="15.28" height="11.75" fill="#a3c2fe"/>
<rect x="1434.02" y="2187.70" width="15.28" height="11.75" fill="#c0d4f5"/>
<rect x="1449.05" y="2187.70" width="15.28" height="11.75" fill="#c0d4f5"/>
<rect x="1464.08" y="2187.70" width="15.28" height="11.75" fill="#a3c2fe"/>
<rect x="1479.11" y="2187.70" width="15.28" height="11.75" fill="#ccd9ed"/>
<rect x="1494.14" y="2187.70" width="15.28" height="11.75" fill="#ccd9ed"/>
<rect x="1509.17" y="2187.70" width="15.28" height="11.75" fill="#c0d4f5"/>
<rect x="1524.20" y="2187.70" width="15.28" height="11.75" fill="#ccd9ed"/>
<rect x="1539.23" y="2187.70" width="15.28" height="11.75" fill="#c0d4f5"/>
<rect x="1554.26" y="2187.70" width="15.28" height="11.75" fill="#ccd9ed"/>
<rect x="1569.29" y="2187.70" width="15.28" height="11.75" fill="#dadce0"/>
<rect x="1584.32" y="2187.70" width="15.28" height="11.75" fill="#dadce0"/>
<rect x="1599.35" y="2187.70" width="15.28" height="11.75" fill="#b2ccfb"/>
<rect x="1614.38" y="2187.70" width="15.28" height="11.75" fill="#c0d4f5"/>
<rect x="1629.41" y="2187.70" width="15.28" height="11.75" fill="#c0d4f5"/>
<rect x="1644.44" y="2187.70" width="15.28" height="11.75" fill="#c0d4f5"/>
<rect x="1659.47" y="2187.70" width="15.28" height="11.75" fill="#dadce0"/>
<rect x="1674.50" y="2187.70" width="15.28" height="11.75" fill="#ccd9ed"/>
<rect x="1689.53" y="2187.70" width="15.28" height="11.75" fill="#b2ccfb"/>
<rect x="1704.56" y="2187.70" width="15.28" height="11.75" fill="#b2ccfb"/>
<rect x="1719.59" y="2187.70" width="15.28" height="11.75" fill="#b2ccfb"/>
<rect x="1734.62" y="2187.70" width="15.28" height="11.75" fill="#efcfbf"/>
<rect x="1749.65" y="2187.70" width="15.28" height="11.75" fill="#b40426"/>
<rect x="1764.68" y="2187.70" width="15.28" height="11.75" fill="#f6bda2"/>
<rect x="1779.71" y="2187.70" width="15.28" height="11.75" fill="#c0d4f5"/>
<rect x="1794.74" y="2187.70" width="15.28" height="11.75" fill="#ccd9ed"/>
<rect x="1809.77" y="2187.70" width="15.28" height="11.75" fill="#ccd9ed"/>
<rect x="1223.60" y="2199.20" width="15.28" height="11.75" fill="#c0d4f5"/>
<rect x="1238.63" y="2199.20" width="15.28" height="11.75" fill="#c0d4f5"/>
<rect x="1253.66" y="2199.20" width="15.28" height="11.75" fill="#c0d4f5"/>
<rect x="1268.69" y="2199.20" width="15.28" height="11.75" fill="#b2ccfb"/>
<rect x="1283.72" y="2199.20" width="15.28" height="11.75" fill="#86a9fc"/>
<rect x="1298.75" y="2199.20" width="15.28" height="11.75" fill="#86a9fc"/>
<rect x="1313.78" y="2199.20" width="15.28" height="11.75" fill="#b2ccfb"/>
<rect x="1328.81" y="2199.20" width="15.28" height="11.75" fill="#96b7ff"/>
<rect x="1343.84" y="2199.20" width="15.28" height="11.75" fill="#c0d4f5"/>
<rect x="1358.87" y="2199.20" width="15.28" height="11.75" fill="#b2ccfb"/>
<rect x="1373.90" y="2199.20" width="15.28" height="11.75" fill="#86a9fc"/>
<rect x="1388.93" y="2199.20" width="15.28" height="11.75" fill="#86a9fc"/>
<rect x="1403.96" y="2199.20" width="15.28" height="11.75" fill="#86a9fc"/>
<rect x="1418.99" y="2199.20" width="15.28" height="11.75" fill="#c0d4f5"/>
<rect x="1434.02" y="2199.20" width="15.28" height="11.75" fill="#b2ccfb"/>
<rect x="1449.05" y="2199.20" width="15.28" height="11.75" fill="#c0d4f5"/>
<rect x="1464.08" y="2199.20" width="15.28" height="11.75" fill="#a3c2fe"/>
<rect x="1479.11" y="2199.20" width="15.28" height="11.75" fill="#c0d4f5"/>
<rect x="1494.14" y="2199.20" width="15.28" height="11.75" fill="#dadce0"/>
<rect x="1509.17" y="2199.20" width="15.28" height="11.75" fill="#b2ccfb"/>
<rect x="1524.20" y="2199.20" width="15.28" height="11.75" fill="#b2ccfb"/>
<rect x="1539.23" y="2199.20" width="15.28" height="11.75" fill="#ccd9ed"/>
<rect x="1554.26" y="2199.20" width="15.28" height="11.75" fill="#96b7ff"/>
<rect x="1569.29" y="2199.20" width="15.28" height="11.75" fill="#b2ccfb"/>
<rect x="1584.32" y="2199.20" width="15.28" height="11.75" fill="#dadce0"/>
<rect x="1599.35" y="2199.20" width="15.28" height="11.75" fill="#c0d4f5"/>
<rect x="1614.38" y="2199.20" width="15.28" height="11.75" fill="#c0d4f5"/>
<rect x="1629.41" y="2199.20" width="15.28" height="11.75" fill="#ccd9ed"/>
<rect x="1644.44" y="2199.20" width="15.28" height="11.75" fill="#ccd9ed"/>
<rect x="1659.47" y="2199.20" width="15.28" height="11.75" fill="#c0d4f5"/>
<rect x="1674.50" y="2199.20" width="15.28" height="11.75" fill="#ccd9ed"/>
<rect x="1689.53" y="2199.20" width="15.28" height="11.75" fill="#c0d4f5"/>
<rect x="1704.56" y="2199.20" width="15.28" height="11.75" fill="#c0d4f5"/>
<rect x="1719.59" y="2199.20" width="15.28" height="11.75" fill="#c0d4f5"/>
<rect x="1734.62" y="2199.20" width="15.28" height="11.75" fill="#f6a586"/>
<rect x="1749.65" y="2199.20" width="15.28" height="11.75" fill="#f6bda2"/>
<rect x="1764.68" y="2199.20" width="15.28" height="11.75" fill="#b40426"/>
<rect x="1779.71" y="2199.20" width="15.28" height="11.75" fill="#c0d4f5"/>
<rect x="1794.74" y="2199.20" width="15.28" height="11.75" fill="#b2ccfb"/>
<rect x="1809.77" y="2199.20" width="15.28" height="11.75" fill="#ccd9ed"/>
<rect x="1223.60" y="2210.70" width="15.28" height="11.75" fill="#96b7ff"/>
<rect x="1238.63" y="2210.70" width="15.28" height="11.75" fill="#96b7ff"/>
<rect x="1253.66" y="2210.70" width="15.28" height="11.75" fill="#96b7ff"/>
<rect x="1268.69" y="2210.70" width="15.28" height="11.75" fill="#7396f5"/>
<rect x="1283.72" y="2210.70" width="15.28" height="11.75" fill="#c0d4f5"/>
<rect x="1298.75" y="2210.70" width="15.28" height="11.75" fill="#a3c2fe"/>
<rect x="1313.78" y="2210.70" width="15.28" height="11.75" fill="#b2ccfb"/>
<rect x="1328.81" y="2210.70" width="15.28" height="11.75" fill="#96b7ff"/>
<rect x="1343.84" y="2210.70" width="15.28" height="11.75" fill="#c0d4f5"/>
<rect x="1358.87" y="2210.70" width="15.28" height="11.75" fill="#a3c2fe"/>
<rect x="1373.90" y="2210.70" width="15.28" height="11.75" fill="#86a9fc"/>
<rect x="1388.93" y="2210.70" width="15.28" height="11.75" fill="#86a9fc"/>
<rect x="1403.96" y="2210.70" width="15.28" height="11.75" fill="#86a9fc"/>
<rect x="1418.99" y="2210.70" width="15.28" height="11.75" fill="#b2ccfb"/>
<rect x="1434.02" y="2210.70" width="15.28" height="11.75" fill="#96b7ff"/>
<rect x="1449.05" y="2210.70" width="15.28" height="11.75" fill="#b2ccfb"/>
<rect x="1464.08" y="2210.70" width="15.28" height="11.75" fill="#b2ccfb"/>
<rect x="1479.11" y="2210.70" width="15.28" height="11.75" fill="#b2ccfb"/>
<rect x="1494.14" y="2210.70" width="15.28" height="11.75" fill="#c0d4f5"/>
<rect x="1509.17" y="2210.70" width="15.28" height="11.75" fill="#ccd9ed"/>
<rect x="1524.20" y="2210.70" width="15.28" height="11.75" fill="#96b7ff"/>
<rect x="1539.23" y="2210.70" width="15.28" height="11.75" fill="#c0d4f5"/>
<rect x="1554.26" y="2210.70" width="15.28" height="11.75" fill="#ccd9ed"/>
<rect x="1569.29" y="2210.70" width="15.28" height="11.75" fill="#b2ccfb"/>
<rect x="1584.32" y="2210.70" width="15.28" height="11.75" fill="#ccd9ed"/>
<rect x="1599.35" y="2210.70" width="15.28" height="11.75" fill="#dadce0"/>
<rect x="1614.38" y="2210.70" width="15.28" height="11.75" fill="#b2ccfb"/>
<rect x="1629.41" y="2210.70" width="15.28" height="11.75" fill="#dadce0"/>
<rect x="1644.44" y="2210.70" width="15.28" height="11.75" fill="#c0d4f5"/>
<rect x="1659.47" y="2210.70" width="15.28" height="11.75" fill="#c0d4f5"/>
<rect x="1674.50" y="2210.70" width="15.28" height="11.75" fill="#c0d4f5"/>
<rect x="1689.53" y="2210.70" width="15.28" height="11.75" fill="#c0d4f5"/>
<rect x="1704.56" y="2210.70" width="15.28" height="11.75" fill="#a3c2fe"/>
<rect x="1719.59" y="2210.70" width="15.28" height="11.75" fill="#b2ccfb"/>
<rect x="1734.62" y="2210.70" width="15.28" height="11.75" fill="#ccd9ed"/>
<rect x="1749.65" y="2210.70" width="15.28" height="11.75" fill="#c0d4f5"/>
<rect x="1764.68" y="2210.70" width="15.28" height="11.75" fill="#c0d4f5"/>
<rect x="1779.71" y="2210.70" width="15.28" height="11.75" fill="#b40426"/>
<rect x="1794.74" y="2210.70" width="15.28" height="11.75" fill="#f6a586"/>
<rect x="1809.77" y="2210.70" width="15.28" height="11.75" fill="#f6a586"/>
<rect x="1223.60" y="2222.20" width="15.28" height="11.75" fill="#a3c2fe"/>
<rect x="1238.63" y="2222.20" width="15.28" height="11.75" fill="#a3c2fe"/>
<rect x="1253.66" y="2222.20" width="15.28" height="11.75" fill="#a3c2fe"/>
<rect x="1268.69" y="2222.20" width="15.28" height="11.75" fill="#86a9fc"/>
<rect x="1283.72" y="2222.20" width="15.28" height="11.75" fill="#b2ccfb"/>
<rect x="1298.75" y="2222.20" width="15.28" height="11.75" fill="#96b7ff"/>
<rect x="1313.78" y="2222.20" width="15.28" height="11.75" fill="#96b7ff"/>
<rect x="1328.81" y="2222.20" width="15.28" height="11.75" fill="#96b7ff"/>
<rect x="1343.84" y="2222.20" width="15.28" height="11.75" fill="#a3c2fe"/>
<rect x="1358.87" y="2222.20" width="15.28" height="11.75" fill="#a3c2fe"/>
<rect x="1373.90" y="2222.20" width="15.28" height="11.75" fill="#7396f5"/>
<rect x="1388.93" y="2222.20" width="15.28" height="11.75" fill="#7396f5"/>
<rect x="1403.96" y="2222.20" width="15.28" height="11.75" fill="#86a9fc"/>
<rect x="1418.99" y="2222.20" width="15.28" height="11.75" fill="#c0d4f5"/>
<rect x="1434.02" y="2222.20" width="15.28" height="11.75" fill="#96b7ff"/>
<rect x="1449.05" y="2222.20" width="15.28" height="11.75" fill="#c0d4f5"/>
<rect x="1464.08" y="2222.20" width="15.28" height="11.75" fill="#c0d4f5"/>
<rect x="1479.11" y="2222.20" width="15.28" height="11.75" fill="#c0d4f5"/>
<rect x="1494.14" y="2222.20" width="15.28" height="11.75" fill="#c0d4f5"/>
<rect x="1509.17" y="2222.20" width="15.28" height="11.75" fill="#c0d4f5"/>
<rect x="1524.20" y="2222.20" width="15.28" height="11.75" fill="#ccd9ed"/>
<rect x="1539.23" y="2222.20" width="15.28" height="11.75" fill="#b2ccfb"/>
<rect x="1554.26" y="2222.20" width="15.28" height="11.75" fill="#ccd9ed"/>
<rect x="1569.29" y="2222.20" width="15.28" height="11.75" fill="#dadce0"/>
<rect x="1584.32" y="2222.20" width="15.28" height="11.75" fill="#b2ccfb"/>
<rect x="1599.35" y="2222.20" width="15.28" height="11.75" fill="#dadce0"/>
<rect x="1614.38" y="2222.20" width="15.28" height="11.75" fill="#dadce0"/>
<rect x="1629.41" y="2222.20" width="15.28" height="11.75" fill="#ccd9ed"/>
<rect x="1644.44" y="2222.20" width="15.28" height="11.75" fill="#ccd9ed"/>
<rect x="1659.47" y="2222.20" width="15.28" height="11.75" fill="#dadce0"/>
<rect x="1674.50" y="2222.20" width="15.28" height="11.75" fill="#c0d4f5"/>
<rect x="1689.53" y="2222.20" width="15.28" height="11.75" fill="#c0d4f5"/>
<rect x="1704.56" y="2222.20" width="15.28" height="11.75" fill="#b2ccfb"/>
<rect x="1719.59" y="2222.20" width="15.28" height="11.75" fill="#a3c2fe"/>
<rect x="1734.62" y="2222.20" width="15.28" height="11.75" fill="#b2ccfb"/>
<rect x="1749.65" y="2222.20" width="15.28" height="11.75" fill="#ccd9ed"/>
<rect x="1764.68" y="2222.20" width="15.28" height="11.75" fill="#b2ccfb"/>
<rect x="1779.71" y="2222.20" width="15.28" height="11.75" fill="#f6a586"/>
<rect x="1794.74" y="2222.20" width="15.28" height="11.75" fill="#b40426"/>
<rect x="1809.77" y="2222.20" width="15.28" height="11.75" fill="#efcfbf"/>
<rect x="1223.60" y="2233.70" width="15.28" height="11.75" fill="#86a9fc"/>
<rect x="1238.63" y="2233.70" width="15.28" height="11.75" fill="#86a9fc"/>
<rect x="1253.66" y="2233.70" width="15.28" height="11.75" fill="#86a9fc"/>
<rect x="1268.69" y="2233.70" width="15.28" height="11.75" fill="#86a9fc"/>
<rect x="1283.72" y="2233.70" width="15.28" height="11.75" fill="#b2ccfb"/>
<rect x="1298.75" y="2233.70" width="15.28" height="11.75" fill="#86a9fc"/>
<rect x="1313.78" y="2233.70" width="15.28" height="11.75" fill="#a3c2fe"/>
<rect x="1328.81" y="2233.70" width="15.28" height="11.75" fill="#96b7ff"/>
<rect x="1343.84" y="2233.70" width="15.28" height="11.75" fill="#a3c2fe"/>
<rect x="1358.87" y="2233.70" width="15.28" height="11.75" fill="#a3c2fe"/>
<rect x="1373.90" y="2233.70" width="15.28" height="11.75" fill="#86a9fc"/>
<rect x="1388.93" y="2233.70" width="15.28" height="11.75" fill="#96b7ff"/>
<rect x="1403.96" y="2233.70" width="15.28" height="11.75" fill="#86a9fc"/>
<rect x="1418.99" y="2233.70" width="15.28" height="11.75" fill="#b2ccfb"/>
<rect x="1434.02" y="2233.70" width="15.28" height="11.75" fill="#c0d4f5"/>
<rect x="1449.05" y="2233.70" width="15.28" height="11.75" fill="#c0d4f5"/>
<rect x="1464.08" y="2233.70" width="15.28" height="11.75" fill="#c0d4f5"/>
<rect x="1479.11" y="2233.70" width="15.28" height="11.75" fill="#b2ccfb"/>
<rect x="1494.14" y="2233.70" width="15.28" height="11.75" fill="#c0d4f5"/>
<rect x="1509.17" y="2233.70" width="15.28" height="11.75" fill="#ccd9ed"/>
<rect x="1524.20" y="2233.70" width="15.28" height="11.75" fill="#b2ccfb"/>
<rect x="1539.23" y="2233.70" width="15.28" height="11.75" fill="#dadce0"/>
<rect x="1554.26" y="2233.70" width="15.28" height="11.75" fill="#ccd9ed"/>
<rect x="1569.29" y="2233.70" width="15.28" height="11.75" fill="#c0d4f5"/>
<rect x="1584.32" y="2233.70" width="15.28" height="11.75" fill="#e5d8d1"/>
<rect x="1599.35" y="2233.70" width="15.28" height="11.75" fill="#e5d8d1"/>
<rect x="1614.38" y="2233.70" width="15.28" height="11.75" fill="#b2ccfb"/>
<rect x="1629.41" y="2233.70" width="15.28" height="11.75" fill="#dadce0"/>
<rect x="1644.44" y="2233.70" width="15.28" height="11.75" fill="#ccd9ed"/>
<rect x="1659.47" y="2233.70" width="15.28" height="11.75" fill="#ccd9ed"/>
<rect x="1674.50" y="2233.70" width="15.28" height="11.75" fill="#ccd9ed"/>
<rect x="1689.53" y="2233.70" width="15.28" height="11.75" fill="#ccd9ed"/>
<rect x="1704.56" y="2233.70" width="15.28" height="11.75" fill="#b2ccfb"/>
<rect x="1719.59" y="2233.70" width="15.28" height="11.75" fill="#ccd9ed"/>
<rect x="1734.62" y="2233.70" width="15.28" height="11.75" fill="#c0d4f5"/>
<rect x="1749.65" y="2233.70" width="15.28" height="11.75" fill="#ccd9ed"/>
<rect x="1764.68" y="2233.70" width="15.28" height="11.75" fill="#c0d4f5"/>
<rect x="1779.71" y="2233.70" width="15.28" height="11.75" fill="#f6a586"/>
<rect x="1794.74" y="2233.70" width="15.28" height="11.75" fill="#efcfbf"/>
<rect x="1809.77" y="2233.70" width="15.28" height="11.75" fill="#b40426"/>
<defs><linearGradient id="cb" x1="0" y1="1" x2="0" y2="0"><stop offset="0.000" stop-color="#3b4cc0"/><stop offset="0.031" stop-color="#445acc"/><stop offset="0.062" stop-color="#4c66d6"/><stop offset="0.094" stop-color="#5673e0"/><stop offset="0.125" stop-color="#6282ea"/><stop offset="0.156" stop-color="#6c8ff1"/><stop offset="0.188" stop-color="#7699f6"/><stop offset="0.219" stop-color="#82a6fb"/><stop offset="0.250" stop-color="#8db0fe"/><stop offset="0.281" stop-color="#98b9ff"/><stop offset="0.312" stop-color="#a3c2fe"/><stop offset="0.344" stop-color="#aec9fc"/><stop offset="0.375" stop-color="#b7cff9"/><stop offset="0.406" stop-color="#c3d5f4"/><stop offset="0.438" stop-color="#ccd9ed"/><stop offset="0.469" stop-color="#d5dbe5"/><stop offset="0.500" stop-color="#dddcdc"/><stop offset="0.531" stop-color="#e5d8d1"/><stop offset="0.562" stop-color="#ecd3c5"/><stop offset="0.594" stop-color="#f1ccb8"/><stop offset="0.625" stop-color="#f5c4ac"/><stop offset="0.656" stop-color="#f7bca1"/><stop offset="0.688" stop-color="#f7b093"/><stop offset="0.719" stop-color="#f6a586"/><stop offset="0.750" stop-color="#f49a7b"/><stop offset="0.781" stop-color="#f08b6e"/><stop offset="0.812" stop-color="#eb7d62"/><stop offset="0.844" stop-color="#e46e56"/><stop offset="0.875" stop-color="#dd5f4b"/><stop offset="0.906" stop-color="#d44e41"/><stop offset="0.938" stop-color="#ca3b37"/><stop offset="0.969" stop-color="#be242e"/><stop offset="1.000" stop-color="#b40426"/></linearGradient></defs>
<rect x="1862.7" y="1785.4" width="36.80" height="459.30" fill="url(#cb)"/>
<line x1="1899.5" y1="1785.40" x2="1902.50" y2="1785.40" stroke="#333" stroke-width="0.9"/>
<text transform="translate(1908.6,1788.30) scale(1.45,1)" font-family="'Liberation Sans', Arial, sans-serif" font-size="8.0" fill="#262626">1.0</text>
<line x1="1899.5" y1="1849.55" x2="1902.50" y2="1849.55" stroke="#333" stroke-width="0.9"/>
<text transform="translate(1908.6,1852.45) scale(1.45,1)" font-family="'Liberation Sans', Arial, sans-serif" font-size="8.0" fill="#262626">0.8</text>
<line x1="1899.5" y1="1913.70" x2="1902.50" y2="1913.70" stroke="#333" stroke-width="0.9"/>
<text transform="translate(1908.6,1916.60) scale(1.45,1)" font-family="'Liberation Sans', Arial, sans-serif" font-size="8.0" fill="#262626">0.6</text>
<line x1="1899.5" y1="1977.85" x2="1902.50" y2="1977.85" stroke="#333" stroke-width="0.9"/>
<text transform="translate(1908.6,1980.75) scale(1.45,1)" font-family="'Liberation Sans', Arial, sans-serif" font-size="8.0" fill="#262626">0.4</text>
<line x1="1899.5" y1="2042.00" x2="1902.50" y2="2042.00" stroke="#333" stroke-width="0.9"/>
<text transform="translate(1908.6,2044.90) scale(1.45,1)" font-family="'Liberation Sans', Arial, sans-serif" font-size="8.0" fill="#262626">0.2</text>
<line x1="1899.5" y1="2106.15" x2="1902.50" y2="2106.15" stroke="#333" stroke-width="0.9"/>
<text transform="translate(1908.6,2109.05) scale(1.45,1)" font-family="'Liberation Sans', Arial, sans-serif" font-size="8.0" fill="#262626">0.0</text>
<line x1="1899.5" y1="2170.30" x2="1902.50" y2="2170.30" stroke="#333" stroke-width="0.9"/>
<text transform="translate(1908.6,2173.20) scale(1.45,1)" font-family="'Liberation Sans', Arial, sans-serif" font-size="8.0" fill="#262626">−0.2</text>
<line x1="1899.5" y1="2234.45" x2="1902.50" y2="2234.45" stroke="#333" stroke-width="0.9"/>
<text transform="translate(1908.6,2237.35) scale(1.45,1)" font-family="'Liberation Sans', Arial, sans-serif" font-size="8.0" fill="#262626">−0.4</text>
<text transform="translate(1524.4,1780.2) scale(1.55,1)" font-family="'Liberation Sans', Arial, sans-serif" font-size="10.3" fill="#262626" text-anchor="middle">Correlation Matrix of Features</text>
<text transform="translate(1214.0,1794.05) scale(1.57,1)" font-family="'Liberation Sans', Arial, sans-serif" font-size="8.6" fill="#1a1a1a" stroke="#1a1a1a" stroke-width="0.25" text-anchor="end" style="white-space:pre">Age</text>
<text transform="translate(1214.0,1805.55) scale(1.57,1)" font-family="'Liberation Sans', Arial, sans-serif" font-size="8.6" fill="#1a1a1a" stroke="#1a1a1a" stroke-width="0.25" text-anchor="end" style="white-space:pre">scintific rank </text>
<text transform="translate(1214.0,1817.05) scale(1.57,1)" font-family="'Liberation Sans', Arial, sans-serif" font-size="8.6" fill="#1a1a1a" stroke="#1a1a1a" stroke-width="0.25" text-anchor="end" style="white-space:pre">experience duration in years </text>
<text transform="translate(1214.0,1828.55) scale(1.57,1)" font-family="'Liberation Sans', Arial, sans-serif" font-size="8.6" fill="#1a1a1a" stroke="#1a1a1a" stroke-width="0.25" text-anchor="end" style="white-space:pre">working hours/day </text>
<text transform="translate(1214.0,1840.05) scale(1.57,1)" font-family="'Liberation Sans', Arial, sans-serif" font-size="8.6" fill="#1a1a1a" stroke="#1a1a1a" stroke-width="0.25" text-anchor="end" style="white-space:pre">work day/week</text>
<text transform="translate(1214.0,1851.55) scale(1.57,1)" font-family="'Liberation Sans', Arial, sans-serif" font-size="8.6" fill="#1a1a1a" stroke="#1a1a1a" stroke-width="0.25" text-anchor="end" style="white-space:pre">collage</text>
<text transform="translate(1214.0,1863.05) scale(1.57,1)" font-family="'Liberation Sans', Arial, sans-serif" font-size="8.6" fill="#1a1a1a" stroke="#1a1a1a" stroke-width="0.25" text-anchor="end" style="white-space:pre">weight in KG </text>
<text transform="translate(1214.0,1874.55) scale(1.57,1)" font-family="'Liberation Sans', Arial, sans-serif" font-size="8.6" fill="#1a1a1a" stroke="#1a1a1a" stroke-width="0.25" text-anchor="end" style="white-space:pre">Hight in CM </text>
<text transform="translate(1214.0,1886.05) scale(1.57,1)" font-family="'Liberation Sans', Arial, sans-serif" font-size="8.6" fill="#1a1a1a" stroke="#1a1a1a" stroke-width="0.25" text-anchor="end" style="white-space:pre">BMI</text>
<text transform="translate(1214.0,1897.55) scale(1.57,1)" font-family="'Liberation Sans', Arial, sans-serif" font-size="8.6" fill="#1a1a1a" stroke="#1a1a1a" stroke-width="0.25" text-anchor="end" style="white-space:pre">Extra work </text>
<text transform="translate(1214.0,1909.05) scale(1.57,1)" font-family="'Liberation Sans', Arial, sans-serif" font-size="8.6" fill="#1a1a1a" stroke="#1a1a1a" stroke-width="0.25" text-anchor="end" style="white-space:pre">Exercise </text>
<text transform="translate(1214.0,1920.55) scale(1.57,1)" font-family="'Liberation Sans', Arial, sans-serif" font-size="8.6" fill="#1a1a1a" stroke="#1a1a1a" stroke-width="0.25" text-anchor="end" style="white-space:pre">exercising day /week </text>
<text transform="translate(1214.0,1932.05) scale(1.57,1)" font-family="'Liberation Sans', Arial, sans-serif" font-size="8.6" fill="#1a1a1a" stroke="#1a1a1a" stroke-width="0.25" text-anchor="end" style="white-space:pre">exercising hours/day </text>
<text transform="translate(1214.0,1943.55) scale(1.57,1)" font-family="'Liberation Sans', Arial, sans-serif" font-size="8.6" fill="#1a1a1a" stroke="#1a1a1a" stroke-width="0.25" text-anchor="end" style="white-space:pre">Neck pain</text>
<text transform="translate(1214.0,1955.05) scale(1.57,1)" font-family="'Liberation Sans', Arial, sans-serif" font-size="8.6" fill="#1a1a1a" stroke="#1a1a1a" stroke-width="0.25" text-anchor="end" style="white-space:pre">neck pain prevent activity </text>
<text transform="translate(1214.0,1966.55) scale(1.57,1)" font-family="'Liberation Sans', Arial, sans-serif" font-size="8.6" fill="#1a1a1a" stroke="#1a1a1a" stroke-width="0.25" text-anchor="end" style="white-space:pre">Neck pain occuer last 7 days </text>
<text transform="translate(1214.0,1978.05) scale(1.57,1)" font-family="'Liberation Sans', Arial, sans-serif" font-size="8.6" fill="#1a1a1a" stroke="#1a1a1a" stroke-width="0.25" text-anchor="end" style="white-space:pre">Shoulder pain</text>
<text transform="translate(1214.0,1989.55) scale(1.57,1)" font-family="'Liberation Sans', Arial, sans-serif" font-size="8.6" fill="#1a1a1a" stroke="#1a1a1a" stroke-width="0.25" text-anchor="end" style="white-space:pre">Shoulder pain prevent activity  </text>
<text transform="translate(1214.0,2001.05) scale(1.57,1)" font-family="'Liberation Sans', Arial, sans-serif" font-size="8.6" fill="#1a1a1a" stroke="#1a1a1a" stroke-width="0.25" text-anchor="end" style="white-space:pre">Shoulder pain occuer last 7 days</text>
<text transform="translate(1214.0,2012.55) scale(1.57,1)" font-family="'Liberation Sans', Arial, sans-serif" font-size="8.6" fill="#1a1a1a" stroke="#1a1a1a" stroke-width="0.25" text-anchor="end" style="white-space:pre">Elbow pain</text>
<text transform="translate(1214.0,2024.05) scale(1.57,1)" font-family="'Liberation Sans', Arial, sans-serif" font-size="8.6" fill="#1a1a1a" stroke="#1a1a1a" stroke-width="0.25" text-anchor="end" style="white-space:pre">Elbow pain prevent activity </text>
<text transform="translate(1214.0,2035.55) scale(1.57,1)" font-family="'Liberation Sans', Arial, sans-serif" font-size="8.6" fill="#1a1a1a" stroke="#1a1a1a" stroke-width="0.25" text-anchor="end" style="white-space:pre">Elbow pain occuer last 7 days</text>
<text transform="translate(1214.0,2047.05) scale(1.57,1)" font-family="'Liberation Sans', Arial, sans-serif" font-size="8.6" fill="#1a1a1a" stroke="#1a1a1a" stroke-width="0.25" text-anchor="end" style="white-space:pre">Wrist pain</text>
<text transform="translate(1214.0,2058.55) scale(1.57,1)" font-family="'Liberation Sans', Arial, sans-serif" font-size="8.6" fill="#1a1a1a" stroke="#1a1a1a" stroke-width="0.25" text-anchor="end" style="white-space:pre">Wrist pain prevent activity </text>
<text transform="translate(1214.0,2070.05) scale(1.57,1)" font-family="'Liberation Sans', Arial, sans-serif" font-size="8.6" fill="#1a1a1a" stroke="#1a1a1a" stroke-width="0.25" text-anchor="end" style="white-space:pre">Wrist  pain occuer last 7 days</text>
<text transform="translate(1214.0,2081.55) scale(1.57,1)" font-family="'Liberation Sans', Arial, sans-serif" font-size="8.6" fill="#1a1a1a" stroke="#1a1a1a" stroke-width="0.25" text-anchor="end" style="white-space:pre">Thorathic spin pain</text>
<text transform="translate(1214.0,2093.05) scale(1.57,1)" font-family="'Liberation Sans', Arial, sans-serif" font-size="8.6" fill="#1a1a1a" stroke="#1a1a1a" stroke-width="0.25" text-anchor="end" style="white-space:pre">Thorathic pain prevent activity  </text>
<text transform="translate(1214.0,2104.55) scale(1.57,1)" font-family="'Liberation Sans', Arial, sans-serif" font-size="8.6" fill="#1a1a1a" stroke="#1a1a1a" stroke-width="0.25" text-anchor="end" style="white-space:pre">Thorathic pain occuer last 7 days</text>
<text transform="translate(1214.0,2116.05) scale(1.57,1)" font-family="'Liberation Sans', Arial, sans-serif" font-size="8.6" fill="#1a1a1a" stroke="#1a1a1a" stroke-width="0.25" text-anchor="end" style="white-space:pre">Low back pain</text>
<text transform="translate(1214.0,2127.55) scale(1.57,1)" font-family="'Liberation Sans', Arial, sans-serif" font-size="8.6" fill="#1a1a1a" stroke="#1a1a1a" stroke-width="0.25" text-anchor="end" style="white-space:pre">Low back pain prevent activity   </text>
<text transform="translate(1214.0,2139.05) scale(1.57,1)" font-family="'Liberation Sans', Arial, sans-serif" font-size="8.6" fill="#1a1a1a" stroke="#1a1a1a" stroke-width="0.25" text-anchor="end" style="white-space:pre">Low back pain occuer last 7 days</text>
<text transform="translate(1214.0,2150.55) scale(1.57,1)" font-family="'Liberation Sans', Arial, sans-serif" font-size="8.6" fill="#1a1a1a" stroke="#1a1a1a" stroke-width="0.25" text-anchor="end" style="white-space:pre">Hip pain</text>
<text transform="translate(1214.0,2162.05) scale(1.57,1)" font-family="'Liberation Sans', Arial, sans-serif" font-size="8.6" fill="#1a1a1a" stroke="#1a1a1a" stroke-width="0.25" text-anchor="end" style="white-space:pre">Hip pain prevent activity    </text>
<text transform="translate(1214.0,2173.55) scale(1.57,1)" font-family="'Liberation Sans', Arial, sans-serif" font-size="8.6" fill="#1a1a1a" stroke="#1a1a1a" stroke-width="0.25" text-anchor="end" style="white-space:pre">Hip pain occuer last 7 days</text>
<text transform="translate(1214.0,2185.05) scale(1.57,1)" font-family="'Liberation Sans', Arial, sans-serif" font-size="8.6" fill="#1a1a1a" stroke="#1a1a1a" stroke-width="0.25" text-anchor="end" style="white-space:pre">Knee pain</text>
<text transform="translate(1214.0,2196.55) scale(1.57,1)" font-family="'Liberation Sans', Arial, sans-serif" font-size="8.6" fill="#1a1a1a" stroke="#1a1a1a" stroke-width="0.25" text-anchor="end" style="white-space:pre">Knee pain prevent activity  </text>
<text transform="translate(1214.0,2208.05) scale(1.57,1)" font-family="'Liberation Sans', Arial, sans-serif" font-size="8.6" fill="#1a1a1a" stroke="#1a1a1a" stroke-width="0.25" text-anchor="end" style="white-space:pre">Knee  pain occuer last 7 days</text>
<text transform="translate(1214.0,2219.55) scale(1.57,1)" font-family="'Liberation Sans', Arial, sans-serif" font-size="8.6" fill="#1a1a1a" stroke="#1a1a1a" stroke-width="0.25" text-anchor="end" style="white-space:pre">Ankle pain</text>
<text transform="translate(1214.0,2231.05) scale(1.57,1)" font-family="'Liberation Sans', Arial, sans-serif" font-size="8.6" fill="#1a1a1a" stroke="#1a1a1a" stroke-width="0.25" text-anchor="end" style="white-space:pre">Ankle pain prevent activity   </text>
<text transform="translate(1214.0,2242.55) scale(1.57,1)" font-family="'Liberation Sans', Arial, sans-serif" font-size="8.6" fill="#1a1a1a" stroke="#1a1a1a" stroke-width="0.25" text-anchor="end" style="white-space:pre">Ankle pain occuer last 7 days</text>
<text transform="translate(1234.96,2251.6) scale(1.38,1) rotate(-90)" font-family="'Liberation Sans', Arial, sans-serif" font-size="8.45" fill="#1a1a1a" stroke="#1a1a1a" stroke-width="0.2" text-anchor="end" style="white-space:pre">Age</text>
<text transform="translate(1249.99,2251.6) scale(1.38,1) rotate(-90)" font-family="'Liberation Sans', Arial, sans-serif" font-size="8.45" fill="#1a1a1a" stroke="#1a1a1a" stroke-width="0.2" text-anchor="end" style="white-space:pre">scintific rank </text>
<text transform="translate(1265.02,2251.6) scale(1.38,1) rotate(-90)" font-family="'Liberation Sans', Arial, sans-serif" font-size="8.45" fill="#1a1a1a" stroke="#1a1a1a" stroke-width="0.2" text-anchor="end" style="white-space:pre">experience duration in years </text>
<text transform="translate(1280.05,2251.6) scale(1.38,1) rotate(-90)" font-family="'Liberation Sans', Arial, sans-serif" font-size="8.45" fill="#1a1a1a" stroke="#1a1a1a" stroke-width="0.2" text-anchor="end" style="white-space:pre">working hours/day </text>
<text transform="translate(1295.08,2251.6) scale(1.38,1) rotate(-90)" font-family="'Liberation Sans', Arial, sans-serif" font-size="8.45" fill="#1a1a1a" stroke="#1a1a1a" stroke-width="0.2" text-anchor="end" style="white-space:pre">work day/week</text>
<text transform="translate(1310.11,2251.6) scale(1.38,1) rotate(-90)" font-family="'Liberation Sans', Arial, sans-serif" font-size="8.45" fill="#1a1a1a" stroke="#1a1a1a" stroke-width="0.2" text-anchor="end" style="white-space:pre">collage</text>
<text transform="translate(1325.14,2251.6) scale(1.38,1) rotate(-90)" font-family="'Liberation Sans', Arial, sans-serif" font-size="8.45" fill="#1a1a1a" stroke="#1a1a1a" stroke-width="0.2" text-anchor="end" style="white-space:pre">weight in KG </text>
<text transform="translate(1340.17,2251.6) scale(1.38,1) rotate(-90)" font-family="'Liberation Sans', Arial, sans-serif" font-size="8.45" fill="#1a1a1a" stroke="#1a1a1a" stroke-width="0.2" text-anchor="end" style="white-space:pre">Hight in CM </text>
<text transform="translate(1355.20,2251.6) scale(1.38,1) rotate(-90)" font-family="'Liberation Sans', Arial, sans-serif" font-size="8.45" fill="#1a1a1a" stroke="#1a1a1a" stroke-width="0.2" text-anchor="end" style="white-space:pre">BMI</text>
<text transform="translate(1370.23,2251.6) scale(1.38,1) rotate(-90)" font-family="'Liberation Sans', Arial, sans-serif" font-size="8.45" fill="#1a1a1a" stroke="#1a1a1a" stroke-width="0.2" text-anchor="end" style="white-space:pre">Extra work </text>
<text transform="translate(1385.26,2251.6) scale(1.38,1) rotate(-90)" font-family="'Liberation Sans', Arial, sans-serif" font-size="8.45" fill="#1a1a1a" stroke="#1a1a1a" stroke-width="0.2" text-anchor="end" style="white-space:pre">Exercise </text>
<text transform="translate(1400.29,2251.6) scale(1.38,1) rotate(-90)" font-family="'Liberation Sans', Arial, sans-serif" font-size="8.45" fill="#1a1a1a" stroke="#1a1a1a" stroke-width="0.2" text-anchor="end" style="white-space:pre">exercising day /week </text>
<text transform="translate(1415.32,2251.6) scale(1.38,1) rotate(-90)" font-family="'Liberation Sans', Arial, sans-serif" font-size="8.45" fill="#1a1a1a" stroke="#1a1a1a" stroke-width="0.2" text-anchor="end" style="white-space:pre">exercising hours/day </text>
<text transform="translate(1430.35,2251.6) scale(1.38,1) rotate(-90)" font-family="'Liberation Sans', Arial, sans-serif" font-size="8.45" fill="#1a1a1a" stroke="#1a1a1a" stroke-width="0.2" text-anchor="end" style="white-space:pre">Neck pain</text>
<text transform="translate(1445.38,2251.6) scale(1.38,1) rotate(-90)" font-family="'Liberation Sans', Arial, sans-serif" font-size="8.45" fill="#1a1a1a" stroke="#1a1a1a" stroke-width="0.2" text-anchor="end" style="white-space:pre">neck pain prevent activity </text>
<text transform="translate(1460.41,2251.6) scale(1.38,1) rotate(-90)" font-family="'Liberation Sans', Arial, sans-serif" font-size="8.45" fill="#1a1a1a" stroke="#1a1a1a" stroke-width="0.2" text-anchor="end" style="white-space:pre">Neck pain occuer last 7 days </text>
<text transform="translate(1475.44,2251.6) scale(1.38,1) rotate(-90)" font-family="'Liberation Sans', Arial, sans-serif" font-size="8.45" fill="#1a1a1a" stroke="#1a1a1a" stroke-width="0.2" text-anchor="end" style="white-space:pre">Shoulder pain</text>
<text transform="translate(1490.47,2251.6) scale(1.38,1) rotate(-90)" font-family="'Liberation Sans', Arial, sans-serif" font-size="8.45" fill="#1a1a1a" stroke="#1a1a1a" stroke-width="0.2" text-anchor="end" style="white-space:pre">Shoulder pain prevent activity  </text>
<text transform="translate(1505.50,2251.6) scale(1.38,1) rotate(-90)" font-family="'Liberation Sans', Arial, sans-serif" font-size="8.45" fill="#1a1a1a" stroke="#1a1a1a" stroke-width="0.2" text-anchor="end" style="white-space:pre">Shoulder pain occuer last 7 days</text>
<text transform="translate(1520.53,2251.6) scale(1.38,1) rotate(-90)" font-family="'Liberation Sans', Arial, sans-serif" font-size="8.45" fill="#1a1a1a" stroke="#1a1a1a" stroke-width="0.2" text-anchor="end" style="white-space:pre">Elbow pain</text>
<text transform="translate(1535.56,2251.6) scale(1.38,1) rotate(-90)" font-family="'Liberation Sans', Arial, sans-serif" font-size="8.45" fill="#1a1a1a" stroke="#1a1a1a" stroke-width="0.2" text-anchor="end" style="white-space:pre">Elbow pain prevent activity </text>
<text transform="translate(1550.59,2251.6) scale(1.38,1) rotate(-90)" font-family="'Liberation Sans', Arial, sans-serif" font-size="8.45" fill="#1a1a1a" stroke="#1a1a1a" stroke-width="0.2" text-anchor="end" style="white-space:pre">Elbow pain occuer last 7 days</text>
<text transform="translate(1565.62,2251.6) scale(1.38,1) rotate(-90)" font-family="'Liberation Sans', Arial, sans-serif" font-size="8.45" fill="#1a1a1a" stroke="#1a1a1a" stroke-width="0.2" text-anchor="end" style="white-space:pre">Wrist pain</text>
<text transform="translate(1580.65,2251.6) scale(1.38,1) rotate(-90)" font-family="'Liberation Sans', Arial, sans-serif" font-size="8.45" fill="#1a1a1a" stroke="#1a1a1a" stroke-width="0.2" text-anchor="end" style="white-space:pre">Wrist pain prevent activity </text>
<text transform="translate(1595.68,2251.6) scale(1.38,1) rotate(-90)" font-family="'Liberation Sans', Arial, sans-serif" font-size="8.45" fill="#1a1a1a" stroke="#1a1a1a" stroke-width="0.2" text-anchor="end" style="white-space:pre">Wrist  pain occuer last 7 days</text>
<text transform="translate(1610.71,2251.6) scale(1.38,1) rotate(-90)" font-family="'Liberation Sans', Arial, sans-serif" font-size="8.45" fill="#1a1a1a" stroke="#1a1a1a" stroke-width="0.2" text-anchor="end" style="white-space:pre">Thorathic spin pain</text>
<text transform="translate(1625.74,2251.6) scale(1.38,1) rotate(-90)" font-family="'Liberation Sans', Arial, sans-serif" font-size="8.45" fill="#1a1a1a" stroke="#1a1a1a" stroke-width="0.2" text-anchor="end" style="white-space:pre">Thorathic pain prevent activity  </text>
<text transform="translate(1640.77,2251.6) scale(1.38,1) rotate(-90)" font-family="'Liberation Sans', Arial, sans-serif" font-size="8.45" fill="#1a1a1a" stroke="#1a1a1a" stroke-width="0.2" text-anchor="end" style="white-space:pre">Thorathic pain occuer last 7 days</text>
<text transform="translate(1655.80,2251.6) scale(1.38,1) rotate(-90)" font-family="'Liberation Sans', Arial, sans-serif" font-size="8.45" fill="#1a1a1a" stroke="#1a1a1a" stroke-width="0.2" text-anchor="end" style="white-space:pre">Low back pain</text>
<text transform="translate(1670.83,2251.6) scale(1.38,1) rotate(-90)" font-family="'Liberation Sans', Arial, sans-serif" font-size="8.45" fill="#1a1a1a" stroke="#1a1a1a" stroke-width="0.2" text-anchor="end" style="white-space:pre">Low back pain prevent activity   </text>
<text transform="translate(1685.86,2251.6) scale(1.38,1) rotate(-90)" font-family="'Liberation Sans', Arial, sans-serif" font-size="8.45" fill="#1a1a1a" stroke="#1a1a1a" stroke-width="0.2" text-anchor="end" style="white-space:pre">Low back pain occuer last 7 days</text>
<text transform="translate(1700.89,2251.6) scale(1.38,1) rotate(-90)" font-family="'Liberation Sans', Arial, sans-serif" font-size="8.45" fill="#1a1a1a" stroke="#1a1a1a" stroke-width="0.2" text-anchor="end" style="white-space:pre">Hip pain</text>
<text transform="translate(1715.92,2251.6) scale(1.38,1) rotate(-90)" font-family="'Liberation Sans', Arial, sans-serif" font-size="8.45" fill="#1a1a1a" stroke="#1a1a1a" stroke-width="0.2" text-anchor="end" style="white-space:pre">Hip pain prevent activity    </text>
<text transform="translate(1730.95,2251.6) scale(1.38,1) rotate(-90)" font-family="'Liberation Sans', Arial, sans-serif" font-size="8.45" fill="#1a1a1a" stroke="#1a1a1a" stroke-width="0.2" text-anchor="end" style="white-space:pre">Hip pain occuer last 7 days</text>
<text transform="translate(1745.98,2251.6) scale(1.38,1) rotate(-90)" font-family="'Liberation Sans', Arial, sans-serif" font-size="8.45" fill="#1a1a1a" stroke="#1a1a1a" stroke-width="0.2" text-anchor="end" style="white-space:pre">Knee pain</text>
<text transform="translate(1761.01,2251.6) scale(1.38,1) rotate(-90)" font-family="'Liberation Sans', Arial, sans-serif" font-size="8.45" fill="#1a1a1a" stroke="#1a1a1a" stroke-width="0.2" text-anchor="end" style="white-space:pre">Knee pain prevent activity  </text>
<text transform="translate(1776.04,2251.6) scale(1.38,1) rotate(-90)" font-family="'Liberation Sans', Arial, sans-serif" font-size="8.45" fill="#1a1a1a" stroke="#1a1a1a" stroke-width="0.2" text-anchor="end" style="white-space:pre">Knee  pain occuer last 7 days</text>
<text transform="translate(1791.07,2251.6) scale(1.38,1) rotate(-90)" font-family="'Liberation Sans', Arial, sans-serif" font-size="8.45" fill="#1a1a1a" stroke="#1a1a1a" stroke-width="0.2" text-anchor="end" style="white-space:pre">Ankle pain</text>
<text transform="translate(1806.10,2251.6) scale(1.38,1) rotate(-90)" font-family="'Liberation Sans', Arial, sans-serif" font-size="8.45" fill="#1a1a1a" stroke="#1a1a1a" stroke-width="0.2" text-anchor="end" style="white-space:pre">Ankle pain prevent activity   </text>
<text transform="translate(1821.13,2251.6) scale(1.38,1) rotate(-90)" font-family="'Liberation Sans', Arial, sans-serif" font-size="8.45" fill="#1a1a1a" stroke="#1a1a1a" stroke-width="0.2" text-anchor="end" style="white-space:pre">Ankle pain occuer last 7 days</text>
<text transform="translate(1231.12,1793.95) scale(1.3,1)" font-family="'Liberation Sans', Arial, sans-serif" font-size="8.5" fill="#ffffff" stroke="#ffffff" stroke-width="0.15" text-anchor="middle">1.00</text>
<text transform="translate(1246.14,1793.95) scale(1.3,1)" font-family="'Liberation Sans', Arial, sans-serif" font-size="8.5" fill="#ffffff" stroke="#ffffff" stroke-width="0.15" text-anchor="middle">0.88</text>
<text transform="translate(1261.17,1793.95) scale(1.3,1)" font-family="'Liberation Sans', Arial, sans-serif" font-size="8.5" fill="#ffffff" stroke="#ffffff" stroke-width="0.15" text-anchor="middle">0.88</text>
<text transform="translate(1276.20,1793.95) scale(1.3,1)" font-family="'Liberation Sans', Arial, sans-serif" font-size="8.5" fill="#262626" stroke="#262626" stroke-width="0.15" text-anchor="middle">−0.04</text>
<text transform="translate(1291.23,1793.95) scale(1.3,1)" font-family="'Liberation Sans', Arial, sans-serif" font-size="8.5" fill="#262626" stroke="#262626" stroke-width="0.15" text-anchor="middle">−0.18</text>
<text transform="translate(1306.26,1793.95) scale(1.3,1)" font-family="'Liberation Sans', Arial, sans-serif" font-size="8.5" fill="#262626" stroke="#262626" stroke-width="0.15" text-anchor="middle">0.14</text>
<text transform="translate(1321.29,1793.95) scale(1.3,1)" font-family="'Liberation Sans', Arial, sans-serif" font-size="8.5" fill="#262626" stroke="#262626" stroke-width="0.15" text-anchor="middle">0.33</text>
<text transform="translate(1336.32,1793.95) scale(1.3,1)" font-family="'Liberation Sans', Arial, sans-serif" font-size="8.5" fill="#262626" stroke="#262626" stroke-width="0.15" text-anchor="middle">0.08</text>
<text transform="translate(1351.36,1793.95) scale(1.3,1)" font-family="'Liberation Sans', Arial, sans-serif" font-size="8.5" fill="#262626" stroke="#262626" stroke-width="0.15" text-anchor="middle">0.27</text>
<text transform="translate(1366.38,1793.95) scale(1.3,1)" font-family="'Liberation Sans', Arial, sans-serif" font-size="8.5" fill="#262626" stroke="#262626" stroke-width="0.15" text-anchor="middle">−0.18</text>
<text transform="translate(1381.41,1793.95) scale(1.3,1)" font-family="'Liberation Sans', Arial, sans-serif" font-size="8.5" fill="#262626" stroke="#262626" stroke-width="0.15" text-anchor="middle">−0.04</text>
<text transform="translate(1396.44,1793.95) scale(1.3,1)" font-family="'Liberation Sans', Arial, sans-serif" font-size="8.5" fill="#262626" stroke="#262626" stroke-width="0.15" text-anchor="middle">−0.04</text>
<text transform="translate(1411.47,1793.95) scale(1.3,1)" font-family="'Liberation Sans', Arial, sans-serif" font-size="8.5" fill="#262626" stroke="#262626" stroke-width="0.15" text-anchor="middle">−0.10</text>
<text transform="translate(1426.50,1793.95) scale(1.3,1)" font-family="'Liberation Sans', Arial, sans-serif" font-size="8.5" fill="#262626" stroke="#262626" stroke-width="0.15" text-anchor="middle">−0.10</text>
<text transform="translate(1441.53,1793.95) scale(1.3,1)" font-family="'Liberation Sans', Arial, sans-serif" font-size="8.5" fill="#262626" stroke="#262626" stroke-width="0.15" text-anchor="middle">−0.18</text>
<text transform="translate(1456.56,1793.95) scale(1.3,1)" font-family="'Liberation Sans', Arial, sans-serif" font-size="8.5" fill="#262626" stroke="#262626" stroke-width="0.15" text-anchor="middle">−0.04</text>
<text transform="translate(1471.59,1793.95) scale(1.3,1)" font-family="'Liberation Sans', Arial, sans-serif" font-size="8.5" fill="#262626" stroke="#262626" stroke-width="0.15" text-anchor="middle">−0.04</text>
<text transform="translate(1486.62,1793.95) scale(1.3,1)" font-family="'Liberation Sans', Arial, sans-serif" font-size="8.5" fill="#262626" stroke="#262626" stroke-width="0.15" text-anchor="middle">−0.10</text>
<text transform="translate(1501.65,1793.95) scale(1.3,1)" font-family="'Liberation Sans', Arial, sans-serif" font-size="8.5" fill="#262626" stroke="#262626" stroke-width="0.15" text-anchor="middle">−0.04</text>
<text transform="translate(1516.68,1793.95) scale(1.3,1)" font-family="'Liberation Sans', Arial, sans-serif" font-size="8.5" fill="#262626" stroke="#262626" stroke-width="0.15" text-anchor="middle">−0.04</text>
<text transform="translate(1531.71,1793.95) scale(1.3,1)" font-family="'Liberation Sans', Arial, sans-serif" font-size="8.5" fill="#262626" stroke="#262626" stroke-width="0.15" text-anchor="middle">−0.10</text>
<text transform="translate(1546.74,1793.95) scale(1.3,1)" font-family="'Liberation Sans', Arial, sans-serif" font-size="8.5" fill="#262626" stroke="#262626" stroke-width="0.15" text-anchor="middle">−0.10</text>
<text transform="translate(1561.77,1793.95) scale(1.3,1)" font-family="'Liberation Sans', Arial, sans-serif" font-size="8.5" fill="#262626" stroke="#262626" stroke-width="0.15" text-anchor="middle">−0.10</text>
<text transform="translate(1576.80,1793.95) scale(1.3,1)" font-family="'Liberation Sans', Arial, sans-serif" font-size="8.5" fill="#262626" stroke="#262626" stroke-width="0.15" text-anchor="middle">−0.10</text>
<text transform="translate(1591.83,1793.95) scale(1.3,1)" font-family="'Liberation Sans', Arial, sans-serif" font-size="8.5" fill="#262626" stroke="#262626" stroke-width="0.15" text-anchor="middle">−0.10</text>
<text transform="translate(1606.86,1793.95) scale(1.3,1)" font-family="'Liberation Sans', Arial, sans-serif" font-size="8.5" fill="#262626" stroke="#262626" stroke-width="0.15" text-anchor="middle">−0.18</text>
<text transform="translate(1621.89,1793.95) scale(1.3,1)" font-family="'Liberation Sans', Arial, sans-serif" font-size="8.5" fill="#262626" stroke="#262626" stroke-width="0.15" text-anchor="middle">−0.10</text>
<text transform="translate(1636.92,1793.95) scale(1.3,1)" font-family="'Liberation Sans', Arial, sans-serif" font-size="8.5" fill="#262626" stroke="#262626" stroke-width="0.15" text-anchor="middle">−0.18</text>
<text transform="translate(1651.95,1793.95) scale(1.3,1)" font-family="'Liberation Sans', Arial, sans-serif" font-size="8.5" fill="#262626" stroke="#262626" stroke-width="0.15" text-anchor="middle">−0.10</text>
<text transform="translate(1666.98,1793.95) scale(1.3,1)" font-family="'Liberation Sans', Arial, sans-serif" font-size="8.5" fill="#262626" stroke="#262626" stroke-width="0.15" text-anchor="middle">−0.10</text>
<text transform="translate(1682.01,1793.95) scale(1.3,1)" font-family="'Liberation Sans', Arial, sans-serif" font-size="8.5" fill="#262626" stroke="#262626" stroke-width="0.15" text-anchor="middle">−0.18</text>
<text transform="translate(1697.04,1793.95) scale(1.3,1)" font-family="'Liberation Sans', Arial, sans-serif" font-size="8.5" fill="#262626" stroke="#262626" stroke-width="0.15" text-anchor="middle">−0.04</text>
<text transform="translate(1712.07,1793.95) scale(1.3,1)" font-family="'Liberation Sans', Arial, sans-serif" font-size="8.5" fill="#262626" stroke="#262626" stroke-width="0.15" text-anchor="middle">−0.04</text>
<text transform="translate(1727.11,1793.95) scale(1.3,1)" font-family="'Liberation Sans', Arial, sans-serif" font-size="8.5" fill="#262626" stroke="#262626" stroke-width="0.15" text-anchor="middle">−0.18</text>
<text transform="translate(1742.13,1793.95) scale(1.3,1)" font-family="'Liberation Sans', Arial, sans-serif" font-size="8.5" fill="#262626" stroke="#262626" stroke-width="0.15" text-anchor="middle">0.14</text>
<text transform="translate(1757.16,1793.95) scale(1.3,1)" font-family="'Liberation Sans', Arial, sans-serif" font-size="8.5" fill="#262626" stroke="#262626" stroke-width="0.15" text-anchor="middle">0.02</text>
<text transform="translate(1772.19,1793.95) scale(1.3,1)" font-family="'Liberation Sans', Arial, sans-serif" font-size="8.5" fill="#262626" stroke="#262626" stroke-width="0.15" text-anchor="middle">0.14</text>
<text transform="translate(1787.22,1793.95) scale(1.3,1)" font-family="'Liberation Sans', Arial, sans-serif" font-size="8.5" fill="#262626" stroke="#262626" stroke-width="0.15" text-anchor="middle">−0.04</text>
<text transform="translate(1802.25,1793.95) scale(1.3,1)" font-family="'Liberation Sans', Arial, sans-serif" font-size="8.5" fill="#262626" stroke="#262626" stroke-width="0.15" text-anchor="middle">0.02</text>
<text transform="translate(1817.28,1793.95) scale(1.3,1)" font-family="'Liberation Sans', Arial, sans-serif" font-size="8.5" fill="#262626" stroke="#262626" stroke-width="0.15" text-anchor="middle">−0.10</text>
<text transform="translate(418.59,30.95) scale(1.3698,1)" font-family="'Liberation Sans', Arial, sans-serif" font-size="21.46" fill="#262626" style="white-space:pre">Boxplot of collage</text>
<text transform="translate(73.77,425.66) scale(1.3300,1)" font-family="'Liberation Sans', Arial, sans-serif" font-size="17.60" fill="#262626" text-anchor="start" style="white-space:pre">1.0</text>
<text transform="translate(73.84,380.71) scale(1.3300,1)" font-family="'Liberation Sans', Arial, sans-serif" font-size="17.60" fill="#262626" text-anchor="start" style="white-space:pre">1.5</text>
<text transform="translate(73.77,335.93) scale(1.3300,1)" font-family="'Liberation Sans', Arial, sans-serif" font-size="17.60" fill="#262626" text-anchor="start" style="white-space:pre">2.0</text>
<text transform="translate(73.84,291.07) scale(1.3300,1)" font-family="'Liberation Sans', Arial, sans-serif" font-size="17.60" fill="#262626" text-anchor="start" style="white-space:pre">2.5</text>
<text transform="translate(73.77,246.21) scale(1.3300,1)" font-family="'Liberation Sans', Arial, sans-serif" font-size="17.60" fill="#262626" text-anchor="start" style="white-space:pre">3.0</text>
<text transform="translate(73.84,201.35) scale(1.3300,1)" font-family="'Liberation Sans', Arial, sans-serif" font-size="17.60" fill="#262626" text-anchor="start" style="white-space:pre">3.5</text>
<text transform="translate(73.77,156.48) scale(1.3300,1)" font-family="'Liberation Sans', Arial, sans-serif" font-size="17.60" fill="#262626" text-anchor="start" style="white-space:pre">4.0</text>
<text transform="translate(73.84,111.53) scale(1.3300,1)" font-family="'Liberation Sans', Arial, sans-serif" font-size="17.60" fill="#262626" text-anchor="start" style="white-space:pre">4.5</text>
<text transform="translate(73.77,66.76) scale(1.3300,1)" font-family="'Liberation Sans', Arial, sans-serif" font-size="17.60" fill="#262626" text-anchor="start" style="white-space:pre">5.0</text>
<text transform="translate(323.39,462.89) scale(1.3100,1)" font-family="'Liberation Sans', Arial, sans-serif" font-size="17.60" fill="#262626" text-anchor="start" style="white-space:pre">0</text>
<text transform="translate(733.27,462.71) scale(1.3100,1)" font-family="'Liberation Sans', Arial, sans-serif" font-size="17.60" fill="#262626" text-anchor="start" style="white-space:pre">1</text>
<text transform="translate(512.75,485.92) scale(1.3018,1)" font-family="'Liberation Sans', Arial, sans-serif" font-size="18.07" fill="#262626" style="white-space:pre">sex</text>
<text transform="translate(58.95,269.37) scale(1.2872,1) rotate(-90)" font-family="'Liberation Sans', Arial, sans-serif" font-size="18.17" fill="#262626" style="white-space:pre">collage</text>
<text transform="translate(468.81,567.10) scale(1.0199,1)" font-family="'Liberation Serif', 'Times New Roman', serif" font-size="39.92" fill="#000" style="white-space:pre">(1)</text>
<text transform="translate(1253.57,29.59) scale(1.4094,1)" font-family="'Liberation Sans', Arial, sans-serif" font-size="20.28" fill="#262626" style="white-space:pre">Violin plot of   Ankle pain prevent activity</text>
<text transform="translate(1056.94,403.48) scale(1.3100,1)" font-family="'Liberation Sans', Arial, sans-serif" font-size="17.60" fill="#262626" text-anchor="start" style="white-space:pre">−0.2</text>
<text transform="translate(1070.15,355.76) scale(1.3100,1)" font-family="'Liberation Sans', Arial, sans-serif" font-size="17.60" fill="#262626" text-anchor="start" style="white-space:pre">0.0</text>
<text transform="translate(1070.41,308.04) scale(1.3100,1)" font-family="'Liberation Sans', Arial, sans-serif" font-size="17.60" fill="#262626" text-anchor="start" style="white-space:pre">0.2</text>
<text transform="translate(1069.92,260.32) scale(1.3100,1)" font-family="'Liberation Sans', Arial, sans-serif" font-size="17.60" fill="#262626" text-anchor="start" style="white-space:pre">0.4</text>
<text transform="translate(1070.26,212.60) scale(1.3100,1)" font-family="'Liberation Sans', Arial, sans-serif" font-size="17.60" fill="#262626" text-anchor="start" style="white-space:pre">0.6</text>
<text transform="translate(1070.25,164.88) scale(1.3100,1)" font-family="'Liberation Sans', Arial, sans-serif" font-size="17.60" fill="#262626" text-anchor="start" style="white-space:pre">0.8</text>
<text transform="translate(1070.15,117.16) scale(1.3100,1)" font-family="'Liberation Sans', Arial, sans-serif" font-size="17.60" fill="#262626" text-anchor="start" style="white-space:pre">1.0</text>
<text transform="translate(1070.41,69.52) scale(1.3100,1)" font-family="'Liberation Sans', Arial, sans-serif" font-size="17.60" fill="#262626" text-anchor="start" style="white-space:pre">1.2</text>
<text transform="translate(1314.34,443.59) scale(1.2800,1)" font-family="'Liberation Sans', Arial, sans-serif" font-size="17.60" fill="#262626" text-anchor="start" style="white-space:pre">0</text>
<text transform="translate(1715.93,443.41) scale(1.2800,1)" font-family="'Liberation Sans', Arial, sans-serif" font-size="17.60" fill="#262626" text-anchor="start" style="white-space:pre">1</text>
<text transform="translate(1500.17,465.81) scale(1.1532,1)" font-family="'Liberation Sans', Arial, sans-serif" font-size="19.71" fill="#262626" style="white-space:pre">sex</text>
<text transform="translate(1038.06,333.03) scale(1.1529,1) rotate(-90)" font-family="'Liberation Sans', Arial, sans-serif" font-size="17.31" fill="#262626" style="white-space:pre">Ankle pain prevent activity</text>
<text transform="translate(1448.75,542.59) scale(1.0642,1)" font-family="'Liberation Serif', 'Times New Roman', serif" font-size="39.48" fill="#000" style="white-space:pre">(2)</text>
<text transform="translate(391.19,628.62) scale(1.6096,1)" font-family="'Liberation Sans', Arial, sans-serif" font-size="18.24" fill="#262626" style="white-space:pre">Boxplot of Extra work</text>
<text transform="translate(74.50,995.29) scale(1.3100,1)" font-family="'Liberation Sans', Arial, sans-serif" font-size="17.40" fill="#262626" text-anchor="start" style="white-space:pre">0.0</text>
<text transform="translate(74.76,928.63) scale(1.3100,1)" font-family="'Liberation Sans', Arial, sans-serif" font-size="17.40" fill="#262626" text-anchor="start" style="white-space:pre">0.2</text>
<text transform="translate(74.28,861.97) scale(1.3100,1)" font-family="'Liberation Sans', Arial, sans-serif" font-size="17.40" fill="#262626" text-anchor="start" style="white-space:pre">0.4</text>
<text transform="translate(74.61,795.31) scale(1.3100,1)" font-family="'Liberation Sans', Arial, sans-serif" font-size="17.40" fill="#262626" text-anchor="start" style="white-space:pre">0.6</text>
<text transform="translate(74.60,728.65) scale(1.3100,1)" font-family="'Liberation Sans', Arial, sans-serif" font-size="17.40" fill="#262626" text-anchor="start" style="white-space:pre">0.8</text>
<text transform="translate(74.50,661.99) scale(1.3100,1)" font-family="'Liberation Sans', Arial, sans-serif" font-size="17.40" fill="#262626" text-anchor="start" style="white-space:pre">1.0</text>
<text transform="translate(323.26,1030.85) scale(1.3100,1)" font-family="'Liberation Sans', Arial, sans-serif" font-size="17.40" fill="#262626" text-anchor="start" style="white-space:pre">0</text>
<text transform="translate(733.05,1030.67) scale(1.3100,1)" font-family="'Liberation Sans', Arial, sans-serif" font-size="17.40" fill="#262626" text-anchor="start" style="white-space:pre">1</text>
<text transform="translate(512.53,1051.50) scale(1.1597,1)" font-family="'Liberation Sans', Arial, sans-serif" font-size="20.63" fill="#262626" style="white-space:pre">sex</text>
<text transform="translate(57.27,865.89) scale(1.3834,1) rotate(-90)" font-family="'Liberation Sans', Arial, sans-serif" font-size="16.93" fill="#262626" style="white-space:pre">Extra work</text>
<text transform="translate(468.79,1130.94) scale(1.0513,1)" font-family="'Liberation Serif', 'Times New Roman', serif" font-size="39.26" fill="#000" style="white-space:pre">(3)</text>
<text transform="translate(1338.49,628.91) scale(1.4568,1)" font-family="'Liberation Sans', Arial, sans-serif" font-size="20.17" fill="#262626" style="white-space:pre">Histogram of scintific rank</text>
<text transform="translate(1069.80,1011.38) scale(1.3700,1)" font-family="'Liberation Sans', Arial, sans-serif" font-size="16.80" fill="#262626" text-anchor="start" style="white-space:pre">0</text>
<text transform="translate(1057.00,967.81) scale(1.3700,1)" font-family="'Liberation Sans', Arial, sans-serif" font-size="16.80" fill="#262626" text-anchor="start" style="white-space:pre">10</text>
<text transform="translate(1057.00,924.24) scale(1.3700,1)" font-family="'Liberation Sans', Arial, sans-serif" font-size="16.80" fill="#262626" text-anchor="start" style="white-space:pre">20</text>
<text transform="translate(1057.00,880.67) scale(1.3700,1)" font-family="'Liberation Sans', Arial, sans-serif" font-size="16.80" fill="#262626" text-anchor="start" style="white-space:pre">30</text>
<text transform="translate(1057.00,837.10) scale(1.3700,1)" font-family="'Liberation Sans', Arial, sans-serif" font-size="16.80" fill="#262626" text-anchor="start" style="white-space:pre">40</text>
<text transform="translate(1057.00,793.53) scale(1.3700,1)" font-family="'Liberation Sans', Arial, sans-serif" font-size="16.80" fill="#262626" text-anchor="start" style="white-space:pre">50</text>
<text transform="translate(1057.00,749.96) scale(1.3700,1)" font-family="'Liberation Sans', Arial, sans-serif" font-size="16.80" fill="#262626" text-anchor="start" style="white-space:pre">60</text>
<text transform="translate(1057.00,706.39) scale(1.3700,1)" font-family="'Liberation Sans', Arial, sans-serif" font-size="16.80" fill="#262626" text-anchor="start" style="white-space:pre">70</text>
<text transform="translate(1057.00,662.82) scale(1.3700,1)" font-family="'Liberation Sans', Arial, sans-serif" font-size="16.80" fill="#262626" text-anchor="start" style="white-space:pre">80</text>
<text transform="translate(1122.50,1029.43) scale(1.3300,1)" font-family="'Liberation Sans', Arial, sans-serif" font-size="16.80" fill="#262626" text-anchor="start" style="white-space:pre">1.0</text>
<text transform="translate(1215.84,1029.26) scale(1.3300,1)" font-family="'Liberation Sans', Arial, sans-serif" font-size="16.80" fill="#262626" text-anchor="start" style="white-space:pre">1.5</text>
<text transform="translate(1309.39,1029.43) scale(1.3300,1)" font-family="'Liberation Sans', Arial, sans-serif" font-size="16.80" fill="#262626" text-anchor="start" style="white-space:pre">2.0</text>
<text transform="translate(1402.73,1029.43) scale(1.3300,1)" font-family="'Liberation Sans', Arial, sans-serif" font-size="16.80" fill="#262626" text-anchor="start" style="white-space:pre">2.5</text>
<text transform="translate(1496.13,1029.43) scale(1.3300,1)" font-family="'Liberation Sans', Arial, sans-serif" font-size="16.80" fill="#262626" text-anchor="start" style="white-space:pre">3.0</text>
<text transform="translate(1589.46,1029.43) scale(1.3300,1)" font-family="'Liberation Sans', Arial, sans-serif" font-size="16.80" fill="#262626" text-anchor="start" style="white-space:pre">3.5</text>
<text transform="translate(1682.90,1029.43) scale(1.3300,1)" font-family="'Liberation Sans', Arial, sans-serif" font-size="16.80" fill="#262626" text-anchor="start" style="white-space:pre">4.0</text>
<text transform="translate(1776.23,1029.26) scale(1.3300,1)" font-family="'Liberation Sans', Arial, sans-serif" font-size="16.80" fill="#262626" text-anchor="start" style="white-space:pre">4.5</text>
<text transform="translate(1869.31,1029.43) scale(1.3300,1)" font-family="'Liberation Sans', Arial, sans-serif" font-size="16.80" fill="#262626" text-anchor="start" style="white-space:pre">5.0</text>
<text transform="translate(1441.53,1050.94) scale(1.4460,1)" font-family="'Liberation Sans', Arial, sans-serif" font-size="16.75" fill="#262626" style="white-space:pre">scintific rank</text>
<text transform="translate(1041.96,846.46) scale(1.4547,1) rotate(-90)" font-family="'Liberation Sans', Arial, sans-serif" font-size="16.89" fill="#262626" style="white-space:pre">Count</text>
<text transform="translate(1449.38,1131.18) scale(1.0333,1)" font-family="'Liberation Serif', 'Times New Roman', serif" font-size="40.03" fill="#000" style="white-space:pre">(4)</text>
<text transform="translate(1837.23,666.94) scale(1.4480,1)" font-family="'Liberation Sans', Arial, sans-serif" font-size="16.61" fill="#262626" style="white-space:pre">sex</text>
<text transform="translate(1888.33,690.64) scale(1.3193,1)" font-family="'Liberation Sans', Arial, sans-serif" font-size="16.81" fill="#262626" style="white-space:pre">0</text>
<text transform="translate(1889.23,714.60) scale(0.8850,1)" font-family="'Liberation Sans', Arial, sans-serif" font-size="17.30" fill="#262626" style="white-space:pre">1</text>
<text transform="translate(275.97,1194.89) scale(1.4210,1)" font-family="'Liberation Sans', Arial, sans-serif" font-size="20.28" fill="#262626" style="white-space:pre">Violin plot of   Elbow pain prevent activity</text>
<text transform="translate(73.57,1592.08) scale(1.3300,1)" font-family="'Liberation Sans', Arial, sans-serif" font-size="17.60" fill="#262626" text-anchor="start" style="white-space:pre">−0.2</text>
<text transform="translate(86.97,1540.76) scale(1.3300,1)" font-family="'Liberation Sans', Arial, sans-serif" font-size="17.60" fill="#262626" text-anchor="start" style="white-space:pre">0.0</text>
<text transform="translate(87.24,1489.44) scale(1.3300,1)" font-family="'Liberation Sans', Arial, sans-serif" font-size="17.60" fill="#262626" text-anchor="start" style="white-space:pre">0.2</text>
<text transform="translate(86.75,1438.12) scale(1.3300,1)" font-family="'Liberation Sans', Arial, sans-serif" font-size="17.60" fill="#262626" text-anchor="start" style="white-space:pre">0.4</text>
<text transform="translate(87.09,1386.80) scale(1.3300,1)" font-family="'Liberation Sans', Arial, sans-serif" font-size="17.60" fill="#262626" text-anchor="start" style="white-space:pre">0.6</text>
<text transform="translate(87.08,1335.48) scale(1.3300,1)" font-family="'Liberation Sans', Arial, sans-serif" font-size="17.60" fill="#262626" text-anchor="start" style="white-space:pre">0.8</text>
<text transform="translate(86.97,1284.16) scale(1.3300,1)" font-family="'Liberation Sans', Arial, sans-serif" font-size="17.60" fill="#262626" text-anchor="start" style="white-space:pre">1.0</text>
<text transform="translate(87.24,1232.92) scale(1.3300,1)" font-family="'Liberation Sans', Arial, sans-serif" font-size="17.60" fill="#262626" text-anchor="start" style="white-space:pre">1.2</text>
<text transform="translate(333.04,1629.49) scale(1.2800,1)" font-family="'Liberation Sans', Arial, sans-serif" font-size="17.60" fill="#262626" text-anchor="start" style="white-space:pre">0</text>
<text transform="translate(736.53,1629.31) scale(1.2800,1)" font-family="'Liberation Sans', Arial, sans-serif" font-size="17.60" fill="#262626" text-anchor="start" style="white-space:pre">1</text>
<text transform="translate(519.35,1652.51) scale(1.1799,1)" font-family="'Liberation Sans', Arial, sans-serif" font-size="19.71" fill="#262626" style="white-space:pre">sex</text>
<text transform="translate(54.36,1511.70) scale(1.0416,1) rotate(-90)" font-family="'Liberation Sans', Arial, sans-serif" font-size="18.23" fill="#262626" style="white-space:pre">Elbow pain prevent activity</text>
<text transform="translate(468.77,1730.21) scale(1.0674,1)" font-family="'Liberation Serif', 'Times New Roman', serif" font-size="38.93" fill="#000" style="white-space:pre">(5)</text>
<text transform="translate(1335.47,1195.14) scale(1.4076,1)" font-family="'Liberation Sans', Arial, sans-serif" font-size="21.03" fill="#262626" style="white-space:pre">Violin plot of scintific rank</text>
<text transform="translate(1057.87,1593.76) scale(1.3000,1)" font-family="'Liberation Sans', Arial, sans-serif" font-size="17.60" fill="#262626" text-anchor="start" style="white-space:pre">0</text>
<text transform="translate(1058.09,1533.37) scale(1.3000,1)" font-family="'Liberation Sans', Arial, sans-serif" font-size="17.60" fill="#262626" text-anchor="start" style="white-space:pre">1</text>
<text transform="translate(1058.13,1473.08) scale(1.3000,1)" font-family="'Liberation Sans', Arial, sans-serif" font-size="17.60" fill="#262626" text-anchor="start" style="white-space:pre">2</text>
<text transform="translate(1057.98,1412.62) scale(1.3000,1)" font-family="'Liberation Sans', Arial, sans-serif" font-size="17.60" fill="#262626" text-anchor="start" style="white-space:pre">3</text>
<text transform="translate(1057.65,1352.23) scale(1.3000,1)" font-family="'Liberation Sans', Arial, sans-serif" font-size="17.60" fill="#262626" text-anchor="start" style="white-space:pre">4</text>
<text transform="translate(1057.94,1291.77) scale(1.3000,1)" font-family="'Liberation Sans', Arial, sans-serif" font-size="17.60" fill="#262626" text-anchor="start" style="white-space:pre">5</text>
<text transform="translate(1057.98,1231.48) scale(1.3000,1)" font-family="'Liberation Sans', Arial, sans-serif" font-size="17.60" fill="#262626" text-anchor="start" style="white-space:pre">6</text>
<text transform="translate(1290.84,1629.39) scale(1.3000,1)" font-family="'Liberation Sans', Arial, sans-serif" font-size="17.60" fill="#262626" text-anchor="start" style="white-space:pre">0</text>
<text transform="translate(1707.62,1629.21) scale(1.3000,1)" font-family="'Liberation Sans', Arial, sans-serif" font-size="17.60" fill="#262626" text-anchor="start" style="white-space:pre">1</text>
<text transform="translate(1483.02,1653.51) scale(1.2334,1)" font-family="'Liberation Sans', Arial, sans-serif" font-size="19.71" fill="#262626" style="white-space:pre">sex</text>
<text transform="translate(1042.35,1458.01) scale(1.4101,1) rotate(-90)" font-family="'Liberation Sans', Arial, sans-serif" font-size="18.15" fill="#262626" style="white-space:pre">scintific rank</text>
<text transform="translate(1448.73,1730.74) scale(1.0820,1)" font-family="'Liberation Serif', 'Times New Roman', serif" font-size="39.26" fill="#000" style="white-space:pre">(6)</text>
<text transform="translate(394.88,1799.96) scale(1.1846,1)" font-family="'Liberation Sans', Arial, sans-serif" font-size="23.82" fill="#262626" style="white-space:pre">Violin plot of Extra work</text>
<text transform="translate(73.47,2228.38) scale(1.3000,1)" font-family="'Liberation Sans', Arial, sans-serif" font-size="17.60" fill="#262626" text-anchor="start" style="white-space:pre">−0.25</text>
<text transform="translate(86.76,2168.26) scale(1.3000,1)" font-family="'Liberation Sans', Arial, sans-serif" font-size="17.60" fill="#262626" text-anchor="start" style="white-space:pre">0.00</text>
<text transform="translate(86.83,2108.13) scale(1.3000,1)" font-family="'Liberation Sans', Arial, sans-serif" font-size="17.60" fill="#262626" text-anchor="start" style="white-space:pre">0.25</text>
<text transform="translate(86.76,2048.01) scale(1.3000,1)" font-family="'Liberation Sans', Arial, sans-serif" font-size="17.60" fill="#262626" text-anchor="start" style="white-space:pre">0.50</text>
<text transform="translate(86.83,1987.88) scale(1.3000,1)" font-family="'Liberation Sans', Arial, sans-serif" font-size="17.60" fill="#262626" text-anchor="start" style="white-space:pre">0.75</text>
<text transform="translate(86.76,1927.76) scale(1.3000,1)" font-family="'Liberation Sans', Arial, sans-serif" font-size="17.60" fill="#262626" text-anchor="start" style="white-space:pre">1.00</text>
<text transform="translate(86.83,1867.63) scale(1.3000,1)" font-family="'Liberation Sans', Arial, sans-serif" font-size="17.60" fill="#262626" text-anchor="start" style="white-space:pre">1.25</text>
<text transform="translate(341.54,2300.79) scale(1.3000,1)" font-family="'Liberation Sans', Arial, sans-serif" font-size="17.60" fill="#262626" text-anchor="start" style="white-space:pre">0</text>
<text transform="translate(739.52,2300.61) scale(1.3000,1)" font-family="'Liberation Sans', Arial, sans-serif" font-size="17.60" fill="#262626" text-anchor="start" style="white-space:pre">1</text>
<text transform="translate(524.95,2329.97) scale(1.0119,1)" font-family="'Liberation Sans', Arial, sans-serif" font-size="23.18" fill="#262626" style="white-space:pre">sex</text>
<text transform="translate(57.27,2095.45) scale(1.1735,1) rotate(-90)" font-family="'Liberation Sans', Arial, sans-serif" font-size="20.08" fill="#262626" style="white-space:pre">Extra work</text>
<text transform="translate(468.03,2410.52) scale(1.0670,1)" font-family="'Liberation Serif', 'Times New Roman', serif" font-size="39.81" fill="#000" style="white-space:pre">(7)</text>
<text transform="translate(1448.94,2443.57) scale(1.0222,1)" font-family="'Liberation Serif', 'Times New Roman', serif" font-size="41.47" fill="#000" style="white-space:pre">(8)</text>
<rect x="0.00" y="0.00" width="1964.00" height="2.00" fill="#000" />
<rect x="0.00" y="2477.20" width="1964.00" height="2.80" fill="#000" />
<rect x="0.00" y="0.00" width="2.20" height="2480.00" fill="#000" />
<rect x="1961.50" y="0.00" width="2.50" height="2480.00" fill="#000" />
<rect x="982.90" y="0.00" width="2.20" height="2480.00" fill="#000" />
<rect x="0.00" y="600.50" width="1964.00" height="2.20" fill="#000" />
<rect x="0.00" y="1164.30" width="1964.00" height="2.30" fill="#000" />
<rect x="0.00" y="1765.10" width="1964.00" height="2.00" fill="#000" />
</svg></body></html>
